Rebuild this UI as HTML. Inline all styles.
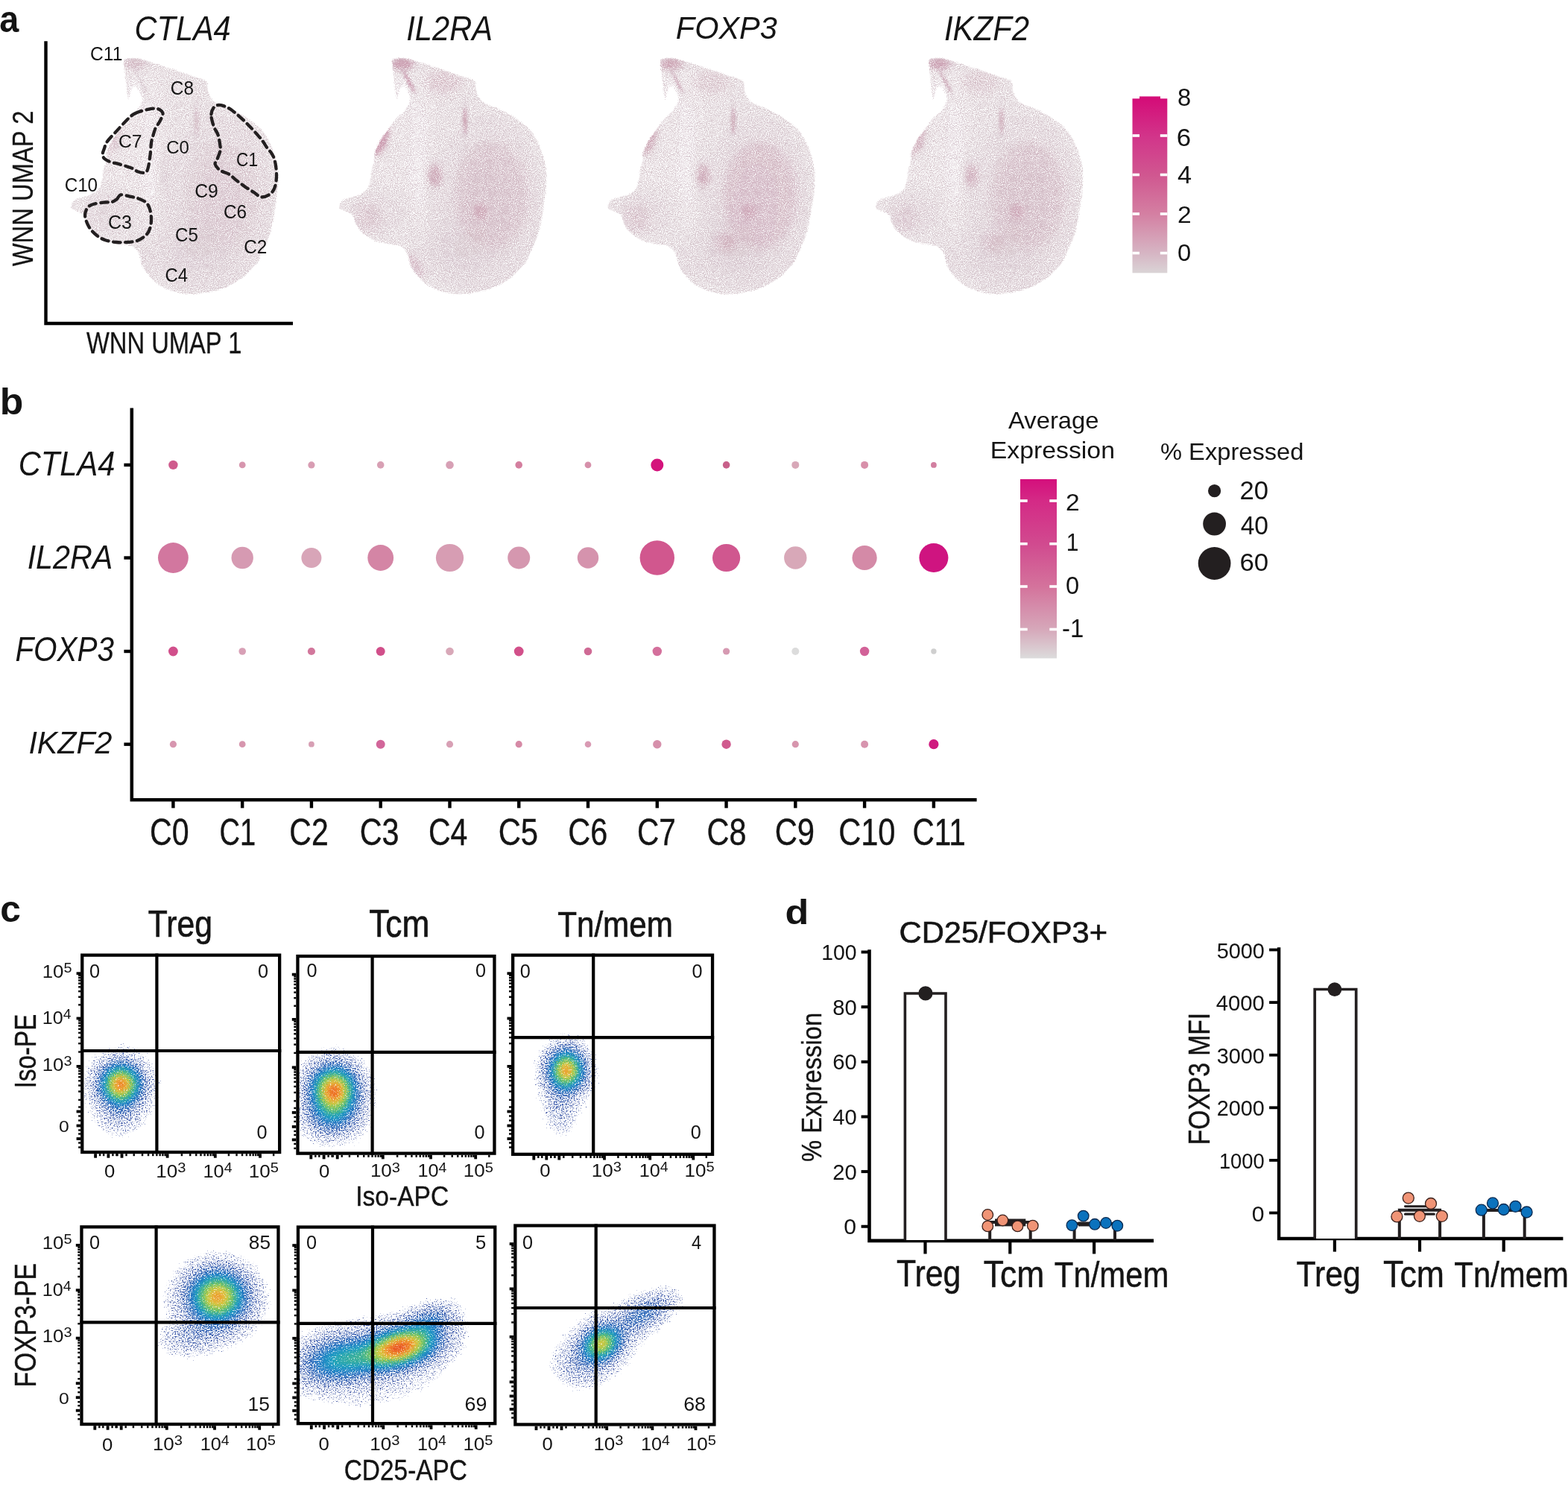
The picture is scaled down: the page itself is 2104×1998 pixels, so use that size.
<!DOCTYPE html><html><head><meta charset="utf-8"><title>Figure</title><style>html,body{margin:0;padding:0;background:#fff}svg{display:block}</style></head><body>
<svg xmlns="http://www.w3.org/2000/svg" width="2104" height="1998" viewBox="0 0 2104 1998">
<rect width="100%" height="100%" fill="#fff"/>
<defs>
<path id="blob" d="M166.0,79.0 C167.9,77.2 173.3,77.2 177.0,77.0 C180.7,76.8 182.5,76.8 188.0,78.0 C193.5,79.2 202.5,82.2 210.0,84.5 C217.5,86.8 225.3,89.4 233.0,92.0 C240.7,94.6 249.5,97.8 256.0,100.0 C262.5,102.2 268.2,103.3 272.0,105.0 C275.8,106.7 277.7,107.8 279.0,110.0 C280.3,112.2 279.5,115.2 280.0,118.0 C280.5,120.8 280.3,123.8 282.0,127.0 C283.7,130.2 286.2,134.3 290.0,137.0 C293.8,139.7 299.7,140.6 305.0,143.0 C310.3,145.4 316.2,148.2 322.0,151.5 C327.8,154.8 334.7,158.9 340.0,163.0 C345.3,167.1 350.0,171.0 354.0,176.0 C358.0,181.0 361.3,187.3 364.0,193.0 C366.7,198.7 368.3,204.2 370.0,210.0 C371.7,215.8 373.3,222.2 374.0,228.0 C374.7,233.8 374.2,239.7 374.0,245.0 C373.8,250.3 373.7,254.2 373.0,260.0 C372.3,265.8 371.0,273.7 370.0,280.0 C369.0,286.3 368.3,291.7 367.0,298.0 C365.7,304.3 364.2,311.7 362.0,318.0 C359.8,324.3 356.5,330.3 354.0,336.0 C351.5,341.7 350.0,347.3 347.0,352.0 C344.0,356.7 339.8,360.2 336.0,364.0 C332.2,367.8 329.8,371.1 324.0,375.0 C318.2,378.9 308.8,384.4 301.0,387.5 C293.2,390.6 284.8,392.1 277.0,393.5 C269.2,394.9 261.5,396.2 254.0,396.0 C246.5,395.8 239.0,394.2 232.0,392.0 C225.0,389.8 217.7,386.8 212.0,383.0 C206.3,379.2 201.7,373.3 198.0,369.0 C194.3,364.7 192.0,361.5 190.0,357.0 C188.0,352.5 187.8,346.0 186.0,342.0 C184.2,338.0 181.5,335.0 179.0,333.0 C176.5,331.0 174.8,330.9 171.0,330.0 C167.2,329.1 161.1,328.5 156.0,327.4 C150.9,326.3 145.8,326.0 140.7,323.6 C135.6,321.2 129.4,316.6 125.5,313.0 C121.5,309.4 119.2,306.0 117.0,302.0 C114.8,298.0 114.3,291.9 112.0,289.0 C109.7,286.1 105.8,285.8 103.0,284.5 C100.2,283.2 96.9,282.3 95.5,281.0 C94.1,279.7 93.8,278.8 94.5,276.5 C95.2,274.2 95.8,269.9 99.7,267.4 C103.6,264.9 112.7,263.7 118.0,261.4 C123.3,259.1 128.6,257.4 131.6,253.8 C134.6,250.2 134.9,244.6 136.0,240.0 C137.1,235.4 137.2,230.0 138.0,226.0 C138.8,222.0 140.4,219.5 141.0,216.0 C141.6,212.5 140.7,208.5 141.5,205.0 C142.3,201.5 144.2,198.5 146.0,195.0 C147.8,191.5 149.9,187.2 152.0,184.0 C154.1,180.8 156.3,178.5 158.5,175.5 C160.7,172.5 162.8,169.1 165.0,166.0 C167.2,162.9 169.4,159.7 172.0,157.0 C174.6,154.3 178.3,152.4 180.8,149.6 C183.3,146.8 185.6,142.9 187.0,140.0 C188.4,137.1 189.7,134.7 189.5,132.0 C189.3,129.3 187.4,126.5 186.0,124.0 C184.6,121.5 182.5,117.2 181.0,117.0 C179.5,116.8 178.2,120.5 177.0,123.0 C175.8,125.5 174.9,129.9 174.0,132.0 C173.1,134.1 172.2,136.8 171.5,135.5 C170.8,134.2 170.2,128.9 169.5,124.0 C168.8,119.1 168.2,112.0 167.5,106.0 C166.8,100.0 165.8,92.5 165.5,88.0 C165.2,83.5 164.1,80.8 166.0,79.0Z"/>
<clipPath id="blobclip"><use href="#blob"/></clipPath>
<filter id="blur3" x="-50%" y="-50%" width="200%" height="200%"><feGaussianBlur stdDeviation="6"/></filter>
<filter id="blurS" x="-200%" y="-50%" width="500%" height="200%"><feGaussianBlur stdDeviation="1.5"/></filter>
<filter id="blurM" x="-50%" y="-50%" width="200%" height="200%"><feGaussianBlur stdDeviation="3.5"/></filter>
<filter id="soft" x="-5%" y="-5%" width="110%" height="110%"><feGaussianBlur stdDeviation="0.8"/></filter>
<linearGradient id="cbA" x1="0" y1="0" x2="0" y2="1"><stop offset="0" stop-color="#d40d78"/><stop offset="0.22" stop-color="#d2358a"/><stop offset="0.44" stop-color="#d05790"/><stop offset="0.66" stop-color="#d47fa2"/><stop offset="0.89" stop-color="#d6b6c4"/><stop offset="1" stop-color="#dad4d6"/></linearGradient>
<linearGradient id="cbB" x1="0" y1="0" x2="0" y2="1"><stop offset="0" stop-color="#d40f7c"/><stop offset="0.12" stop-color="#d42a86"/><stop offset="0.36" stop-color="#d14a8f"/><stop offset="0.60" stop-color="#d4739c"/><stop offset="0.84" stop-color="#d6a8ba"/><stop offset="1" stop-color="#dcdcdc"/></linearGradient>
<filter id="speck" filterUnits="userSpaceOnUse" x="0" y="1150" width="1000" height="848" color-interpolation-filters="sRGB"><feTurbulence type="fractalNoise" baseFrequency="0.6" numOctaves="2" seed="11" result="n"/><feColorMatrix in="n" type="matrix" values="0 0 0 0 0  0 0 0 0 0  0 0 0 0 0  1 0 0 0 0" result="na"/><feGaussianBlur in="SourceGraphic" stdDeviation="1.4" result="b0"/><feTurbulence type="fractalNoise" baseFrequency="0.9" numOctaves="1" seed="23" result="n2"/><feDisplacementMap in="b0" in2="n2" scale="18" xChannelSelector="R" yChannelSelector="G" result="b"/><feComposite in="b" in2="na" operator="arithmetic" k1="0" k2="4" k3="4" k4="-4" result="m"/><feColorMatrix in="b" type="matrix" values="1 0 0 0 0  0 1 0 0 0  0 0 1 0 0  0 0 0 0 1" result="op"/><feComposite in="op" in2="m" operator="in"/></filter>
<filter id="speckU" filterUnits="userSpaceOnUse" x="0" y="50" width="1500" height="370" color-interpolation-filters="sRGB"><feGaussianBlur in="SourceGraphic" stdDeviation="1.2" result="b"/><feTurbulence type="fractalNoise" baseFrequency="0.95" numOctaves="2" seed="5" result="n"/><feColorMatrix in="n" type="matrix" values="0 0 0 0 0  0 0 0 0 0  0 0 0 0 0  1 0 0 0 0" result="na"/><feComposite in="b" in2="na" operator="arithmetic" k1="0" k2="3" k3="3" k4="-3" result="m"/><feColorMatrix in="b" type="matrix" values="1 0 0 0 0  0 1 0 0 0  0 0 1 0 0  0 0 0 0 1" result="op"/><feComposite in="op" in2="m" operator="in" result="s"/><feGaussianBlur in="s" stdDeviation="0.45"/></filter>
<clipPath id="blobclipk0"><use href="#blob" transform="translate(0,0)"/></clipPath><clipPath id="blobclipk1"><use href="#blob" transform="translate(360,0)"/></clipPath><clipPath id="blobclipk2"><use href="#blob" transform="translate(720,0)"/></clipPath><clipPath id="blobclipk3"><use href="#blob" transform="translate(1080,0)"/></clipPath><g id="ucov" clip-path="url(#blobclip)"><path d="M180 116h4v4h-4zM180 120h4v4h-4zM180 124h4v4h-4z" fill-opacity="0.550"/><path d="M180 112h4v4h-4zM176 116h4v4h-4zM184 116h4v4h-4zM176 120h4v4h-4zM184 120h4v4h-4zM176 124h4v4h-4zM184 124h4v4h-4zM180 128h4v4h-4z" fill-opacity="0.575"/><path d="M176 108h8v4h-8zM176 112h4v4h-4zM184 112h4v4h-4zM176 128h4v4h-4zM184 128h4v4h-4zM176 132h12v4h-12zM180 136h4v4h-4zM200 216h4v4h-4zM200 220h4v4h-4zM200 224h4v4h-4zM200 228h4v4h-4zM200 232h4v4h-4zM200 236h4v4h-4z" fill-opacity="0.600"/><path d="M176 104h8v4h-8zM172 108h4v4h-4zM172 112h4v4h-4zM172 116h4v4h-4zM172 120h4v4h-4zM188 120h4v4h-4zM172 124h4v4h-4zM188 124h4v4h-4zM172 128h4v4h-4zM188 128h4v4h-4zM172 132h4v4h-4zM188 132h4v4h-4zM176 136h4v4h-4zM184 136h8v4h-8zM196 136h4v4h-4zM176 140h28v4h-28zM180 144h8v4h-8zM192 144h16v4h-16zM192 148h16v4h-16zM192 152h20v4h-20zM192 156h20v4h-20zM192 160h20v4h-20zM192 164h20v4h-20zM192 168h20v4h-20zM192 172h20v4h-20zM192 176h20v4h-20zM192 180h20v4h-20zM192 184h20v4h-20zM192 188h20v4h-20zM192 192h20v4h-20zM192 196h20v4h-20zM192 200h20v4h-20zM192 204h20v4h-20zM192 208h20v4h-20zM192 212h20v4h-20zM188 216h12v4h-12zM204 216h8v4h-8zM188 220h12v4h-12zM204 220h4v4h-4zM188 224h12v4h-12zM204 224h4v4h-4zM188 228h12v4h-12zM204 228h4v4h-4zM188 232h12v4h-12zM204 232h4v4h-4zM188 236h12v4h-12zM204 236h4v4h-4zM188 240h20v4h-20zM192 244h16v4h-16zM192 248h16v4h-16zM192 252h16v4h-16zM196 256h12v4h-12zM196 260h12v4h-12zM196 264h12v4h-12zM200 268h4v4h-4zM200 272h4v4h-4z" fill-opacity="0.625"/><path d="M88 72h76v4h-76zM200 72h180v4h-180zM88 76h68v4h-68zM208 76h172v4h-172zM88 80h68v4h-68zM216 80h164v4h-164zM88 84h64v4h-64zM220 84h160v4h-160zM88 88h68v4h-68zM220 88h8v4h-8zM260 88h120v4h-120zM88 92h72v4h-72zM212 92h4v4h-4zM276 92h104v4h-104zM88 96h88v4h-88zM196 96h20v4h-20zM284 96h96v4h-96zM88 100h92v4h-92zM188 100h28v4h-28zM296 100h84v4h-84zM88 104h88v4h-88zM192 104h24v4h-24zM304 104h76v4h-76zM88 108h84v4h-84zM184 108h4v4h-4zM192 108h24v4h-24zM312 108h68v4h-68zM88 112h84v4h-84zM196 112h20v4h-20zM324 112h56v4h-56zM88 116h84v4h-84zM196 116h20v4h-20zM328 116h52v4h-52zM88 120h84v4h-84zM200 120h16v4h-16zM336 120h44v4h-44zM88 124h84v4h-84zM192 124h4v4h-4zM200 124h20v4h-20zM340 124h40v4h-40zM88 128h84v4h-84zM192 128h4v4h-4zM200 128h20v4h-20zM344 128h36v4h-36zM88 132h84v4h-84zM192 132h28v4h-28zM352 132h28v4h-28zM88 136h88v4h-88zM192 136h4v4h-4zM200 136h24v4h-24zM352 136h28v4h-28zM88 140h88v4h-88zM204 140h20v4h-20zM356 140h24v4h-24zM88 144h92v4h-92zM188 144h4v4h-4zM208 144h16v4h-16zM360 144h20v4h-20zM88 148h104v4h-104zM208 148h16v4h-16zM364 148h16v4h-16zM88 152h104v4h-104zM212 152h12v4h-12zM368 152h12v4h-12zM88 156h104v4h-104zM212 156h12v4h-12zM368 156h12v4h-12zM88 160h104v4h-104zM212 160h12v4h-12zM372 160h8v4h-8zM88 164h64v4h-64zM160 164h32v4h-32zM212 164h12v4h-12zM372 164h8v4h-8zM88 168h60v4h-60zM164 168h28v4h-28zM212 168h8v4h-8zM376 168h4v4h-4zM88 172h56v4h-56zM164 172h28v4h-28zM212 172h8v4h-8zM376 172h4v4h-4zM88 176h56v4h-56zM168 176h24v4h-24zM212 176h8v4h-8zM88 180h56v4h-56zM168 180h24v4h-24zM212 180h8v4h-8zM88 184h56v4h-56zM168 184h24v4h-24zM212 184h8v4h-8zM88 188h56v4h-56zM168 188h24v4h-24zM212 188h8v4h-8zM88 192h56v4h-56zM168 192h24v4h-24zM212 192h8v4h-8zM88 196h56v4h-56zM168 196h24v4h-24zM212 196h4v4h-4zM88 200h56v4h-56zM168 200h24v4h-24zM212 200h4v4h-4zM88 204h56v4h-56zM164 204h28v4h-28zM212 204h4v4h-4zM88 208h60v4h-60zM164 208h28v4h-28zM212 208h4v4h-4zM88 212h60v4h-60zM160 212h32v4h-32zM212 212h4v4h-4zM88 216h100v4h-100zM88 220h100v4h-100zM208 220h4v4h-4zM88 224h100v4h-100zM208 224h4v4h-4zM88 228h100v4h-100zM208 228h4v4h-4zM88 232h100v4h-100zM208 232h4v4h-4zM88 236h100v4h-100zM208 236h4v4h-4zM88 240h100v4h-100zM208 240h4v4h-4zM88 244h28v4h-28zM148 244h44v4h-44zM208 244h4v4h-4zM88 248h20v4h-20zM164 248h28v4h-28zM208 248h4v4h-4zM88 252h16v4h-16zM180 252h12v4h-12zM208 252h4v4h-4zM88 256h12v4h-12zM184 256h12v4h-12zM208 256h4v4h-4zM88 260h8v4h-8zM188 260h8v4h-8zM208 260h4v4h-4zM88 264h4v4h-4zM188 264h8v4h-8zM208 264h4v4h-4zM88 268h4v4h-4zM188 268h12v4h-12zM204 268h8v4h-8zM88 272h4v4h-4zM192 272h8v4h-8zM204 272h8v4h-8zM192 276h20v4h-20zM192 280h20v4h-20zM192 284h20v4h-20zM192 288h20v4h-20zM196 292h12v4h-12zM88 296h4v4h-4zM196 296h12v4h-12zM88 300h4v4h-4zM196 300h12v4h-12zM88 304h4v4h-4zM200 304h4v4h-4zM88 308h8v4h-8zM88 312h12v4h-12zM88 316h16v4h-16zM88 320h20v4h-20zM88 324h28v4h-28zM88 328h36v4h-36zM88 332h52v4h-52zM88 336h72v4h-72zM88 340h80v4h-80zM88 344h84v4h-84zM88 348h84v4h-84zM88 352h84v4h-84zM88 356h88v4h-88zM376 356h4v4h-4zM88 360h88v4h-88zM376 360h4v4h-4zM88 364h88v4h-88zM372 364h8v4h-8zM88 368h92v4h-92zM372 368h8v4h-8zM88 372h92v4h-92zM368 372h12v4h-12zM88 376h96v4h-96zM364 376h16v4h-16zM88 380h100v4h-100zM364 380h16v4h-16zM88 384h104v4h-104zM360 384h20v4h-20zM88 388h120v4h-120zM356 388h24v4h-24zM88 392h128v4h-128zM352 392h28v4h-28zM88 396h132v4h-132zM348 396h32v4h-32z" fill-opacity="0.650"/><path d="M164 72h36v4h-36zM156 76h12v4h-12zM200 76h8v4h-8zM156 80h8v4h-8zM204 80h12v4h-12zM152 84h8v4h-8zM204 84h16v4h-16zM156 88h8v4h-8zM204 88h16v4h-16zM228 88h32v4h-32zM160 92h12v4h-12zM192 92h20v4h-20zM216 92h60v4h-60zM176 96h4v4h-4zM188 96h8v4h-8zM216 96h68v4h-68zM180 100h4v4h-4zM216 100h80v4h-80zM188 104h4v4h-4zM216 104h88v4h-88zM216 108h96v4h-96zM216 112h108v4h-108zM188 116h4v4h-4zM216 116h112v4h-112zM196 120h4v4h-4zM216 120h120v4h-120zM220 124h120v4h-120zM196 128h4v4h-4zM220 128h40v4h-40zM268 128h76v4h-76zM220 132h40v4h-40zM268 132h84v4h-84zM224 136h36v4h-36zM268 136h84v4h-84zM224 140h36v4h-36zM268 140h88v4h-88zM224 144h36v4h-36zM268 144h92v4h-92zM224 148h36v4h-36zM268 148h96v4h-96zM224 152h36v4h-36zM272 152h96v4h-96zM224 156h36v4h-36zM272 156h4v4h-4zM312 156h56v4h-56zM224 160h32v4h-32zM320 160h52v4h-52zM152 164h8v4h-8zM224 164h32v4h-32zM324 164h48v4h-48zM148 168h16v4h-16zM220 168h36v4h-36zM332 168h44v4h-44zM144 172h20v4h-20zM220 172h36v4h-36zM336 172h40v4h-40zM144 176h24v4h-24zM220 176h32v4h-32zM340 176h40v4h-40zM144 180h8v4h-8zM156 180h12v4h-12zM220 180h28v4h-28zM340 180h40v4h-40zM144 184h8v4h-8zM160 184h8v4h-8zM220 184h24v4h-24zM344 184h36v4h-36zM144 188h8v4h-8zM160 188h8v4h-8zM220 188h24v4h-24zM348 188h32v4h-32zM144 192h8v4h-8zM160 192h8v4h-8zM220 192h20v4h-20zM348 192h32v4h-32zM144 196h8v4h-8zM160 196h8v4h-8zM216 196h24v4h-24zM352 196h28v4h-28zM144 200h24v4h-24zM216 200h20v4h-20zM352 200h28v4h-28zM144 204h20v4h-20zM216 204h20v4h-20zM356 204h24v4h-24zM148 208h16v4h-16zM216 208h4v4h-4zM356 208h24v4h-24zM148 212h12v4h-12zM216 212h4v4h-4zM356 212h24v4h-24zM212 216h4v4h-4zM360 216h20v4h-20zM212 220h4v4h-4zM360 220h20v4h-20zM212 224h4v4h-4zM360 224h20v4h-20zM212 228h4v4h-4zM364 228h16v4h-16zM212 232h4v4h-4zM364 232h16v4h-16zM212 236h4v4h-4zM364 236h16v4h-16zM212 240h4v4h-4zM364 240h16v4h-16zM116 244h32v4h-32zM212 244h4v4h-4zM364 244h16v4h-16zM108 248h56v4h-56zM212 248h4v4h-4zM364 248h16v4h-16zM104 252h76v4h-76zM212 252h4v4h-4zM364 252h16v4h-16zM100 256h84v4h-84zM212 256h4v4h-4zM364 256h16v4h-16zM96 260h32v4h-32zM156 260h32v4h-32zM212 260h8v4h-8zM364 260h16v4h-16zM92 264h28v4h-28zM164 264h24v4h-24zM212 264h8v4h-8zM368 264h12v4h-12zM92 268h24v4h-24zM172 268h16v4h-16zM212 268h8v4h-8zM364 268h16v4h-16zM92 272h20v4h-20zM176 272h16v4h-16zM212 272h8v4h-8zM364 272h16v4h-16zM88 276h24v4h-24zM176 276h16v4h-16zM212 276h8v4h-8zM364 276h16v4h-16zM88 280h20v4h-20zM180 280h12v4h-12zM212 280h8v4h-8zM364 280h16v4h-16zM88 284h20v4h-20zM180 284h12v4h-12zM212 284h8v4h-8zM364 284h16v4h-16zM88 288h20v4h-20zM180 288h12v4h-12zM212 288h8v4h-8zM364 288h16v4h-16zM88 292h24v4h-24zM180 292h16v4h-16zM208 292h8v4h-8zM364 292h16v4h-16zM92 296h20v4h-20zM180 296h16v4h-16zM208 296h8v4h-8zM364 296h16v4h-16zM92 300h24v4h-24zM176 300h20v4h-20zM208 300h8v4h-8zM364 300h16v4h-16zM92 304h28v4h-28zM172 304h28v4h-28zM204 304h12v4h-12zM360 304h20v4h-20zM96 308h28v4h-28zM164 308h48v4h-48zM360 308h20v4h-20zM100 312h40v4h-40zM152 312h60v4h-60zM360 312h20v4h-20zM104 316h108v4h-108zM360 316h20v4h-20zM108 320h100v4h-100zM356 320h24v4h-24zM116 324h92v4h-92zM356 324h24v4h-24zM124 328h80v4h-80zM356 328h24v4h-24zM140 332h48v4h-48zM352 332h28v4h-28zM160 336h28v4h-28zM352 336h28v4h-28zM168 340h16v4h-16zM348 340h32v4h-32zM172 344h12v4h-12zM348 344h32v4h-32zM172 348h12v4h-12zM344 348h36v4h-36zM172 352h12v4h-12zM344 352h36v4h-36zM176 356h12v4h-12zM340 356h36v4h-36zM176 360h12v4h-12zM336 360h40v4h-40zM176 364h12v4h-12zM332 364h40v4h-40zM180 368h12v4h-12zM208 368h8v4h-8zM328 368h44v4h-44zM180 372h44v4h-44zM324 372h44v4h-44zM184 376h44v4h-44zM320 376h44v4h-44zM188 380h48v4h-48zM312 380h52v4h-52zM192 384h56v4h-56zM304 384h56v4h-56zM208 388h60v4h-60zM284 388h72v4h-72zM216 392h136v4h-136zM220 396h128v4h-128z" fill-opacity="0.675"/><path d="M168 76h4v4h-4zM192 76h8v4h-8zM164 80h4v4h-4zM200 80h4v4h-4zM160 84h8v4h-8zM200 84h4v4h-4zM164 88h8v4h-8zM196 88h8v4h-8zM172 92h4v4h-4zM184 92h8v4h-8zM184 96h4v4h-4zM192 112h4v4h-4zM192 120h4v4h-4zM196 124h4v4h-4zM260 128h8v4h-8zM260 132h8v4h-8zM260 136h8v4h-8zM268 152h4v4h-4zM268 156h4v4h-4zM276 156h36v4h-36zM256 160h4v4h-4zM268 160h52v4h-52zM256 164h4v4h-4zM268 164h56v4h-56zM256 168h4v4h-4zM268 168h64v4h-64zM256 172h4v4h-4zM268 172h68v4h-68zM252 176h8v4h-8zM268 176h72v4h-72zM152 180h4v4h-4zM248 180h12v4h-12zM268 180h72v4h-72zM152 184h8v4h-8zM244 184h16v4h-16zM268 184h76v4h-76zM152 188h8v4h-8zM244 188h16v4h-16zM268 188h16v4h-16zM304 188h44v4h-44zM152 192h8v4h-8zM240 192h20v4h-20zM268 192h8v4h-8zM312 192h36v4h-36zM152 196h8v4h-8zM240 196h20v4h-20zM320 196h32v4h-32zM236 200h24v4h-24zM324 200h28v4h-28zM236 204h24v4h-24zM328 204h28v4h-28zM220 208h40v4h-40zM328 208h28v4h-28zM220 212h36v4h-36zM332 212h24v4h-24zM216 216h40v4h-40zM336 216h24v4h-24zM216 220h4v4h-4zM228 220h24v4h-24zM336 220h24v4h-24zM216 224h4v4h-4zM228 224h24v4h-24zM336 224h24v4h-24zM228 228h24v4h-24zM340 228h24v4h-24zM228 232h20v4h-20zM340 232h24v4h-24zM228 236h20v4h-20zM340 236h24v4h-24zM228 240h20v4h-20zM344 240h20v4h-20zM228 244h20v4h-20zM344 244h20v4h-20zM216 248h4v4h-4zM228 248h16v4h-16zM344 248h20v4h-20zM216 252h4v4h-4zM228 252h16v4h-16zM344 252h20v4h-20zM216 256h28v4h-28zM344 256h20v4h-20zM128 260h28v4h-28zM220 260h24v4h-24zM344 260h20v4h-20zM120 264h44v4h-44zM220 264h24v4h-24zM344 264h24v4h-24zM116 268h56v4h-56zM220 268h20v4h-20zM344 268h20v4h-20zM112 272h64v4h-64zM220 272h20v4h-20zM344 272h20v4h-20zM112 276h24v4h-24zM148 276h28v4h-28zM220 276h20v4h-20zM344 276h20v4h-20zM108 280h24v4h-24zM152 280h28v4h-28zM220 280h16v4h-16zM344 280h20v4h-20zM108 284h24v4h-24zM152 284h28v4h-28zM220 284h16v4h-16zM344 284h20v4h-20zM108 288h24v4h-24zM152 288h28v4h-28zM220 288h16v4h-16zM344 288h20v4h-20zM112 292h24v4h-24zM148 292h32v4h-32zM216 292h16v4h-16zM344 292h20v4h-20zM112 296h68v4h-68zM216 296h12v4h-12zM340 296h24v4h-24zM116 300h60v4h-60zM216 300h12v4h-12zM340 300h24v4h-24zM120 304h52v4h-52zM216 304h8v4h-8zM340 304h20v4h-20zM124 308h40v4h-40zM212 308h12v4h-12zM340 308h20v4h-20zM140 312h12v4h-12zM212 312h12v4h-12zM336 312h24v4h-24zM212 316h8v4h-8zM336 316h24v4h-24zM208 320h12v4h-12zM336 320h20v4h-20zM208 324h12v4h-12zM332 324h24v4h-24zM204 328h12v4h-12zM332 328h24v4h-24zM188 332h28v4h-28zM332 332h20v4h-20zM188 336h28v4h-28zM328 336h24v4h-24zM184 340h32v4h-32zM324 340h24v4h-24zM184 344h32v4h-32zM324 344h24v4h-24zM184 348h36v4h-36zM320 348h24v4h-24zM184 352h36v4h-36zM316 352h28v4h-28zM188 356h36v4h-36zM312 356h28v4h-28zM188 360h44v4h-44zM308 360h28v4h-28zM188 364h48v4h-48zM304 364h28v4h-28zM192 368h16v4h-16zM216 368h28v4h-28zM292 368h36v4h-36zM224 372h36v4h-36zM280 372h44v4h-44zM228 376h92v4h-92zM236 380h76v4h-76zM248 384h56v4h-56zM268 388h16v4h-16z" fill-opacity="0.700"/><path d="M172 76h20v4h-20zM168 80h4v4h-4zM192 80h8v4h-8zM168 84h4v4h-4zM196 84h4v4h-4zM172 88h4v4h-4zM188 88h8v4h-8zM176 92h4v4h-4zM184 100h4v4h-4zM184 104h4v4h-4zM260 140h8v4h-8zM260 144h8v4h-8zM260 184h8v4h-8zM260 188h8v4h-8zM284 188h20v4h-20zM260 192h8v4h-8zM276 192h36v4h-36zM260 196h60v4h-60zM260 200h64v4h-64zM260 204h68v4h-68zM260 208h68v4h-68zM256 212h76v4h-76zM256 216h80v4h-80zM220 220h8v4h-8zM252 220h36v4h-36zM300 220h36v4h-36zM220 224h8v4h-8zM252 224h28v4h-28zM308 224h28v4h-28zM216 228h12v4h-12zM252 228h24v4h-24zM312 228h28v4h-28zM216 232h4v4h-4zM224 232h4v4h-4zM248 232h28v4h-28zM316 232h24v4h-24zM216 236h4v4h-4zM224 236h4v4h-4zM248 236h24v4h-24zM316 236h24v4h-24zM216 240h4v4h-4zM224 240h4v4h-4zM248 240h24v4h-24zM320 240h24v4h-24zM216 244h12v4h-12zM248 244h20v4h-20zM320 244h24v4h-24zM220 248h8v4h-8zM244 248h24v4h-24zM320 248h24v4h-24zM220 252h8v4h-8zM244 252h24v4h-24zM324 252h20v4h-20zM244 256h20v4h-20zM324 256h20v4h-20zM244 260h20v4h-20zM324 260h20v4h-20zM244 264h20v4h-20zM324 264h20v4h-20zM240 268h24v4h-24zM324 268h20v4h-20zM240 272h20v4h-20zM324 272h20v4h-20zM136 276h12v4h-12zM240 276h20v4h-20zM324 276h20v4h-20zM132 280h20v4h-20zM236 280h24v4h-24zM324 280h20v4h-20zM132 284h20v4h-20zM236 284h20v4h-20zM324 284h20v4h-20zM132 288h20v4h-20zM236 288h16v4h-16zM324 288h20v4h-20zM136 292h12v4h-12zM232 292h20v4h-20zM320 292h24v4h-24zM228 296h20v4h-20zM320 296h20v4h-20zM228 300h16v4h-16zM320 300h20v4h-20zM224 304h20v4h-20zM320 304h20v4h-20zM224 308h16v4h-16zM320 308h20v4h-20zM224 312h12v4h-12zM316 312h20v4h-20zM220 316h16v4h-16zM316 316h20v4h-20zM220 320h12v4h-12zM316 320h20v4h-20zM220 324h12v4h-12zM316 324h16v4h-16zM216 328h16v4h-16zM312 328h20v4h-20zM216 332h12v4h-12zM312 332h20v4h-20zM216 336h16v4h-16zM308 336h20v4h-20zM216 340h16v4h-16zM304 340h20v4h-20zM216 344h16v4h-16zM304 344h20v4h-20zM220 348h16v4h-16zM300 348h20v4h-20zM220 352h20v4h-20zM292 352h24v4h-24zM224 356h24v4h-24zM288 356h24v4h-24zM232 360h32v4h-32zM268 360h40v4h-40zM236 364h68v4h-68zM244 368h48v4h-48zM260 372h20v4h-20z" fill-opacity="0.725"/><path d="M172 80h4v4h-4zM188 80h4v4h-4zM192 84h4v4h-4zM180 88h8v4h-8zM180 92h4v4h-4zM180 96h4v4h-4zM188 108h4v4h-4zM188 112h4v4h-4zM192 116h4v4h-4zM260 148h8v4h-8zM260 152h8v4h-8zM260 172h8v4h-8zM260 176h8v4h-8zM260 180h8v4h-8zM288 220h12v4h-12zM280 224h28v4h-28zM276 228h36v4h-36zM220 232h4v4h-4zM276 232h40v4h-40zM220 236h4v4h-4zM272 236h44v4h-44zM220 240h4v4h-4zM272 240h48v4h-48zM268 244h52v4h-52zM268 248h52v4h-52zM268 252h56v4h-56zM264 256h60v4h-60zM264 260h60v4h-60zM264 264h60v4h-60zM264 268h60v4h-60zM260 272h64v4h-64zM260 276h64v4h-64zM260 280h64v4h-64zM256 284h68v4h-68zM252 288h72v4h-72zM252 292h68v4h-68zM248 296h72v4h-72zM244 300h76v4h-76zM244 304h28v4h-28zM288 304h32v4h-32zM240 308h24v4h-24zM292 308h28v4h-28zM236 312h24v4h-24zM292 312h24v4h-24zM236 316h20v4h-20zM292 316h24v4h-24zM232 320h20v4h-20zM292 320h24v4h-24zM232 324h16v4h-16zM292 324h24v4h-24zM232 328h16v4h-16zM292 328h20v4h-20zM228 332h20v4h-20zM288 332h24v4h-24zM232 336h16v4h-16zM284 336h24v4h-24zM232 340h20v4h-20zM280 340h24v4h-24zM232 344h28v4h-28zM272 344h32v4h-32zM236 348h64v4h-64zM240 352h52v4h-52zM248 356h40v4h-40zM264 360h4v4h-4z" fill-opacity="0.750"/><path d="M176 80h12v4h-12zM172 84h4v4h-4zM180 84h12v4h-12zM176 88h4v4h-4zM260 156h8v4h-8zM260 160h8v4h-8zM260 164h8v4h-8zM260 168h8v4h-8zM272 304h16v4h-16zM264 308h28v4h-28zM260 312h32v4h-32zM256 316h36v4h-36zM252 320h40v4h-40zM248 324h44v4h-44zM248 328h44v4h-44zM248 332h40v4h-40zM248 336h36v4h-36zM252 340h28v4h-28zM260 344h12v4h-12z" fill-opacity="0.775"/><path d="M176 84h4v4h-4z" fill-opacity="0.800"/></g></defs>
<g filter="url(#speckU)">
<use href="#ucov" transform="translate(0,0)" fill="#d6c6cd"/>
<g clip-path="url(#blobclipk0)">
<g filter="url(#blurM)"><ellipse transform="translate(152,189) rotate(22)" rx="7" ry="21" fill="#c4809c" fill-opacity="0.15"/></g>
<g filter="url(#blur3)"><ellipse transform="translate(300,262) rotate(0)" rx="50" ry="72" fill="#c4809c" fill-opacity="0.05"/></g>
<g filter="url(#blurS)"><ellipse transform="translate(264,162) rotate(0)" rx="2.5" ry="18" fill="#c4809c" fill-opacity="0.15"/></g>
<g filter="url(#blurM)"><ellipse transform="translate(180,86) rotate(0)" rx="15" ry="7" fill="#c4809c" fill-opacity="0.15"/></g>
</g>
<use href="#ucov" transform="translate(360,0)" fill="#d6c6cd"/>
<g clip-path="url(#blobclipk1)">
<g filter="url(#blurM)"><ellipse transform="translate(540,86) rotate(0)" rx="15" ry="7" fill="#c4809c" fill-opacity="0.5"/></g>
<g filter="url(#blurS)"><ellipse transform="translate(549,110) rotate(62)" rx="16" ry="2.2" fill="#c4809c" fill-opacity="0.55"/></g>
<g filter="url(#blurM)"><ellipse transform="translate(512,189) rotate(22)" rx="7" ry="21" fill="#c4809c" fill-opacity="0.55"/></g>
<g filter="url(#blurM)"><ellipse transform="translate(584,236) rotate(0)" rx="9" ry="15" fill="#c4809c" fill-opacity="0.35"/></g>
<g filter="url(#blurM)"><ellipse transform="translate(645,284) rotate(0)" rx="9" ry="10" fill="#c4809c" fill-opacity="0.3"/></g>
<g filter="url(#blurM)"><ellipse transform="translate(558,357) rotate(-30)" rx="6" ry="18" fill="#c4809c" fill-opacity="0.2"/></g>
<g filter="url(#blur3)"><ellipse transform="translate(660,262) rotate(0)" rx="50" ry="72" fill="#c4809c" fill-opacity="0.12"/></g>
<g filter="url(#blurS)"><ellipse transform="translate(624,162) rotate(0)" rx="2.5" ry="18" fill="#c4809c" fill-opacity="0.4"/></g>
<g filter="url(#blur3)"><ellipse transform="translate(495,292) rotate(0)" rx="18" ry="18" fill="#c4809c" fill-opacity="0.12"/></g>
<g filter="url(#blur3)"><ellipse transform="translate(595,110) rotate(0)" rx="25" ry="15" fill="#c4809c" fill-opacity="0.15"/></g>
</g>
<use href="#ucov" transform="translate(720,0)" fill="#d6c6cd"/>
<g clip-path="url(#blobclipk2)">
<g filter="url(#blurM)"><ellipse transform="translate(900,86) rotate(0)" rx="15" ry="7" fill="#c4809c" fill-opacity="0.4"/></g>
<g filter="url(#blurS)"><ellipse transform="translate(909,110) rotate(62)" rx="16" ry="2.2" fill="#c4809c" fill-opacity="0.3"/></g>
<g filter="url(#blurM)"><ellipse transform="translate(872,189) rotate(22)" rx="7" ry="21" fill="#c4809c" fill-opacity="0.35"/></g>
<g filter="url(#blurM)"><ellipse transform="translate(944,236) rotate(0)" rx="9" ry="15" fill="#c4809c" fill-opacity="0.3"/></g>
<g filter="url(#blurM)"><ellipse transform="translate(1005,284) rotate(0)" rx="9" ry="10" fill="#c4809c" fill-opacity="0.25"/></g>
<g filter="url(#blur3)"><ellipse transform="translate(975,325) rotate(0)" rx="14" ry="12" fill="#c4809c" fill-opacity="0.25"/></g>
<g filter="url(#blur3)"><ellipse transform="translate(1020,262) rotate(0)" rx="50" ry="72" fill="#c4809c" fill-opacity="0.16"/></g>
<g filter="url(#blurS)"><ellipse transform="translate(984,162) rotate(0)" rx="2.5" ry="18" fill="#c4809c" fill-opacity="0.35"/></g>
<g filter="url(#blur3)"><ellipse transform="translate(855,292) rotate(0)" rx="18" ry="18" fill="#c4809c" fill-opacity="0.12"/></g>
<g filter="url(#blur3)"><ellipse transform="translate(955,110) rotate(0)" rx="25" ry="15" fill="#c4809c" fill-opacity="0.12"/></g>
</g>
<use href="#ucov" transform="translate(1080,0)" fill="#d6c6cd"/>
<g clip-path="url(#blobclipk3)">
<g filter="url(#blurM)"><ellipse transform="translate(1260,86) rotate(0)" rx="15" ry="7" fill="#c4809c" fill-opacity="0.45"/></g>
<g filter="url(#blurS)"><ellipse transform="translate(1269,110) rotate(62)" rx="16" ry="2.2" fill="#c4809c" fill-opacity="0.35"/></g>
<g filter="url(#blurM)"><ellipse transform="translate(1232,189) rotate(22)" rx="7" ry="21" fill="#c4809c" fill-opacity="0.3"/></g>
<g filter="url(#blurM)"><ellipse transform="translate(1304,236) rotate(0)" rx="9" ry="15" fill="#c4809c" fill-opacity="0.25"/></g>
<g filter="url(#blurM)"><ellipse transform="translate(1365,284) rotate(0)" rx="9" ry="10" fill="#c4809c" fill-opacity="0.25"/></g>
<g filter="url(#blur3)"><ellipse transform="translate(1335,325) rotate(0)" rx="14" ry="12" fill="#c4809c" fill-opacity="0.15"/></g>
<g filter="url(#blur3)"><ellipse transform="translate(1380,262) rotate(0)" rx="50" ry="72" fill="#c4809c" fill-opacity="0.12"/></g>
<g filter="url(#blurS)"><ellipse transform="translate(1344,162) rotate(0)" rx="2.5" ry="18" fill="#c4809c" fill-opacity="0.3"/></g>
<g filter="url(#blur3)"><ellipse transform="translate(1215,292) rotate(0)" rx="18" ry="18" fill="#c4809c" fill-opacity="0.1"/></g>
<g filter="url(#blur3)"><ellipse transform="translate(1315,110) rotate(0)" rx="25" ry="15" fill="#c4809c" fill-opacity="0.12"/></g>
</g>
</g>
<path d="M61.5,55.3 V434 H393" fill="none" stroke="#000" stroke-width="4.4"/>
<path d="M181.2,152.2 C185.9,149.9 194.3,147.6 199.4,146.6 C204.5,145.6 208.5,145.3 211.6,146.1 C214.7,146.9 217.3,149.3 218.2,151.2 C219.1,153.1 217.8,155.3 217.0,157.5 C216.2,159.7 215.0,161.8 213.6,164.3 C212.2,166.8 209.9,169.2 208.5,172.4 C207.1,175.6 205.9,180.3 205.0,183.5 C204.1,186.7 203.6,187.5 203.0,191.6 C202.4,195.7 202.3,202.4 201.5,208.2 C200.7,214.0 199.7,222.5 198.4,226.4 C197.1,230.3 196.2,231.1 193.9,231.7 C191.6,232.3 187.5,231.2 184.7,230.2 C181.9,229.2 181.2,227.3 177.2,225.7 C173.2,224.1 165.3,221.8 160.5,220.4 C155.7,219.0 151.7,218.6 148.3,217.3 C144.9,216.0 141.8,214.6 140.0,212.8 C138.2,211.0 137.7,209.0 137.7,206.7 C137.7,204.4 139.0,201.9 140.0,199.1 C141.0,196.3 141.0,193.9 143.8,190.0 C146.6,186.1 152.4,180.3 156.9,175.4 C161.4,170.5 166.9,164.2 171.0,160.3 C175.1,156.4 176.5,154.5 181.2,152.2Z" fill="none" stroke="#231f20" stroke-width="4.3" stroke-dasharray="9.5 6.5" stroke-linecap="round"/>
<path d="M156.7,267.4 C158.7,265.8 159.1,262.0 162.0,261.4 C164.9,260.8 170.2,262.8 174.0,263.6 C177.8,264.4 181.1,264.7 184.7,266.0 C188.3,267.3 192.7,268.9 195.4,271.2 C198.1,273.5 199.4,275.9 200.7,279.6 C202.0,283.3 202.9,288.9 203.0,293.2 C203.1,297.5 202.5,301.8 201.5,305.4 C200.5,308.9 199.7,311.6 196.9,314.5 C194.1,317.4 189.0,321.1 184.7,322.8 C180.4,324.6 175.8,324.6 171.0,325.0 C166.2,325.4 161.0,325.5 155.9,325.0 C150.8,324.5 145.0,323.5 140.7,322.0 C136.4,320.5 133.3,318.5 130.0,316.0 C126.7,313.5 123.4,310.2 121.0,306.9 C118.6,303.6 116.8,299.6 115.7,296.3 C114.6,293.0 113.8,290.2 114.2,287.2 C114.6,284.1 115.9,280.3 118.0,278.0 C120.1,275.7 123.2,274.6 127.0,273.5 C130.8,272.4 136.9,271.9 140.7,271.5 C144.5,271.1 147.1,271.9 149.8,271.2 C152.5,270.5 154.7,269.0 156.7,267.4Z" fill="none" stroke="#231f20" stroke-width="4.3" stroke-dasharray="9.5 6.5" stroke-linecap="round"/>
<path d="M283.4,153.3 C283.7,148.7 286.2,144.0 289.0,142.1 C291.8,140.2 296.1,140.8 300.2,142.1 C304.2,143.3 308.0,145.5 313.3,149.6 C318.6,153.7 325.8,160.2 332.0,166.4 C338.2,172.6 346.3,181.7 350.6,186.9 C354.9,192.1 355.6,194.6 357.8,197.6 C360.0,200.6 362.2,202.4 364.0,205.2 C365.8,208.0 367.3,210.5 368.4,214.3 C369.5,218.1 370.3,223.4 370.7,228.0 C371.1,232.6 371.2,237.3 370.7,241.6 C370.2,245.9 369.3,250.5 367.7,253.8 C366.1,257.1 363.8,259.6 360.9,261.4 C358.0,263.2 353.5,264.9 350.2,264.4 C346.9,263.9 344.5,260.6 341.0,258.3 C337.5,256.0 333.0,253.5 329.0,250.7 C325.0,247.9 320.4,244.4 316.8,241.6 C313.2,238.8 311.2,236.2 307.7,234.0 C304.2,231.8 298.8,231.0 295.6,228.7 C292.4,226.4 289.3,223.1 288.7,220.4 C288.1,217.8 290.6,215.9 291.8,212.8 C293.0,209.7 295.0,204.8 295.6,202.0 C296.2,199.2 296.0,199.6 295.5,196.2 C295.0,192.8 294.1,185.7 292.7,181.3 C291.3,176.9 288.6,174.7 287.0,170.0 C285.4,165.3 283.1,158.0 283.4,153.3Z" fill="none" stroke="#231f20" stroke-width="4.3" stroke-dasharray="9.5 6.5" stroke-linecap="round"/>
<rect x="1519.5" y="132.3" width="46.8" height="234" fill="url(#cbA)"/>
<rect x="1529" y="129.4" width="28" height="4" fill="#d40d78"/>
<rect x="1519.5" y="180.2" width="9.5" height="3.6" fill="#fff"/><rect x="1556.8" y="180.2" width="9.5" height="3.6" fill="#fff"/>
<rect x="1519.5" y="232.7" width="9.5" height="3.6" fill="#fff"/><rect x="1556.8" y="232.7" width="9.5" height="3.6" fill="#fff"/>
<rect x="1519.5" y="285.2" width="9.5" height="3.6" fill="#fff"/><rect x="1556.8" y="285.2" width="9.5" height="3.6" fill="#fff"/>
<rect x="1519.5" y="337.8" width="9.5" height="3.6" fill="#fff"/><rect x="1556.8" y="337.8" width="9.5" height="3.6" fill="#fff"/>
<path d="M176.8,547.5 V1073.3 H1310.6" fill="none" stroke="#000" stroke-width="4.5"/>
<rect x="166.4" y="621.6999999999999" width="9" height="4.4" fill="#000"/>
<rect x="166.4" y="746.3" width="9" height="4.4" fill="#000"/>
<rect x="166.4" y="871.8" width="9" height="4.4" fill="#000"/>
<rect x="166.4" y="996.5" width="9" height="4.4" fill="#000"/>
<rect x="230.20000000000002" y="1075" width="4.4" height="9.3" fill="#000"/>
<rect x="322.97" y="1075" width="4.4" height="9.3" fill="#000"/>
<rect x="415.74" y="1075" width="4.4" height="9.3" fill="#000"/>
<rect x="508.51000000000005" y="1075" width="4.4" height="9.3" fill="#000"/>
<rect x="601.28" y="1075" width="4.4" height="9.3" fill="#000"/>
<rect x="694.05" y="1075" width="4.4" height="9.3" fill="#000"/>
<rect x="786.8199999999999" y="1075" width="4.4" height="9.3" fill="#000"/>
<rect x="879.5899999999999" y="1075" width="4.4" height="9.3" fill="#000"/>
<rect x="972.3599999999999" y="1075" width="4.4" height="9.3" fill="#000"/>
<rect x="1065.1299999999999" y="1075" width="4.4" height="9.3" fill="#000"/>
<rect x="1157.8999999999999" y="1075" width="4.4" height="9.3" fill="#000"/>
<rect x="1250.6699999999998" y="1075" width="4.4" height="9.3" fill="#000"/>
<circle cx="232.4" cy="623.9" r="6.2" fill="#cf5b8d"/>
<circle cx="325.2" cy="623.9" r="4.4" fill="#d796ae"/>
<circle cx="417.9" cy="623.9" r="4.6" fill="#d89db3"/>
<circle cx="510.7" cy="623.9" r="4.8" fill="#d8a0b4"/>
<circle cx="603.5" cy="623.9" r="5.3" fill="#d7a0b5"/>
<circle cx="696.2" cy="623.9" r="4.8" fill="#d47f9f"/>
<circle cx="789.0" cy="623.9" r="4.4" fill="#d690aa"/>
<circle cx="881.8" cy="623.9" r="8.5" fill="#d4137c"/>
<circle cx="974.6" cy="623.9" r="4.8" fill="#c8608a"/>
<circle cx="1067.3" cy="623.9" r="5.0" fill="#d8a8b8"/>
<circle cx="1160.1" cy="623.9" r="5.0" fill="#d890aa"/>
<circle cx="1252.9" cy="623.9" r="3.9" fill="#d27fa0"/>
<circle cx="232.4" cy="748.5" r="20.4" fill="#d2779f"/>
<circle cx="325.2" cy="748.5" r="14.7" fill="#d69ab2"/>
<circle cx="417.9" cy="748.5" r="13.5" fill="#d8a5b8"/>
<circle cx="510.7" cy="748.5" r="17.4" fill="#d485a5"/>
<circle cx="603.5" cy="748.5" r="18.6" fill="#d79db3"/>
<circle cx="696.2" cy="748.5" r="15.0" fill="#d597af"/>
<circle cx="789.0" cy="748.5" r="14.2" fill="#d593ad"/>
<circle cx="881.8" cy="748.5" r="23.2" fill="#d1578e"/>
<circle cx="974.6" cy="748.5" r="18.6" fill="#d0578f"/>
<circle cx="1067.3" cy="748.5" r="15.2" fill="#d8a8b8"/>
<circle cx="1160.1" cy="748.5" r="16.6" fill="#d48aa7"/>
<circle cx="1252.9" cy="748.5" r="19.5" fill="#cf1480"/>
<circle cx="232.4" cy="874" r="6.4" fill="#d14f8b"/>
<circle cx="325.2" cy="874" r="4.8" fill="#d8a0b6"/>
<circle cx="417.9" cy="874" r="5.1" fill="#d2779c"/>
<circle cx="510.7" cy="874" r="6.0" fill="#d14f8a"/>
<circle cx="603.5" cy="874" r="5.3" fill="#d8a8b8"/>
<circle cx="696.2" cy="874" r="6.4" fill="#d2508a"/>
<circle cx="789.0" cy="874" r="5.3" fill="#cf6a95"/>
<circle cx="881.8" cy="874" r="6.2" fill="#d4709c"/>
<circle cx="974.6" cy="874" r="4.6" fill="#d69ab2"/>
<circle cx="1067.3" cy="874" r="5.0" fill="#dcdcdc"/>
<circle cx="1160.1" cy="874" r="6.2" fill="#d26298"/>
<circle cx="1252.9" cy="874" r="3.7" fill="#cfcfcf"/>
<circle cx="232.4" cy="998.7" r="4.6" fill="#d796af"/>
<circle cx="325.2" cy="998.7" r="4.4" fill="#d796ae"/>
<circle cx="417.9" cy="998.7" r="3.9" fill="#d79fb4"/>
<circle cx="510.7" cy="998.7" r="6.0" fill="#d2669a"/>
<circle cx="603.5" cy="998.7" r="4.6" fill="#d8a0b5"/>
<circle cx="696.2" cy="998.7" r="4.6" fill="#d68aa6"/>
<circle cx="789.0" cy="998.7" r="4.3" fill="#d99ab3"/>
<circle cx="881.8" cy="998.7" r="5.7" fill="#d690ab"/>
<circle cx="974.6" cy="998.7" r="6.2" fill="#d05a8e"/>
<circle cx="1067.3" cy="998.7" r="4.6" fill="#d795ad"/>
<circle cx="1160.1" cy="998.7" r="5.0" fill="#d794ae"/>
<circle cx="1252.9" cy="998.7" r="6.6" fill="#cf1a7f"/>
<rect x="1369" y="643" width="49" height="240.4" fill="url(#cbB)"/>
<rect x="1369" y="670.2" width="9.7" height="3.6" fill="#fff"/><rect x="1408.3" y="670.2" width="9.7" height="3.6" fill="#fff"/>
<rect x="1369" y="727.9000000000001" width="9.7" height="3.6" fill="#fff"/><rect x="1408.3" y="727.9000000000001" width="9.7" height="3.6" fill="#fff"/>
<rect x="1369" y="785.2" width="9.7" height="3.6" fill="#fff"/><rect x="1408.3" y="785.2" width="9.7" height="3.6" fill="#fff"/>
<rect x="1369" y="842.7" width="9.7" height="3.6" fill="#fff"/><rect x="1408.3" y="842.7" width="9.7" height="3.6" fill="#fff"/>
<circle cx="1629.6" cy="658.7" r="8.6" fill="#231f20"/>
<circle cx="1629.6" cy="703" r="15.4" fill="#231f20"/>
<circle cx="1629.6" cy="756" r="21.9" fill="#231f20"/>
<g filter="url(#speck)">
<path d="M159 1402h8v4h-8zM143 1406h40v4h-40zM135 1410h12v4h-12zM175 1410h16v4h-16zM127 1414h12v4h-12zM183 1414h12v4h-12zM123 1418h12v4h-12zM191 1418h8v4h-8zM123 1422h8v4h-8zM195 1422h8v4h-8zM119 1426h8v4h-8zM199 1426h8v4h-8zM115 1430h8v4h-8zM199 1430h8v4h-8zM115 1434h4v4h-4zM203 1434h8v4h-8zM111 1438h8v4h-8zM203 1438h8v4h-8zM111 1442h8v4h-8zM207 1442h4v4h-4zM111 1446h8v4h-8zM207 1446h4v4h-4zM111 1450h4v4h-4zM207 1450h8v4h-8zM111 1454h4v4h-4zM207 1454h8v4h-8zM111 1458h4v4h-4zM207 1458h8v4h-8zM111 1462h8v4h-8zM207 1462h8v4h-8zM111 1466h8v4h-8zM207 1466h4v4h-4zM111 1470h8v4h-8zM203 1470h8v4h-8zM115 1474h4v4h-4zM203 1474h8v4h-8zM115 1478h8v4h-8zM203 1478h4v4h-4zM115 1482h8v4h-8zM199 1482h8v4h-8zM119 1486h8v4h-8zM199 1486h8v4h-8zM119 1490h8v4h-8zM195 1490h8v4h-8zM119 1494h12v4h-12zM191 1494h12v4h-12zM123 1498h8v4h-8zM191 1498h8v4h-8zM127 1502h8v4h-8zM187 1502h8v4h-8zM127 1506h12v4h-12zM183 1506h12v4h-12zM131 1510h12v4h-12zM179 1510h12v4h-12zM135 1514h16v4h-16zM171 1514h16v4h-16zM139 1518h40v4h-40zM147 1522h24v4h-24z" fill="#4354a1" fill-opacity="0.437"/><path d="M147 1410h28v4h-28zM139 1414h16v4h-16zM171 1414h12v4h-12zM135 1418h8v4h-8zM179 1418h12v4h-12zM131 1422h8v4h-8zM187 1422h8v4h-8zM127 1426h4v4h-4zM191 1426h8v4h-8zM123 1430h8v4h-8zM195 1430h4v4h-4zM119 1434h8v4h-8zM195 1434h8v4h-8zM119 1438h8v4h-8zM199 1438h4v4h-4zM119 1442h4v4h-4zM199 1442h8v4h-8zM119 1446h4v4h-4zM203 1446h4v4h-4zM115 1450h8v4h-8zM203 1450h4v4h-4zM115 1454h8v4h-8zM203 1454h4v4h-4zM115 1458h8v4h-8zM203 1458h4v4h-4zM119 1462h4v4h-4zM203 1462h4v4h-4zM119 1466h4v4h-4zM199 1466h8v4h-8zM119 1470h4v4h-4zM199 1470h4v4h-4zM119 1474h8v4h-8zM199 1474h4v4h-4zM123 1478h4v4h-4zM195 1478h8v4h-8zM123 1482h8v4h-8zM191 1482h8v4h-8zM127 1486h8v4h-8zM191 1486h8v4h-8zM127 1490h8v4h-8zM187 1490h8v4h-8zM131 1494h8v4h-8zM183 1494h8v4h-8zM131 1498h12v4h-12zM179 1498h12v4h-12zM135 1502h12v4h-12zM175 1502h12v4h-12zM139 1506h16v4h-16zM163 1506h20v4h-20zM143 1510h36v4h-36zM151 1514h20v4h-20z" fill="#3d54a4" fill-opacity="0.498"/><path d="M155 1414h16v4h-16zM143 1418h8v4h-8zM171 1418h8v4h-8zM139 1422h4v4h-4zM183 1422h4v4h-4zM131 1426h8v4h-8zM187 1426h4v4h-4zM131 1430h4v4h-4zM191 1430h4v4h-4zM127 1434h4v4h-4zM195 1438h4v4h-4zM123 1442h4v4h-4zM195 1442h4v4h-4zM123 1446h4v4h-4zM199 1446h4v4h-4zM123 1450h4v4h-4zM199 1450h4v4h-4zM123 1454h4v4h-4zM199 1454h4v4h-4zM123 1458h4v4h-4zM199 1458h4v4h-4zM123 1462h4v4h-4zM199 1462h4v4h-4zM123 1466h4v4h-4zM195 1466h4v4h-4zM123 1470h4v4h-4zM195 1470h4v4h-4zM127 1474h4v4h-4zM195 1474h4v4h-4zM127 1478h4v4h-4zM191 1478h4v4h-4zM131 1482h4v4h-4zM187 1482h4v4h-4zM135 1486h4v4h-4zM183 1486h8v4h-8zM135 1490h8v4h-8zM179 1490h8v4h-8zM139 1494h8v4h-8zM175 1494h8v4h-8zM143 1498h8v4h-8zM167 1498h12v4h-12zM147 1502h28v4h-28zM155 1506h8v4h-8z" fill="#3654a6" fill-opacity="0.542"/><path d="M151 1418h20v4h-20zM143 1422h4v4h-4zM175 1422h8v4h-8zM139 1426h4v4h-4zM183 1426h4v4h-4zM187 1430h4v4h-4zM131 1434h4v4h-4zM191 1434h4v4h-4zM127 1438h4v4h-4zM191 1438h4v4h-4zM127 1442h4v4h-4zM195 1446h4v4h-4zM195 1450h4v4h-4zM195 1454h4v4h-4zM195 1458h4v4h-4zM195 1462h4v4h-4zM127 1466h4v4h-4zM127 1470h4v4h-4zM191 1470h4v4h-4zM131 1474h4v4h-4zM191 1474h4v4h-4zM131 1478h4v4h-4zM187 1478h4v4h-4zM135 1482h4v4h-4zM183 1482h4v4h-4zM139 1486h4v4h-4zM179 1486h4v4h-4zM143 1490h4v4h-4zM175 1490h4v4h-4zM147 1494h8v4h-8zM167 1494h8v4h-8zM151 1498h16v4h-16z" fill="#3054a9" fill-opacity="0.574"/><path d="M147 1422h8v4h-8zM171 1422h4v4h-4zM179 1426h4v4h-4zM135 1430h4v4h-4zM183 1430h4v4h-4zM187 1434h4v4h-4zM131 1438h4v4h-4zM191 1442h4v4h-4zM127 1446h4v4h-4zM127 1450h4v4h-4zM127 1454h4v4h-4zM127 1458h4v4h-4zM127 1462h4v4h-4zM191 1466h4v4h-4zM131 1470h4v4h-4zM187 1474h4v4h-4zM135 1478h4v4h-4zM183 1478h4v4h-4zM139 1482h4v4h-4zM179 1482h4v4h-4zM143 1486h4v4h-4zM175 1486h4v4h-4zM147 1490h8v4h-8zM167 1490h8v4h-8zM155 1494h12v4h-12z" fill="#2a54ab" fill-opacity="0.601"/><path d="M155 1422h16v4h-16zM143 1426h4v4h-4zM175 1426h4v4h-4zM139 1430h4v4h-4zM135 1434h4v4h-4zM187 1438h4v4h-4zM131 1442h4v4h-4zM191 1446h4v4h-4zM191 1450h4v4h-4zM191 1454h4v4h-4zM191 1458h4v4h-4zM191 1462h4v4h-4zM131 1466h4v4h-4zM187 1470h4v4h-4zM135 1474h4v4h-4zM139 1478h4v4h-4zM143 1482h4v4h-4zM147 1486h4v4h-4zM171 1486h4v4h-4zM155 1490h12v4h-12z" fill="#2759b0" fill-opacity="0.626"/><path d="M147 1426h4v4h-4zM179 1430h4v4h-4zM183 1434h4v4h-4zM131 1446h4v4h-4zM131 1462h4v4h-4zM187 1466h4v4h-4zM135 1470h4v4h-4zM183 1474h4v4h-4zM179 1478h4v4h-4zM175 1482h4v4h-4zM151 1486h8v4h-8zM163 1486h8v4h-8z" fill="#2761b4" fill-opacity="0.653"/><path d="M151 1426h4v4h-4zM167 1426h8v4h-8zM143 1430h4v4h-4zM139 1434h4v4h-4zM135 1438h4v4h-4zM187 1442h4v4h-4zM131 1450h4v4h-4zM131 1454h4v4h-4zM131 1458h4v4h-4zM187 1462h4v4h-4zM183 1470h4v4h-4zM139 1474h4v4h-4zM143 1478h4v4h-4zM147 1482h4v4h-4zM171 1482h4v4h-4zM159 1486h4v4h-4z" fill="#2668ba" fill-opacity="0.681"/><path d="M155 1426h12v4h-12zM175 1430h4v4h-4zM179 1434h4v4h-4zM183 1438h4v4h-4zM135 1442h4v4h-4zM187 1446h4v4h-4zM187 1450h4v4h-4zM187 1454h4v4h-4zM187 1458h4v4h-4zM135 1466h4v4h-4zM179 1474h4v4h-4zM175 1478h4v4h-4zM151 1482h4v4h-4zM167 1482h4v4h-4z" fill="#2570be" fill-opacity="0.708"/><path d="M147 1430h4v4h-4zM139 1438h4v4h-4zM135 1446h4v4h-4zM135 1462h4v4h-4zM183 1466h4v4h-4zM139 1470h4v4h-4zM143 1474h4v4h-4zM147 1478h4v4h-4zM155 1482h12v4h-12z" fill="#2477c4" fill-opacity="0.735"/><path d="M151 1430h4v4h-4zM171 1430h4v4h-4zM143 1434h4v4h-4zM183 1442h4v4h-4zM135 1450h4v4h-4zM135 1454h4v4h-4zM135 1458h4v4h-4zM179 1470h4v4h-4zM175 1474h4v4h-4zM151 1478h4v4h-4zM171 1478h4v4h-4z" fill="#2380c4" fill-opacity="0.767"/><path d="M167 1430h4v4h-4zM175 1434h4v4h-4zM179 1438h4v4h-4zM139 1442h4v4h-4zM183 1446h4v4h-4zM183 1462h4v4h-4zM139 1466h4v4h-4zM167 1478h4v4h-4z" fill="#2288c4" fill-opacity="0.815"/><path d="M155 1430h12v4h-12zM147 1434h4v4h-4zM183 1450h4v4h-4zM183 1454h4v4h-4zM183 1458h4v4h-4zM143 1470h4v4h-4zM147 1474h4v4h-4zM155 1478h12v4h-12z" fill="#2090c4" fill-opacity="0.831"/><path d="M171 1434h4v4h-4zM143 1438h4v4h-4zM179 1442h4v4h-4zM139 1446h4v4h-4zM139 1462h4v4h-4zM179 1466h4v4h-4zM175 1470h4v4h-4zM171 1474h4v4h-4z" fill="#1f98c4" fill-opacity="0.831"/><path d="M151 1434h4v4h-4zM175 1438h4v4h-4zM139 1450h4v4h-4zM139 1458h4v4h-4zM151 1474h4v4h-4z" fill="#1fa0c3" fill-opacity="0.831"/><path d="M167 1434h4v4h-4zM143 1442h4v4h-4zM179 1446h4v4h-4zM139 1454h4v4h-4zM179 1462h4v4h-4zM143 1466h4v4h-4zM147 1470h4v4h-4zM155 1474h4v4h-4zM167 1474h4v4h-4z" fill="#28a5b5" fill-opacity="0.831"/><path d="M155 1434h4v4h-4zM147 1438h4v4h-4zM179 1458h4v4h-4zM175 1466h4v4h-4zM171 1470h4v4h-4zM159 1474h8v4h-8z" fill="#30aaa8" fill-opacity="0.831"/><path d="M159 1434h8v4h-8zM171 1438h4v4h-4zM175 1442h4v4h-4zM179 1450h4v4h-4zM179 1454h4v4h-4zM143 1462h4v4h-4z" fill="#39ae9b" fill-opacity="0.831"/><path d="M143 1446h4v4h-4zM147 1466h4v4h-4zM151 1470h4v4h-4z" fill="#42b38d" fill-opacity="0.831"/><path d="M151 1438h4v4h-4zM147 1442h4v4h-4zM143 1450h4v4h-4zM143 1454h4v4h-4zM143 1458h4v4h-4zM175 1462h4v4h-4zM167 1470h4v4h-4z" fill="#4db781" fill-opacity="0.831"/><path d="M167 1438h4v4h-4zM175 1446h4v4h-4zM171 1466h4v4h-4zM155 1470h4v4h-4zM163 1470h4v4h-4z" fill="#5dbc77" fill-opacity="0.831"/><path d="M155 1438h4v4h-4zM163 1438h4v4h-4zM171 1442h4v4h-4zM175 1458h4v4h-4zM147 1462h4v4h-4zM159 1470h4v4h-4z" fill="#6dc16d" fill-opacity="0.831"/><path d="M159 1438h4v4h-4zM147 1446h4v4h-4zM175 1450h4v4h-4zM175 1454h4v4h-4zM151 1466h4v4h-4z" fill="#7ec563" fill-opacity="0.831"/><path d="M151 1442h4v4h-4zM171 1462h4v4h-4zM167 1466h4v4h-4z" fill="#8eca59" fill-opacity="0.831"/><path d="M167 1442h4v4h-4zM171 1446h4v4h-4zM147 1450h4v4h-4zM147 1458h4v4h-4zM155 1466h4v4h-4z" fill="#9ecb51" fill-opacity="0.831"/><path d="M155 1442h4v4h-4zM147 1454h4v4h-4zM151 1462h4v4h-4zM159 1466h8v4h-8z" fill="#aeca4c" fill-opacity="0.831"/><path d="M163 1442h4v4h-4zM151 1446h4v4h-4zM171 1450h4v4h-4zM171 1458h4v4h-4z" fill="#bec848" fill-opacity="0.831"/><path d="M159 1442h4v4h-4zM171 1454h4v4h-4zM167 1462h4v4h-4z" fill="#cdc642" fill-opacity="0.831"/><path d="M167 1446h4v4h-4zM151 1458h4v4h-4zM155 1462h4v4h-4z" fill="#ddc43d" fill-opacity="0.831"/><path d="M155 1446h4v4h-4zM151 1450h4v4h-4zM151 1454h4v4h-4zM159 1462h8v4h-8z" fill="#e4bc3a" fill-opacity="0.831"/><path d="M163 1446h4v4h-4zM167 1450h4v4h-4zM167 1458h4v4h-4z" fill="#e6b037" fill-opacity="0.831"/><path d="M159 1446h4v4h-4zM167 1454h4v4h-4zM155 1458h4v4h-4z" fill="#e9a433" fill-opacity="0.831"/><path d="M155 1450h4v4h-4zM155 1454h4v4h-4zM163 1458h4v4h-4z" fill="#eb9830" fill-opacity="0.831"/><path d="M159 1450h8v4h-8zM163 1454h4v4h-4zM159 1458h4v4h-4z" fill="#ee8d2d" fill-opacity="0.831"/><path d="M159 1454h4v4h-4z" fill="#f0812a" fill-opacity="0.831"/>
</g>
<rect x="110.25" y="1281.65" width="264.90000000000003" height="264.40000000000003" fill="none" stroke="#000" stroke-width="4.3"/>
<line x1="210.4" y1="1279.5" x2="210.4" y2="1548.2" stroke="#000" stroke-width="4.2"/>
<line x1="108.1" y1="1410.0" x2="377.3" y2="1410.0" stroke="#000" stroke-width="4.2"/>
<rect x="102.6" y="1304.3" width="5.5" height="3.8" fill="#000"/><rect x="102.6" y="1364.6" width="5.5" height="3.8" fill="#000"/><rect x="102.6" y="1429.0" width="5.5" height="3.8" fill="#000"/><rect x="105.1" y="1347.1478912614618" width="3" height="2.4" fill="#000"/><rect x="105.1" y="1336.5295883404044" width="3" height="2.4" fill="#000"/><rect x="105.1" y="1328.995782522924" width="3" height="2.4" fill="#000"/><rect x="105.1" y="1323.1521087385381" width="3" height="2.4" fill="#000"/><rect x="105.1" y="1318.3774796018663" width="3" height="2.4" fill="#000"/><rect x="105.1" y="1314.3405881871404" width="3" height="2.4" fill="#000"/><rect x="105.1" y="1310.8436737843858" width="3" height="2.4" fill="#000"/><rect x="105.1" y="1307.7591766808087" width="3" height="2.4" fill="#000"/><rect x="105.1" y="1410.3136682792397" width="3" height="2.4" fill="#000"/><rect x="105.1" y="1398.9733911960536" width="3" height="2.4" fill="#000"/><rect x="105.1" y="1390.9273365584793" width="3" height="2.4" fill="#000"/><rect x="105.1" y="1384.6863317207603" width="3" height="2.4" fill="#000"/><rect x="105.1" y="1379.5870594752932" width="3" height="2.4" fill="#000"/><rect x="105.1" y="1375.2756862230817" width="3" height="2.4" fill="#000"/><rect x="105.1" y="1371.541004837719" width="3" height="2.4" fill="#000"/><rect x="105.1" y="1368.2467823921074" width="3" height="2.4" fill="#000"/><rect x="105.1" y="1474.7136682792398" width="3" height="2.4" fill="#000"/><rect x="105.1" y="1463.3733911960537" width="3" height="2.4" fill="#000"/><rect x="105.1" y="1455.3273365584794" width="3" height="2.4" fill="#000"/><rect x="105.1" y="1449.0863317207604" width="3" height="2.4" fill="#000"/><rect x="105.1" y="1443.9870594752933" width="3" height="2.4" fill="#000"/><rect x="105.1" y="1439.6756862230818" width="3" height="2.4" fill="#000"/><rect x="105.1" y="1435.941004837719" width="3" height="2.4" fill="#000"/><rect x="105.1" y="1432.6467823921075" width="3" height="2.4" fill="#000"/><rect x="102.6" y="1489.6" width="5.5" height="3.8" fill="#000"/><rect x="102.6" y="1508.6" width="5.5" height="3.8" fill="#000"/><rect x="102.6" y="1526.1" width="5.5" height="3.8" fill="#000"/><rect x="105.1" y="1484.3" width="3" height="2.4" fill="#000"/><rect x="105.1" y="1496.3" width="3" height="2.4" fill="#000"/><rect x="105.1" y="1502.3" width="3" height="2.4" fill="#000"/><rect x="105.1" y="1515.3" width="3" height="2.4" fill="#000"/><rect x="105.1" y="1520.3" width="3" height="2.4" fill="#000"/><rect x="105.1" y="1532.3" width="3" height="2.4" fill="#000"/><rect x="105.1" y="1538.3" width="3" height="2.4" fill="#000"/><rect x="222.7" y="1548.2" width="3.8" height="5.5" fill="#000"/><rect x="286.9" y="1548.2" width="3.8" height="5.5" fill="#000"/><rect x="347.1" y="1548.2" width="3.8" height="5.5" fill="#000"/><rect x="178.52612572162764" y="1548.2" width="2.4" height="3" fill="#000"/><rect x="189.83118455300234" y="1548.2" width="2.4" height="3" fill="#000"/><rect x="197.8522514432552" y="1548.2" width="2.4" height="3" fill="#000"/><rect x="204.07387427837244" y="1548.2" width="2.4" height="3" fill="#000"/><rect x="209.15731027462994" y="1548.2" width="2.4" height="3" fill="#000"/><rect x="213.45529416891532" y="1548.2" width="2.4" height="3" fill="#000"/><rect x="217.1783771648828" y="1548.2" width="2.4" height="3" fill="#000"/><rect x="220.46236910600467" y="1548.2" width="2.4" height="3" fill="#000"/><rect x="242.7261257216276" y="1548.2" width="2.4" height="3" fill="#000"/><rect x="254.0311845530023" y="1548.2" width="2.4" height="3" fill="#000"/><rect x="262.05225144325516" y="1548.2" width="2.4" height="3" fill="#000"/><rect x="268.2738742783724" y="1548.2" width="2.4" height="3" fill="#000"/><rect x="273.3573102746299" y="1548.2" width="2.4" height="3" fill="#000"/><rect x="277.65529416891525" y="1548.2" width="2.4" height="3" fill="#000"/><rect x="281.37837716488275" y="1548.2" width="2.4" height="3" fill="#000"/><rect x="284.66236910600463" y="1548.2" width="2.4" height="3" fill="#000"/><rect x="305.72200573897163" y="1548.2" width="2.4" height="3" fill="#000"/><rect x="316.3226995341237" y="1548.2" width="2.4" height="3" fill="#000"/><rect x="323.84401147794335" y="1548.2" width="2.4" height="3" fill="#000"/><rect x="329.67799426102835" y="1548.2" width="2.4" height="3" fill="#000"/><rect x="334.44470527309534" y="1548.2" width="2.4" height="3" fill="#000"/><rect x="338.47490200885824" y="1548.2" width="2.4" height="3" fill="#000"/><rect x="341.966017216915" y="1548.2" width="2.4" height="3" fill="#000"/><rect x="345.0453990682474" y="1548.2" width="2.4" height="3" fill="#000"/><rect x="365.9220057389717" y="1548.2" width="2.4" height="3" fill="#000"/><rect x="126.19999999999999" y="1548.2" width="3.8" height="5.5" fill="#000"/><rect x="143.49999999999997" y="1548.2" width="3.8" height="5.5" fill="#000"/><rect x="161.6" y="1548.2" width="3.8" height="5.5" fill="#000"/><rect x="132.9" y="1548.2" width="2.4" height="3" fill="#000"/><rect x="137.9" y="1548.2" width="2.4" height="3" fill="#000"/><rect x="150.2" y="1548.2" width="2.4" height="3" fill="#000"/><rect x="155.2" y="1548.2" width="2.4" height="3" fill="#000"/><rect x="156.3" y="1548.2" width="2.4" height="3" fill="#000"/><rect x="168.3" y="1548.2" width="2.4" height="3" fill="#000"/>
<g filter="url(#speck)">
<path d="M444 1403h8v4h-8zM428 1407h40v4h-40zM420 1411h12v4h-12zM464 1411h12v4h-12zM412 1415h12v4h-12zM472 1415h8v4h-8zM408 1419h8v4h-8zM476 1419h12v4h-12zM404 1423h8v4h-8zM484 1423h8v4h-8zM404 1427h4v4h-4zM488 1427h4v4h-4zM400 1431h8v4h-8zM488 1431h8v4h-8zM400 1435h4v4h-4zM492 1435h4v4h-4zM400 1439h4v4h-4zM492 1439h8v4h-8zM496 1443h4v4h-4zM496 1447h8v4h-8zM496 1451h8v4h-8zM500 1455h4v4h-4zM500 1459h4v4h-4zM500 1463h4v4h-4zM500 1467h4v4h-4zM500 1471h4v4h-4zM500 1475h4v4h-4zM496 1479h8v4h-8zM496 1483h8v4h-8zM496 1487h8v4h-8zM496 1491h8v4h-8zM496 1495h8v4h-8zM492 1499h8v4h-8zM492 1503h8v4h-8zM400 1507h4v4h-4zM492 1507h8v4h-8zM400 1511h4v4h-4zM488 1511h8v4h-8zM400 1515h8v4h-8zM484 1515h8v4h-8zM404 1519h8v4h-8zM480 1519h12v4h-12zM408 1523h8v4h-8zM476 1523h12v4h-12zM412 1527h12v4h-12zM468 1527h12v4h-12zM416 1531h60v4h-60zM428 1535h36v4h-36z" fill="#4354a1" fill-opacity="0.437"/><path d="M432 1411h32v4h-32zM424 1415h16v4h-16zM456 1415h16v4h-16zM416 1419h12v4h-12zM468 1419h8v4h-8zM412 1423h12v4h-12zM472 1423h12v4h-12zM408 1427h8v4h-8zM480 1427h8v4h-8zM408 1431h4v4h-4zM484 1431h4v4h-4zM404 1435h8v4h-8zM484 1435h8v4h-8zM404 1439h4v4h-4zM488 1439h4v4h-4zM400 1443h8v4h-8zM488 1443h8v4h-8zM400 1447h4v4h-4zM492 1447h4v4h-4zM400 1451h4v4h-4zM492 1451h4v4h-4zM400 1455h4v4h-4zM492 1455h8v4h-8zM400 1459h4v4h-4zM492 1459h8v4h-8zM400 1463h4v4h-4zM492 1463h8v4h-8zM400 1467h4v4h-4zM492 1467h8v4h-8zM400 1471h4v4h-4zM492 1471h8v4h-8zM400 1475h4v4h-4zM492 1475h8v4h-8zM400 1479h4v4h-4zM492 1479h4v4h-4zM400 1483h4v4h-4zM492 1483h4v4h-4zM400 1487h4v4h-4zM492 1487h4v4h-4zM400 1491h4v4h-4zM488 1491h8v4h-8zM400 1495h4v4h-4zM488 1495h8v4h-8zM400 1499h8v4h-8zM488 1499h4v4h-4zM400 1503h8v4h-8zM484 1503h8v4h-8zM404 1507h8v4h-8zM484 1507h8v4h-8zM404 1511h12v4h-12zM480 1511h8v4h-8zM408 1515h12v4h-12zM476 1515h8v4h-8zM412 1519h12v4h-12zM468 1519h12v4h-12zM416 1523h20v4h-20zM456 1523h20v4h-20zM424 1527h44v4h-44z" fill="#3d54a4" fill-opacity="0.498"/><path d="M440 1415h16v4h-16zM428 1419h12v4h-12zM456 1419h12v4h-12zM424 1423h4v4h-4zM468 1423h4v4h-4zM416 1427h8v4h-8zM472 1427h8v4h-8zM412 1431h8v4h-8zM476 1431h8v4h-8zM412 1435h4v4h-4zM480 1435h4v4h-4zM408 1439h4v4h-4zM484 1439h4v4h-4zM408 1443h4v4h-4zM484 1443h4v4h-4zM404 1447h4v4h-4zM488 1447h4v4h-4zM404 1451h4v4h-4zM488 1451h4v4h-4zM404 1455h4v4h-4zM488 1455h4v4h-4zM404 1459h4v4h-4zM488 1459h4v4h-4zM404 1463h4v4h-4zM488 1463h4v4h-4zM404 1467h4v4h-4zM488 1467h4v4h-4zM404 1471h4v4h-4zM488 1471h4v4h-4zM404 1475h4v4h-4zM488 1475h4v4h-4zM404 1479h4v4h-4zM488 1479h4v4h-4zM404 1483h4v4h-4zM488 1483h4v4h-4zM404 1487h4v4h-4zM484 1487h8v4h-8zM404 1491h4v4h-4zM484 1491h4v4h-4zM404 1495h8v4h-8zM484 1495h4v4h-4zM408 1499h4v4h-4zM480 1499h8v4h-8zM408 1503h4v4h-4zM480 1503h4v4h-4zM412 1507h4v4h-4zM476 1507h8v4h-8zM416 1511h4v4h-4zM472 1511h8v4h-8zM420 1515h4v4h-4zM468 1515h8v4h-8zM424 1519h12v4h-12zM456 1519h12v4h-12zM436 1523h20v4h-20z" fill="#3654a6" fill-opacity="0.542"/><path d="M440 1419h16v4h-16zM428 1423h8v4h-8zM460 1423h8v4h-8zM424 1427h4v4h-4zM468 1427h4v4h-4zM420 1431h4v4h-4zM472 1431h4v4h-4zM416 1435h4v4h-4zM476 1435h4v4h-4zM412 1439h4v4h-4zM480 1439h4v4h-4zM408 1447h4v4h-4zM484 1447h4v4h-4zM408 1451h4v4h-4zM484 1451h4v4h-4zM484 1475h4v4h-4zM408 1479h4v4h-4zM484 1479h4v4h-4zM408 1483h4v4h-4zM484 1483h4v4h-4zM408 1487h4v4h-4zM408 1491h4v4h-4zM480 1491h4v4h-4zM480 1495h4v4h-4zM412 1499h4v4h-4zM476 1499h4v4h-4zM412 1503h4v4h-4zM476 1503h4v4h-4zM416 1507h4v4h-4zM472 1507h4v4h-4zM420 1511h4v4h-4zM468 1511h4v4h-4zM424 1515h8v4h-8zM460 1515h8v4h-8zM436 1519h20v4h-20z" fill="#3054a9" fill-opacity="0.574"/><path d="M436 1423h8v4h-8zM452 1423h8v4h-8zM428 1427h4v4h-4zM464 1427h4v4h-4zM416 1439h4v4h-4zM476 1439h4v4h-4zM412 1443h4v4h-4zM480 1443h4v4h-4zM480 1447h4v4h-4zM408 1455h4v4h-4zM484 1455h4v4h-4zM408 1459h4v4h-4zM484 1459h4v4h-4zM408 1463h4v4h-4zM484 1463h4v4h-4zM408 1467h4v4h-4zM484 1467h4v4h-4zM408 1471h4v4h-4zM484 1471h4v4h-4zM408 1475h4v4h-4zM480 1483h4v4h-4zM412 1487h4v4h-4zM480 1487h4v4h-4zM412 1491h4v4h-4zM412 1495h4v4h-4zM476 1495h4v4h-4zM416 1499h4v4h-4zM416 1503h4v4h-4zM472 1503h4v4h-4zM420 1507h4v4h-4zM468 1507h4v4h-4zM424 1511h8v4h-8zM460 1511h8v4h-8zM432 1515h28v4h-28z" fill="#2a54ab" fill-opacity="0.601"/><path d="M444 1423h8v4h-8zM432 1427h4v4h-4zM460 1427h4v4h-4zM424 1431h4v4h-4zM468 1431h4v4h-4zM420 1435h4v4h-4zM472 1435h4v4h-4zM412 1447h4v4h-4zM412 1451h4v4h-4zM480 1451h4v4h-4zM480 1475h4v4h-4zM412 1479h4v4h-4zM480 1479h4v4h-4zM412 1483h4v4h-4zM476 1491h4v4h-4zM416 1495h4v4h-4zM472 1499h4v4h-4zM420 1503h4v4h-4zM468 1503h4v4h-4zM424 1507h4v4h-4zM464 1507h4v4h-4zM432 1511h4v4h-4zM456 1511h4v4h-4z" fill="#2759b0" fill-opacity="0.626"/><path d="M436 1427h4v4h-4zM456 1427h4v4h-4zM428 1431h4v4h-4zM464 1431h4v4h-4zM424 1435h4v4h-4zM468 1435h4v4h-4zM420 1439h4v4h-4zM472 1439h4v4h-4zM416 1443h4v4h-4zM476 1443h4v4h-4zM412 1455h4v4h-4zM480 1455h4v4h-4zM412 1459h4v4h-4zM480 1459h4v4h-4zM412 1463h4v4h-4zM480 1463h4v4h-4zM412 1467h4v4h-4zM480 1467h4v4h-4zM412 1471h4v4h-4zM480 1471h4v4h-4zM412 1475h4v4h-4zM476 1483h4v4h-4zM416 1487h4v4h-4zM476 1487h4v4h-4zM416 1491h4v4h-4zM472 1495h4v4h-4zM420 1499h4v4h-4zM468 1499h4v4h-4zM424 1503h4v4h-4zM464 1503h4v4h-4zM428 1507h4v4h-4zM460 1507h4v4h-4zM436 1511h20v4h-20z" fill="#2761b4" fill-opacity="0.653"/><path d="M440 1427h16v4h-16zM432 1431h4v4h-4zM460 1431h4v4h-4zM416 1447h4v4h-4zM476 1447h4v4h-4zM416 1479h4v4h-4zM476 1479h4v4h-4zM416 1483h4v4h-4zM472 1491h4v4h-4zM420 1495h4v4h-4zM468 1495h4v4h-4zM424 1499h4v4h-4zM428 1503h4v4h-4zM432 1507h8v4h-8zM456 1507h4v4h-4z" fill="#2668ba" fill-opacity="0.681"/><path d="M428 1435h4v4h-4zM464 1435h4v4h-4zM468 1439h4v4h-4zM420 1443h4v4h-4zM472 1443h4v4h-4zM416 1451h4v4h-4zM476 1451h4v4h-4zM476 1455h4v4h-4zM476 1471h4v4h-4zM416 1475h4v4h-4zM476 1475h4v4h-4zM420 1487h4v4h-4zM472 1487h4v4h-4zM420 1491h4v4h-4zM424 1495h4v4h-4zM464 1499h4v4h-4zM432 1503h4v4h-4zM460 1503h4v4h-4zM440 1507h16v4h-16z" fill="#2570be" fill-opacity="0.708"/><path d="M436 1431h8v4h-8zM452 1431h8v4h-8zM424 1439h4v4h-4zM472 1447h4v4h-4zM416 1455h4v4h-4zM416 1459h4v4h-4zM476 1459h4v4h-4zM416 1463h4v4h-4zM476 1463h4v4h-4zM416 1467h4v4h-4zM476 1467h4v4h-4zM416 1471h4v4h-4zM420 1483h4v4h-4zM472 1483h4v4h-4zM468 1491h4v4h-4zM464 1495h4v4h-4zM428 1499h4v4h-4zM460 1499h4v4h-4zM436 1503h4v4h-4zM456 1503h4v4h-4z" fill="#2477c4" fill-opacity="0.735"/><path d="M444 1431h8v4h-8zM432 1435h4v4h-4zM460 1435h4v4h-4zM420 1447h4v4h-4zM420 1479h4v4h-4zM472 1479h4v4h-4zM468 1487h4v4h-4zM424 1491h4v4h-4zM428 1495h4v4h-4zM432 1499h4v4h-4zM440 1503h16v4h-16z" fill="#2380c4" fill-opacity="0.767"/><path d="M428 1439h4v4h-4zM464 1439h4v4h-4zM424 1443h4v4h-4zM468 1443h4v4h-4zM420 1451h4v4h-4zM472 1451h4v4h-4zM420 1475h4v4h-4zM472 1475h4v4h-4zM424 1487h4v4h-4zM464 1491h4v4h-4zM460 1495h4v4h-4zM456 1499h4v4h-4z" fill="#2288c4" fill-opacity="0.815"/><path d="M436 1435h4v4h-4zM456 1435h4v4h-4zM420 1455h4v4h-4zM472 1455h4v4h-4zM472 1467h4v4h-4zM420 1471h4v4h-4zM472 1471h4v4h-4zM424 1483h4v4h-4zM468 1483h4v4h-4zM428 1491h4v4h-4zM432 1495h4v4h-4zM436 1499h8v4h-8zM452 1499h4v4h-4z" fill="#2090c4" fill-opacity="0.831"/><path d="M440 1435h4v4h-4zM452 1435h4v4h-4zM432 1439h4v4h-4zM460 1439h4v4h-4zM424 1447h4v4h-4zM468 1447h4v4h-4zM420 1459h4v4h-4zM472 1459h4v4h-4zM420 1463h4v4h-4zM472 1463h4v4h-4zM420 1467h4v4h-4zM468 1479h4v4h-4zM464 1487h4v4h-4zM460 1491h4v4h-4zM456 1495h4v4h-4zM444 1499h8v4h-8z" fill="#1f98c4" fill-opacity="0.831"/><path d="M444 1435h8v4h-8zM428 1443h4v4h-4zM464 1443h4v4h-4zM468 1475h4v4h-4zM424 1479h4v4h-4zM428 1487h4v4h-4zM432 1491h4v4h-4zM436 1495h4v4h-4zM452 1495h4v4h-4z" fill="#1fa0c3" fill-opacity="0.831"/><path d="M436 1439h4v4h-4zM456 1439h4v4h-4zM424 1451h4v4h-4zM468 1451h4v4h-4zM424 1475h4v4h-4zM428 1483h4v4h-4zM464 1483h4v4h-4zM460 1487h4v4h-4zM456 1491h4v4h-4zM440 1495h12v4h-12z" fill="#28a5b5" fill-opacity="0.831"/><path d="M428 1447h4v4h-4zM464 1447h4v4h-4zM424 1455h4v4h-4zM468 1455h4v4h-4zM424 1471h4v4h-4zM468 1471h4v4h-4zM432 1487h4v4h-4zM436 1491h4v4h-4z" fill="#30aaa8" fill-opacity="0.831"/><path d="M440 1439h4v4h-4zM452 1439h4v4h-4zM432 1443h4v4h-4zM460 1443h4v4h-4zM424 1459h4v4h-4zM468 1459h4v4h-4zM424 1463h4v4h-4zM468 1463h4v4h-4zM424 1467h4v4h-4zM468 1467h4v4h-4zM428 1479h4v4h-4zM464 1479h4v4h-4zM440 1491h4v4h-4zM452 1491h4v4h-4z" fill="#39ae9b" fill-opacity="0.831"/><path d="M444 1439h8v4h-8zM464 1475h4v4h-4zM432 1483h4v4h-4zM460 1483h4v4h-4zM436 1487h4v4h-4zM456 1487h4v4h-4zM444 1491h8v4h-8z" fill="#42b38d" fill-opacity="0.831"/><path d="M436 1443h4v4h-4zM456 1443h4v4h-4zM428 1451h4v4h-4zM464 1451h4v4h-4zM428 1475h4v4h-4z" fill="#4db781" fill-opacity="0.831"/><path d="M432 1447h4v4h-4zM460 1447h4v4h-4zM464 1455h4v4h-4zM428 1471h4v4h-4zM464 1471h4v4h-4zM432 1479h4v4h-4zM460 1479h4v4h-4zM456 1483h4v4h-4zM440 1487h4v4h-4zM452 1487h4v4h-4z" fill="#5dbc77" fill-opacity="0.831"/><path d="M440 1443h4v4h-4zM452 1443h4v4h-4zM428 1455h4v4h-4zM428 1467h4v4h-4zM464 1467h4v4h-4zM436 1483h4v4h-4zM444 1487h8v4h-8z" fill="#6dc16d" fill-opacity="0.831"/><path d="M444 1443h8v4h-8zM428 1459h4v4h-4zM464 1459h4v4h-4zM428 1463h4v4h-4zM464 1463h4v4h-4zM460 1475h4v4h-4zM452 1483h4v4h-4z" fill="#7ec563" fill-opacity="0.831"/><path d="M436 1447h4v4h-4zM456 1447h4v4h-4zM432 1451h4v4h-4zM460 1451h4v4h-4zM432 1475h4v4h-4zM436 1479h4v4h-4zM456 1479h4v4h-4zM440 1483h4v4h-4z" fill="#8eca59" fill-opacity="0.831"/><path d="M460 1471h4v4h-4zM444 1483h8v4h-8z" fill="#9ecb51" fill-opacity="0.831"/><path d="M440 1447h4v4h-4zM452 1447h4v4h-4zM432 1455h4v4h-4zM460 1455h4v4h-4zM432 1471h4v4h-4zM452 1479h4v4h-4z" fill="#aeca4c" fill-opacity="0.831"/><path d="M436 1451h4v4h-4zM456 1451h4v4h-4zM432 1459h4v4h-4zM460 1459h4v4h-4zM460 1463h4v4h-4zM432 1467h4v4h-4zM460 1467h4v4h-4zM436 1475h4v4h-4zM456 1475h4v4h-4zM440 1479h4v4h-4z" fill="#bec848" fill-opacity="0.831"/><path d="M444 1447h8v4h-8zM432 1463h4v4h-4zM444 1479h8v4h-8z" fill="#cdc642" fill-opacity="0.831"/><path d="M436 1471h4v4h-4zM456 1471h4v4h-4zM452 1475h4v4h-4z" fill="#ddc43d" fill-opacity="0.831"/><path d="M440 1451h4v4h-4zM452 1451h4v4h-4zM436 1455h4v4h-4zM456 1455h4v4h-4zM440 1475h4v4h-4z" fill="#e4bc3a" fill-opacity="0.831"/><path d="M444 1451h8v4h-8zM436 1459h4v4h-4zM456 1459h4v4h-4zM436 1467h4v4h-4zM456 1467h4v4h-4zM444 1475h8v4h-8z" fill="#e6b037" fill-opacity="0.831"/><path d="M436 1463h4v4h-4zM456 1463h4v4h-4zM440 1471h4v4h-4zM452 1471h4v4h-4z" fill="#e9a433" fill-opacity="0.831"/><path d="M440 1455h4v4h-4zM452 1455h4v4h-4z" fill="#eb9830" fill-opacity="0.831"/><path d="M444 1455h8v4h-8zM440 1459h4v4h-4zM452 1459h4v4h-4zM440 1467h4v4h-4zM452 1467h4v4h-4zM444 1471h8v4h-8z" fill="#ee8d2d" fill-opacity="0.831"/><path d="M440 1463h4v4h-4zM452 1463h4v4h-4z" fill="#f0812a" fill-opacity="0.831"/><path d="M444 1459h8v4h-8zM448 1463h4v4h-4zM444 1467h8v4h-8z" fill="#ed7328" fill-opacity="0.831"/><path d="M444 1463h4v4h-4z" fill="#eb6526" fill-opacity="0.831"/>
</g>
<rect x="399.45" y="1283.0500000000002" width="264.0" height="264.59999999999985" fill="none" stroke="#000" stroke-width="4.3"/>
<line x1="499.6" y1="1280.9" x2="499.6" y2="1549.8" stroke="#000" stroke-width="4.2"/>
<line x1="397.3" y1="1411.8" x2="665.6" y2="1411.8" stroke="#000" stroke-width="4.2"/>
<rect x="391.8" y="1305.7" width="5.5" height="3.8" fill="#000"/><rect x="391.8" y="1366.0" width="5.5" height="3.8" fill="#000"/><rect x="391.8" y="1430.4" width="5.5" height="3.8" fill="#000"/><rect x="394.3" y="1348.547891261462" width="3" height="2.4" fill="#000"/><rect x="394.3" y="1337.9295883404045" width="3" height="2.4" fill="#000"/><rect x="394.3" y="1330.395782522924" width="3" height="2.4" fill="#000"/><rect x="394.3" y="1324.5521087385382" width="3" height="2.4" fill="#000"/><rect x="394.3" y="1319.7774796018664" width="3" height="2.4" fill="#000"/><rect x="394.3" y="1315.7405881871405" width="3" height="2.4" fill="#000"/><rect x="394.3" y="1312.243673784386" width="3" height="2.4" fill="#000"/><rect x="394.3" y="1309.1591766808087" width="3" height="2.4" fill="#000"/><rect x="394.3" y="1411.7136682792398" width="3" height="2.4" fill="#000"/><rect x="394.3" y="1400.3733911960537" width="3" height="2.4" fill="#000"/><rect x="394.3" y="1392.3273365584794" width="3" height="2.4" fill="#000"/><rect x="394.3" y="1386.0863317207604" width="3" height="2.4" fill="#000"/><rect x="394.3" y="1380.9870594752933" width="3" height="2.4" fill="#000"/><rect x="394.3" y="1376.6756862230818" width="3" height="2.4" fill="#000"/><rect x="394.3" y="1372.941004837719" width="3" height="2.4" fill="#000"/><rect x="394.3" y="1369.6467823921075" width="3" height="2.4" fill="#000"/><rect x="394.3" y="1476.1136682792398" width="3" height="2.4" fill="#000"/><rect x="394.3" y="1464.7733911960538" width="3" height="2.4" fill="#000"/><rect x="394.3" y="1456.7273365584795" width="3" height="2.4" fill="#000"/><rect x="394.3" y="1450.4863317207605" width="3" height="2.4" fill="#000"/><rect x="394.3" y="1445.3870594752934" width="3" height="2.4" fill="#000"/><rect x="394.3" y="1441.075686223082" width="3" height="2.4" fill="#000"/><rect x="394.3" y="1437.341004837719" width="3" height="2.4" fill="#000"/><rect x="394.3" y="1434.0467823921076" width="3" height="2.4" fill="#000"/><rect x="391.8" y="1491.0" width="5.5" height="3.8" fill="#000"/><rect x="391.8" y="1510.0" width="5.5" height="3.8" fill="#000"/><rect x="391.8" y="1527.5" width="5.5" height="3.8" fill="#000"/><rect x="394.3" y="1485.7" width="3" height="2.4" fill="#000"/><rect x="394.3" y="1497.7" width="3" height="2.4" fill="#000"/><rect x="394.3" y="1503.7" width="3" height="2.4" fill="#000"/><rect x="394.3" y="1516.7" width="3" height="2.4" fill="#000"/><rect x="394.3" y="1521.7" width="3" height="2.4" fill="#000"/><rect x="394.3" y="1533.7" width="3" height="2.4" fill="#000"/><rect x="394.3" y="1539.7" width="3" height="2.4" fill="#000"/><rect x="511.9" y="1549.8" width="3.8" height="5.5" fill="#000"/><rect x="576.1" y="1549.8" width="3.8" height="5.5" fill="#000"/><rect x="636.3000000000001" y="1549.8" width="3.8" height="5.5" fill="#000"/><rect x="467.7261257216275" y="1549.8" width="2.4" height="3" fill="#000"/><rect x="479.0311845530023" y="1549.8" width="2.4" height="3" fill="#000"/><rect x="487.0522514432551" y="1549.8" width="2.4" height="3" fill="#000"/><rect x="493.2738742783724" y="1549.8" width="2.4" height="3" fill="#000"/><rect x="498.35731027462987" y="1549.8" width="2.4" height="3" fill="#000"/><rect x="502.65529416891525" y="1549.8" width="2.4" height="3" fill="#000"/><rect x="506.37837716488275" y="1549.8" width="2.4" height="3" fill="#000"/><rect x="509.66236910600463" y="1549.8" width="2.4" height="3" fill="#000"/><rect x="531.9261257216275" y="1549.8" width="2.4" height="3" fill="#000"/><rect x="543.2311845530022" y="1549.8" width="2.4" height="3" fill="#000"/><rect x="551.2522514432551" y="1549.8" width="2.4" height="3" fill="#000"/><rect x="557.4738742783724" y="1549.8" width="2.4" height="3" fill="#000"/><rect x="562.5573102746299" y="1549.8" width="2.4" height="3" fill="#000"/><rect x="566.8552941689152" y="1549.8" width="2.4" height="3" fill="#000"/><rect x="570.5783771648827" y="1549.8" width="2.4" height="3" fill="#000"/><rect x="573.8623691060046" y="1549.8" width="2.4" height="3" fill="#000"/><rect x="594.9220057389716" y="1549.8" width="2.4" height="3" fill="#000"/><rect x="605.5226995341236" y="1549.8" width="2.4" height="3" fill="#000"/><rect x="613.0440114779433" y="1549.8" width="2.4" height="3" fill="#000"/><rect x="618.8779942610283" y="1549.8" width="2.4" height="3" fill="#000"/><rect x="623.6447052730954" y="1549.8" width="2.4" height="3" fill="#000"/><rect x="627.6749020088582" y="1549.8" width="2.4" height="3" fill="#000"/><rect x="631.166017216915" y="1549.8" width="2.4" height="3" fill="#000"/><rect x="634.2453990682474" y="1549.8" width="2.4" height="3" fill="#000"/><rect x="655.1220057389717" y="1549.8" width="2.4" height="3" fill="#000"/><rect x="415.40000000000003" y="1549.8" width="3.8" height="5.5" fill="#000"/><rect x="432.70000000000005" y="1549.8" width="3.8" height="5.5" fill="#000"/><rect x="450.8" y="1549.8" width="3.8" height="5.5" fill="#000"/><rect x="422.1" y="1549.8" width="2.4" height="3" fill="#000"/><rect x="427.1" y="1549.8" width="2.4" height="3" fill="#000"/><rect x="439.40000000000003" y="1549.8" width="2.4" height="3" fill="#000"/><rect x="444.40000000000003" y="1549.8" width="2.4" height="3" fill="#000"/><rect x="445.5" y="1549.8" width="2.4" height="3" fill="#000"/><rect x="457.5" y="1549.8" width="2.4" height="3" fill="#000"/>
<g filter="url(#speck)">
<path d="M753 1386h12v4h-12zM741 1390h36v4h-36zM737 1394h8v4h-8zM773 1394h12v4h-12zM729 1398h8v4h-8zM781 1398h8v4h-8zM729 1402h4v4h-4zM785 1402h8v4h-8zM725 1406h4v4h-4zM789 1406h4v4h-4zM721 1410h8v4h-8zM793 1410h4v4h-4zM721 1414h4v4h-4zM793 1414h4v4h-4zM721 1418h4v4h-4zM797 1418h4v4h-4zM717 1422h4v4h-4zM797 1422h4v4h-4zM717 1426h4v4h-4zM797 1426h4v4h-4zM717 1430h4v4h-4zM797 1430h4v4h-4zM717 1434h4v4h-4zM797 1434h4v4h-4zM717 1438h4v4h-4zM797 1438h4v4h-4zM717 1442h4v4h-4zM797 1442h4v4h-4zM717 1446h4v4h-4zM797 1446h4v4h-4zM717 1450h4v4h-4zM797 1450h4v4h-4zM717 1454h8v4h-8zM793 1454h8v4h-8zM721 1458h4v4h-4zM793 1458h4v4h-4zM721 1462h4v4h-4zM793 1462h4v4h-4zM721 1466h8v4h-8zM789 1466h8v4h-8zM721 1470h8v4h-8zM785 1470h8v4h-8zM725 1474h4v4h-4zM781 1474h8v4h-8zM725 1478h8v4h-8zM777 1478h12v4h-12zM725 1482h8v4h-8zM777 1482h8v4h-8zM725 1486h8v4h-8zM773 1486h8v4h-8zM729 1490h4v4h-4zM773 1490h8v4h-8zM729 1494h8v4h-8zM769 1494h8v4h-8zM729 1498h8v4h-8zM769 1498h8v4h-8zM733 1502h4v4h-4zM765 1502h8v4h-8zM733 1506h8v4h-8zM765 1506h8v4h-8zM733 1510h12v4h-12zM761 1510h8v4h-8zM737 1514h32v4h-32zM741 1518h24v4h-24zM745 1522h12v4h-12z" fill="#4354a1" fill-opacity="0.437"/><path d="M745 1394h28v4h-28zM737 1398h12v4h-12zM773 1398h8v4h-8zM733 1402h8v4h-8zM777 1402h8v4h-8zM729 1406h8v4h-8zM785 1406h4v4h-4zM729 1410h4v4h-4zM785 1410h8v4h-8zM725 1414h4v4h-4zM789 1414h4v4h-4zM725 1418h4v4h-4zM789 1418h8v4h-8zM721 1422h8v4h-8zM793 1422h4v4h-4zM721 1426h4v4h-4zM793 1426h4v4h-4zM721 1430h4v4h-4zM793 1430h4v4h-4zM721 1434h4v4h-4zM793 1434h4v4h-4zM721 1438h4v4h-4zM793 1438h4v4h-4zM721 1442h4v4h-4zM793 1442h4v4h-4zM721 1446h4v4h-4zM793 1446h4v4h-4zM721 1450h8v4h-8zM793 1450h4v4h-4zM725 1454h4v4h-4zM789 1454h4v4h-4zM725 1458h4v4h-4zM789 1458h4v4h-4zM725 1462h8v4h-8zM785 1462h8v4h-8zM729 1466h4v4h-4zM781 1466h8v4h-8zM729 1470h8v4h-8zM777 1470h8v4h-8zM729 1474h8v4h-8zM773 1474h8v4h-8zM733 1478h8v4h-8zM769 1478h8v4h-8zM733 1482h8v4h-8zM765 1482h12v4h-12zM733 1486h8v4h-8zM765 1486h8v4h-8zM733 1490h8v4h-8zM761 1490h12v4h-12zM737 1494h8v4h-8zM761 1494h8v4h-8zM737 1498h12v4h-12zM757 1498h12v4h-12zM737 1502h28v4h-28zM741 1506h24v4h-24zM745 1510h16v4h-16z" fill="#3d54a4" fill-opacity="0.498"/><path d="M749 1398h24v4h-24zM741 1402h4v4h-4zM773 1402h4v4h-4zM737 1406h4v4h-4zM781 1406h4v4h-4zM733 1410h4v4h-4zM781 1410h4v4h-4zM729 1414h4v4h-4zM785 1414h4v4h-4zM729 1418h4v4h-4zM789 1422h4v4h-4zM725 1426h4v4h-4zM789 1426h4v4h-4zM725 1430h4v4h-4zM789 1430h4v4h-4zM725 1434h4v4h-4zM725 1438h4v4h-4zM725 1442h4v4h-4zM789 1442h4v4h-4zM725 1446h4v4h-4zM789 1446h4v4h-4zM729 1450h4v4h-4zM789 1450h4v4h-4zM729 1454h4v4h-4zM785 1454h4v4h-4zM729 1458h4v4h-4zM785 1458h4v4h-4zM733 1462h4v4h-4zM781 1462h4v4h-4zM733 1466h4v4h-4zM777 1466h4v4h-4zM737 1470h4v4h-4zM773 1470h4v4h-4zM737 1474h8v4h-8zM765 1474h8v4h-8zM741 1478h4v4h-4zM761 1478h8v4h-8zM741 1482h8v4h-8zM757 1482h8v4h-8zM741 1486h24v4h-24zM741 1490h20v4h-20zM745 1494h16v4h-16zM749 1498h8v4h-8z" fill="#3654a6" fill-opacity="0.542"/><path d="M745 1402h8v4h-8zM769 1402h4v4h-4zM741 1406h4v4h-4zM777 1406h4v4h-4zM737 1410h4v4h-4zM733 1414h4v4h-4zM785 1418h4v4h-4zM729 1422h4v4h-4zM729 1426h4v4h-4zM789 1434h4v4h-4zM789 1438h4v4h-4zM729 1442h4v4h-4zM729 1446h4v4h-4zM785 1450h4v4h-4zM733 1454h4v4h-4zM733 1458h4v4h-4zM781 1458h4v4h-4zM737 1462h4v4h-4zM777 1462h4v4h-4zM737 1466h4v4h-4zM773 1466h4v4h-4zM741 1470h4v4h-4zM765 1470h8v4h-8zM745 1474h8v4h-8zM757 1474h8v4h-8zM745 1478h16v4h-16zM749 1482h8v4h-8z" fill="#3054a9" fill-opacity="0.574"/><path d="M753 1402h16v4h-16zM745 1406h4v4h-4zM773 1406h4v4h-4zM777 1410h4v4h-4zM781 1414h4v4h-4zM733 1418h4v4h-4zM785 1422h4v4h-4zM785 1426h4v4h-4zM729 1430h4v4h-4zM729 1434h4v4h-4zM729 1438h4v4h-4zM785 1442h4v4h-4zM785 1446h4v4h-4zM733 1450h4v4h-4zM781 1454h4v4h-4zM737 1458h4v4h-4zM777 1458h4v4h-4zM773 1462h4v4h-4zM741 1466h4v4h-4zM769 1466h4v4h-4zM745 1470h8v4h-8zM757 1470h8v4h-8zM753 1474h4v4h-4z" fill="#2a54ab" fill-opacity="0.601"/><path d="M749 1406h4v4h-4zM769 1406h4v4h-4zM741 1410h4v4h-4zM737 1414h4v4h-4zM781 1418h4v4h-4zM733 1422h4v4h-4zM785 1430h4v4h-4zM785 1434h4v4h-4zM785 1438h4v4h-4zM733 1446h4v4h-4zM781 1450h4v4h-4zM737 1454h4v4h-4zM741 1462h4v4h-4zM745 1466h8v4h-8zM765 1466h4v4h-4zM753 1470h4v4h-4z" fill="#2759b0" fill-opacity="0.626"/><path d="M753 1406h4v4h-4zM765 1406h4v4h-4zM773 1410h4v4h-4zM777 1414h4v4h-4zM737 1418h4v4h-4zM781 1422h4v4h-4zM733 1426h4v4h-4zM733 1430h4v4h-4zM733 1438h4v4h-4zM733 1442h4v4h-4zM781 1446h4v4h-4zM777 1454h4v4h-4zM741 1458h4v4h-4zM773 1458h4v4h-4zM745 1462h4v4h-4zM769 1462h4v4h-4zM753 1466h12v4h-12z" fill="#2761b4" fill-opacity="0.653"/><path d="M757 1406h8v4h-8zM745 1410h4v4h-4zM769 1410h4v4h-4zM741 1414h4v4h-4zM777 1418h4v4h-4zM781 1426h4v4h-4zM733 1434h4v4h-4zM781 1442h4v4h-4zM737 1450h4v4h-4zM749 1462h4v4h-4zM765 1462h4v4h-4z" fill="#2668ba" fill-opacity="0.681"/><path d="M749 1410h4v4h-4zM773 1414h4v4h-4zM737 1422h4v4h-4zM781 1430h4v4h-4zM781 1434h4v4h-4zM781 1438h4v4h-4zM737 1446h4v4h-4zM777 1450h4v4h-4zM741 1454h4v4h-4zM745 1458h4v4h-4zM769 1458h4v4h-4zM753 1462h12v4h-12z" fill="#2570be" fill-opacity="0.708"/><path d="M753 1410h4v4h-4zM765 1410h4v4h-4zM745 1414h4v4h-4zM741 1418h4v4h-4zM777 1422h4v4h-4zM737 1426h4v4h-4zM737 1442h4v4h-4zM773 1454h4v4h-4z" fill="#2477c4" fill-opacity="0.735"/><path d="M757 1410h8v4h-8zM769 1414h4v4h-4zM737 1430h4v4h-4zM737 1434h4v4h-4zM737 1438h4v4h-4zM777 1446h4v4h-4zM741 1450h4v4h-4zM749 1458h4v4h-4zM765 1458h4v4h-4z" fill="#2380c4" fill-opacity="0.767"/><path d="M773 1418h4v4h-4zM741 1422h4v4h-4zM777 1426h4v4h-4zM777 1442h4v4h-4zM773 1450h4v4h-4zM745 1454h4v4h-4zM769 1454h4v4h-4zM753 1458h4v4h-4zM761 1458h4v4h-4z" fill="#2288c4" fill-opacity="0.815"/><path d="M749 1414h4v4h-4zM745 1418h4v4h-4zM777 1430h4v4h-4zM777 1438h4v4h-4zM741 1446h4v4h-4zM757 1458h4v4h-4z" fill="#2090c4" fill-opacity="0.831"/><path d="M753 1414h4v4h-4zM765 1414h4v4h-4zM773 1422h4v4h-4zM741 1426h4v4h-4zM777 1434h4v4h-4zM745 1450h4v4h-4zM749 1454h4v4h-4zM765 1454h4v4h-4z" fill="#1f98c4" fill-opacity="0.831"/><path d="M757 1414h8v4h-8zM769 1418h4v4h-4zM741 1442h4v4h-4zM773 1446h4v4h-4zM769 1450h4v4h-4z" fill="#1fa0c3" fill-opacity="0.831"/><path d="M749 1418h4v4h-4zM745 1422h4v4h-4zM741 1430h4v4h-4zM741 1434h4v4h-4zM741 1438h4v4h-4zM753 1454h4v4h-4zM761 1454h4v4h-4z" fill="#28a5b5" fill-opacity="0.831"/><path d="M773 1426h4v4h-4zM773 1442h4v4h-4zM745 1446h4v4h-4zM757 1454h4v4h-4z" fill="#30aaa8" fill-opacity="0.831"/><path d="M765 1418h4v4h-4zM769 1422h4v4h-4zM773 1430h4v4h-4zM773 1438h4v4h-4zM749 1450h4v4h-4zM765 1450h4v4h-4z" fill="#39ae9b" fill-opacity="0.831"/><path d="M753 1418h4v4h-4zM745 1426h4v4h-4zM773 1434h4v4h-4zM769 1446h4v4h-4z" fill="#42b38d" fill-opacity="0.831"/><path d="M757 1418h8v4h-8zM749 1422h4v4h-4zM745 1442h4v4h-4zM753 1450h4v4h-4zM761 1450h4v4h-4z" fill="#4db781" fill-opacity="0.831"/><path d="M769 1426h4v4h-4zM745 1430h4v4h-4zM745 1438h4v4h-4zM749 1446h4v4h-4zM757 1450h4v4h-4z" fill="#5dbc77" fill-opacity="0.831"/><path d="M765 1422h4v4h-4zM745 1434h4v4h-4zM769 1442h4v4h-4zM765 1446h4v4h-4z" fill="#6dc16d" fill-opacity="0.831"/><path d="M753 1422h4v4h-4zM769 1430h4v4h-4z" fill="#7ec563" fill-opacity="0.831"/><path d="M761 1422h4v4h-4zM749 1426h4v4h-4zM769 1434h4v4h-4zM769 1438h4v4h-4zM749 1442h4v4h-4zM753 1446h4v4h-4z" fill="#8eca59" fill-opacity="0.831"/><path d="M757 1422h4v4h-4zM765 1426h4v4h-4zM757 1446h8v4h-8z" fill="#9ecb51" fill-opacity="0.831"/><path d="M749 1430h4v4h-4zM749 1438h4v4h-4zM765 1442h4v4h-4z" fill="#aeca4c" fill-opacity="0.831"/><path d="M753 1426h4v4h-4zM749 1434h4v4h-4z" fill="#bec848" fill-opacity="0.831"/><path d="M761 1426h4v4h-4zM765 1430h4v4h-4zM765 1438h4v4h-4zM753 1442h4v4h-4z" fill="#cdc642" fill-opacity="0.831"/><path d="M757 1426h4v4h-4zM765 1434h4v4h-4zM757 1442h8v4h-8z" fill="#ddc43d" fill-opacity="0.831"/><path d="M753 1430h4v4h-4zM753 1438h4v4h-4z" fill="#e4bc3a" fill-opacity="0.831"/><path d="M757 1430h8v4h-8zM753 1434h4v4h-4zM761 1438h4v4h-4z" fill="#e6b037" fill-opacity="0.831"/><path d="M761 1434h4v4h-4zM757 1438h4v4h-4z" fill="#e9a433" fill-opacity="0.831"/><path d="M757 1434h4v4h-4z" fill="#eb9830" fill-opacity="0.831"/>
</g>
<rect x="688.15" y="1281.65" width="267.90000000000003" height="267.2" fill="none" stroke="#000" stroke-width="4.3"/>
<line x1="796.2" y1="1279.5" x2="796.2" y2="1551.0" stroke="#000" stroke-width="4.2"/>
<line x1="686.0" y1="1392.2" x2="958.2" y2="1392.2" stroke="#000" stroke-width="4.2"/>
<rect x="680.5" y="1304.3" width="5.5" height="3.8" fill="#000"/><rect x="680.5" y="1364.6" width="5.5" height="3.8" fill="#000"/><rect x="680.5" y="1429.0" width="5.5" height="3.8" fill="#000"/><rect x="683.0" y="1347.1478912614618" width="3" height="2.4" fill="#000"/><rect x="683.0" y="1336.5295883404044" width="3" height="2.4" fill="#000"/><rect x="683.0" y="1328.995782522924" width="3" height="2.4" fill="#000"/><rect x="683.0" y="1323.1521087385381" width="3" height="2.4" fill="#000"/><rect x="683.0" y="1318.3774796018663" width="3" height="2.4" fill="#000"/><rect x="683.0" y="1314.3405881871404" width="3" height="2.4" fill="#000"/><rect x="683.0" y="1310.8436737843858" width="3" height="2.4" fill="#000"/><rect x="683.0" y="1307.7591766808087" width="3" height="2.4" fill="#000"/><rect x="683.0" y="1410.3136682792397" width="3" height="2.4" fill="#000"/><rect x="683.0" y="1398.9733911960536" width="3" height="2.4" fill="#000"/><rect x="683.0" y="1390.9273365584793" width="3" height="2.4" fill="#000"/><rect x="683.0" y="1384.6863317207603" width="3" height="2.4" fill="#000"/><rect x="683.0" y="1379.5870594752932" width="3" height="2.4" fill="#000"/><rect x="683.0" y="1375.2756862230817" width="3" height="2.4" fill="#000"/><rect x="683.0" y="1371.541004837719" width="3" height="2.4" fill="#000"/><rect x="683.0" y="1368.2467823921074" width="3" height="2.4" fill="#000"/><rect x="683.0" y="1474.7136682792398" width="3" height="2.4" fill="#000"/><rect x="683.0" y="1463.3733911960537" width="3" height="2.4" fill="#000"/><rect x="683.0" y="1455.3273365584794" width="3" height="2.4" fill="#000"/><rect x="683.0" y="1449.0863317207604" width="3" height="2.4" fill="#000"/><rect x="683.0" y="1443.9870594752933" width="3" height="2.4" fill="#000"/><rect x="683.0" y="1439.6756862230818" width="3" height="2.4" fill="#000"/><rect x="683.0" y="1435.941004837719" width="3" height="2.4" fill="#000"/><rect x="683.0" y="1432.6467823921075" width="3" height="2.4" fill="#000"/><rect x="680.5" y="1489.6" width="5.5" height="3.8" fill="#000"/><rect x="680.5" y="1508.6" width="5.5" height="3.8" fill="#000"/><rect x="680.5" y="1526.1" width="5.5" height="3.8" fill="#000"/><rect x="683.0" y="1484.3" width="3" height="2.4" fill="#000"/><rect x="683.0" y="1496.3" width="3" height="2.4" fill="#000"/><rect x="683.0" y="1502.3" width="3" height="2.4" fill="#000"/><rect x="683.0" y="1515.3" width="3" height="2.4" fill="#000"/><rect x="683.0" y="1520.3" width="3" height="2.4" fill="#000"/><rect x="683.0" y="1532.3" width="3" height="2.4" fill="#000"/><rect x="683.0" y="1538.3" width="3" height="2.4" fill="#000"/><rect x="809.1" y="1551.0" width="3.8" height="5.5" fill="#000"/><rect x="870.3000000000001" y="1551.0" width="3.8" height="5.5" fill="#000"/><rect x="928.4" y="1551.0" width="3.8" height="5.5" fill="#000"/><rect x="767.0230357346355" y="1551.0" width="2.4" height="3" fill="#000"/><rect x="777.7998207888432" y="1551.0" width="2.4" height="3" fill="#000"/><rect x="785.4460714692713" y="1551.0" width="2.4" height="3" fill="#000"/><rect x="791.3769642653643" y="1551.0" width="2.4" height="3" fill="#000"/><rect x="796.222856523479" y="1551.0" width="2.4" height="3" fill="#000"/><rect x="800.3200000488724" y="1551.0" width="2.4" height="3" fill="#000"/><rect x="803.8691072039069" y="1551.0" width="2.4" height="3" fill="#000"/><rect x="806.9996415776866" y="1551.0" width="2.4" height="3" fill="#000"/><rect x="828.2230357346356" y="1551.0" width="2.4" height="3" fill="#000"/><rect x="838.9998207888433" y="1551.0" width="2.4" height="3" fill="#000"/><rect x="846.6460714692713" y="1551.0" width="2.4" height="3" fill="#000"/><rect x="852.5769642653644" y="1551.0" width="2.4" height="3" fill="#000"/><rect x="857.422856523479" y="1551.0" width="2.4" height="3" fill="#000"/><rect x="861.5200000488725" y="1551.0" width="2.4" height="3" fill="#000"/><rect x="865.0691072039069" y="1551.0" width="2.4" height="3" fill="#000"/><rect x="868.1996415776866" y="1551.0" width="2.4" height="3" fill="#000"/><rect x="888.4898427480773" y="1551.0" width="2.4" height="3" fill="#000"/><rect x="898.7207448992124" y="1551.0" width="2.4" height="3" fill="#000"/><rect x="905.9796854961546" y="1551.0" width="2.4" height="3" fill="#000"/><rect x="911.6101572519226" y="1551.0" width="2.4" height="3" fill="#000"/><rect x="916.2105876472896" y="1551.0" width="2.4" height="3" fill="#000"/><rect x="920.1001961248282" y="1551.0" width="2.4" height="3" fill="#000"/><rect x="923.4695282442318" y="1551.0" width="2.4" height="3" fill="#000"/><rect x="926.4414897984246" y="1551.0" width="2.4" height="3" fill="#000"/><rect x="946.5898427480772" y="1551.0" width="2.4" height="3" fill="#000"/><rect x="714.4" y="1551.0" width="3.8" height="5.5" fill="#000"/><rect x="731.4" y="1551.0" width="3.8" height="5.5" fill="#000"/><rect x="748.4" y="1551.0" width="3.8" height="5.5" fill="#000"/><rect x="721.0999999999999" y="1551.0" width="2.4" height="3" fill="#000"/><rect x="726.0999999999999" y="1551.0" width="2.4" height="3" fill="#000"/><rect x="738.0999999999999" y="1551.0" width="2.4" height="3" fill="#000"/><rect x="743.0999999999999" y="1551.0" width="2.4" height="3" fill="#000"/><rect x="743.0999999999999" y="1551.0" width="2.4" height="3" fill="#000"/><rect x="755.0999999999999" y="1551.0" width="2.4" height="3" fill="#000"/>
<g filter="url(#speck)">
<path d="M270 1679h40v4h-40zM262 1683h60v4h-60zM254 1687h16v4h-16zM314 1687h16v4h-16zM246 1691h12v4h-12zM322 1691h12v4h-12zM242 1695h12v4h-12zM330 1695h12v4h-12zM238 1699h12v4h-12zM334 1699h12v4h-12zM234 1703h12v4h-12zM338 1703h12v4h-12zM230 1707h12v4h-12zM342 1707h8v4h-8zM230 1711h8v4h-8zM346 1711h8v4h-8zM226 1715h8v4h-8zM346 1715h8v4h-8zM226 1719h8v4h-8zM350 1719h8v4h-8zM222 1723h8v4h-8zM350 1723h8v4h-8zM222 1727h8v4h-8zM350 1727h8v4h-8zM222 1731h8v4h-8zM354 1731h8v4h-8zM218 1735h12v4h-12zM354 1735h8v4h-8zM218 1739h12v4h-12zM354 1739h8v4h-8zM218 1743h12v4h-12zM354 1743h8v4h-8zM218 1747h12v4h-12zM354 1747h8v4h-8zM218 1751h12v4h-12zM354 1751h8v4h-8zM222 1755h8v4h-8zM350 1755h8v4h-8zM222 1759h8v4h-8zM350 1759h8v4h-8zM222 1763h8v4h-8zM350 1763h8v4h-8zM222 1767h8v4h-8zM346 1767h8v4h-8zM218 1771h12v4h-12zM342 1771h12v4h-12zM218 1775h12v4h-12zM342 1775h8v4h-8zM218 1779h8v4h-8zM338 1779h12v4h-12zM214 1783h12v4h-12zM334 1783h12v4h-12zM214 1787h8v4h-8zM326 1787h16v4h-16zM214 1791h8v4h-8zM322 1791h16v4h-16zM214 1795h8v4h-8zM314 1795h16v4h-16zM214 1799h8v4h-8zM306 1799h20v4h-20zM214 1803h12v4h-12zM298 1803h20v4h-20zM218 1807h12v4h-12zM286 1807h24v4h-24zM222 1811h16v4h-16zM270 1811h28v4h-28zM226 1815h60v4h-60zM246 1819h16v4h-16z" fill="#4354a1" fill-opacity="0.437"/><path d="M270 1687h44v4h-44zM258 1691h20v4h-20zM306 1691h16v4h-16zM254 1695h12v4h-12zM318 1695h12v4h-12zM250 1699h8v4h-8zM322 1699h12v4h-12zM246 1703h8v4h-8zM330 1703h8v4h-8zM242 1707h8v4h-8zM334 1707h8v4h-8zM238 1711h8v4h-8zM338 1711h8v4h-8zM234 1715h8v4h-8zM338 1715h8v4h-8zM234 1719h8v4h-8zM342 1719h8v4h-8zM230 1723h12v4h-12zM342 1723h8v4h-8zM230 1727h8v4h-8zM346 1727h4v4h-4zM230 1731h8v4h-8zM346 1731h8v4h-8zM230 1735h8v4h-8zM346 1735h8v4h-8zM230 1739h8v4h-8zM346 1739h8v4h-8zM230 1743h8v4h-8zM346 1743h8v4h-8zM230 1747h8v4h-8zM346 1747h8v4h-8zM230 1751h8v4h-8zM346 1751h8v4h-8zM230 1755h8v4h-8zM342 1755h8v4h-8zM230 1759h12v4h-12zM342 1759h8v4h-8zM230 1763h12v4h-12zM338 1763h12v4h-12zM230 1767h12v4h-12zM338 1767h8v4h-8zM230 1771h12v4h-12zM334 1771h8v4h-8zM230 1775h12v4h-12zM330 1775h12v4h-12zM226 1779h12v4h-12zM326 1779h12v4h-12zM226 1783h12v4h-12zM318 1783h16v4h-16zM222 1787h12v4h-12zM314 1787h12v4h-12zM222 1791h12v4h-12zM306 1791h16v4h-16zM222 1795h12v4h-12zM294 1795h20v4h-20zM222 1799h16v4h-16zM286 1799h20v4h-20zM226 1803h20v4h-20zM270 1803h28v4h-28zM230 1807h56v4h-56zM238 1811h32v4h-32z" fill="#3d54a4" fill-opacity="0.498"/><path d="M278 1691h28v4h-28zM266 1695h12v4h-12zM306 1695h12v4h-12zM258 1699h8v4h-8zM314 1699h8v4h-8zM254 1703h8v4h-8zM322 1703h8v4h-8zM250 1707h8v4h-8zM326 1707h8v4h-8zM246 1711h8v4h-8zM330 1711h8v4h-8zM242 1715h8v4h-8zM334 1715h4v4h-4zM242 1719h4v4h-4zM338 1719h4v4h-4zM242 1723h4v4h-4zM338 1723h4v4h-4zM238 1727h4v4h-4zM338 1727h8v4h-8zM238 1731h4v4h-4zM342 1731h4v4h-4zM238 1735h4v4h-4zM342 1735h4v4h-4zM238 1739h4v4h-4zM342 1739h4v4h-4zM238 1743h4v4h-4zM342 1743h4v4h-4zM238 1747h4v4h-4zM342 1747h4v4h-4zM238 1751h4v4h-4zM338 1751h8v4h-8zM238 1755h8v4h-8zM338 1755h4v4h-4zM242 1759h4v4h-4zM338 1759h4v4h-4zM242 1763h4v4h-4zM334 1763h4v4h-4zM242 1767h8v4h-8zM330 1767h8v4h-8zM242 1771h8v4h-8zM326 1771h8v4h-8zM242 1775h8v4h-8zM322 1775h8v4h-8zM238 1779h8v4h-8zM318 1779h8v4h-8zM238 1783h8v4h-8zM310 1783h8v4h-8zM234 1787h12v4h-12zM302 1787h12v4h-12zM234 1791h12v4h-12zM290 1791h16v4h-16zM234 1795h16v4h-16zM278 1795h16v4h-16zM238 1799h48v4h-48zM246 1803h24v4h-24z" fill="#3654a6" fill-opacity="0.542"/><path d="M278 1695h28v4h-28zM266 1699h8v4h-8zM310 1699h4v4h-4zM262 1703h4v4h-4zM318 1703h4v4h-4zM258 1707h4v4h-4zM322 1707h4v4h-4zM254 1711h4v4h-4zM326 1711h4v4h-4zM250 1715h4v4h-4zM330 1715h4v4h-4zM246 1719h4v4h-4zM334 1719h4v4h-4zM246 1723h4v4h-4zM334 1723h4v4h-4zM242 1727h4v4h-4zM242 1731h4v4h-4zM338 1731h4v4h-4zM242 1735h4v4h-4zM338 1735h4v4h-4zM242 1739h4v4h-4zM338 1739h4v4h-4zM242 1743h4v4h-4zM338 1743h4v4h-4zM242 1747h4v4h-4zM338 1747h4v4h-4zM242 1751h4v4h-4zM246 1755h4v4h-4zM334 1755h4v4h-4zM246 1759h4v4h-4zM334 1759h4v4h-4zM246 1763h4v4h-4zM330 1763h4v4h-4zM250 1767h4v4h-4zM326 1767h4v4h-4zM250 1771h4v4h-4zM322 1771h4v4h-4zM250 1775h4v4h-4zM318 1775h4v4h-4zM246 1779h8v4h-8zM310 1779h8v4h-8zM246 1783h8v4h-8zM302 1783h8v4h-8zM246 1787h12v4h-12zM290 1787h12v4h-12zM246 1791h20v4h-20zM270 1791h20v4h-20zM250 1795h28v4h-28z" fill="#3054a9" fill-opacity="0.574"/><path d="M274 1699h12v4h-12zM298 1699h12v4h-12zM266 1703h4v4h-4zM310 1703h8v4h-8zM262 1707h4v4h-4zM318 1707h4v4h-4zM258 1711h4v4h-4zM322 1711h4v4h-4zM254 1715h4v4h-4zM326 1715h4v4h-4zM250 1719h4v4h-4zM330 1719h4v4h-4zM246 1727h4v4h-4zM334 1727h4v4h-4zM246 1731h4v4h-4zM334 1731h4v4h-4zM246 1735h4v4h-4zM334 1735h4v4h-4zM334 1739h4v4h-4zM246 1743h4v4h-4zM334 1743h4v4h-4zM246 1747h4v4h-4zM334 1747h4v4h-4zM246 1751h4v4h-4zM334 1751h4v4h-4zM330 1755h4v4h-4zM250 1759h4v4h-4zM330 1759h4v4h-4zM250 1763h4v4h-4zM326 1763h4v4h-4zM254 1767h4v4h-4zM322 1767h4v4h-4zM254 1771h4v4h-4zM318 1771h4v4h-4zM254 1775h8v4h-8zM310 1775h8v4h-8zM254 1779h8v4h-8zM302 1779h8v4h-8zM254 1783h12v4h-12zM290 1783h12v4h-12zM258 1787h32v4h-32zM266 1791h4v4h-4z" fill="#2a54ab" fill-opacity="0.601"/><path d="M286 1699h12v4h-12zM270 1703h8v4h-8zM306 1703h4v4h-4zM266 1707h4v4h-4zM314 1707h4v4h-4zM254 1719h4v4h-4zM326 1719h4v4h-4zM250 1723h4v4h-4zM330 1723h4v4h-4zM250 1727h4v4h-4zM330 1727h4v4h-4zM246 1739h4v4h-4zM250 1751h4v4h-4zM330 1751h4v4h-4zM250 1755h4v4h-4zM326 1759h4v4h-4zM254 1763h4v4h-4zM322 1763h4v4h-4zM258 1767h4v4h-4zM318 1767h4v4h-4zM258 1771h4v4h-4zM314 1771h4v4h-4zM262 1775h4v4h-4zM306 1775h4v4h-4zM262 1779h12v4h-12zM294 1779h8v4h-8zM266 1783h24v4h-24z" fill="#2759b0" fill-opacity="0.626"/><path d="M278 1703h8v4h-8zM298 1703h8v4h-8zM270 1707h4v4h-4zM310 1707h4v4h-4zM262 1711h4v4h-4zM318 1711h4v4h-4zM258 1715h4v4h-4zM322 1715h4v4h-4zM254 1723h4v4h-4zM326 1723h4v4h-4zM250 1731h4v4h-4zM330 1731h4v4h-4zM250 1735h4v4h-4zM330 1735h4v4h-4zM250 1739h4v4h-4zM330 1739h4v4h-4zM250 1743h4v4h-4zM330 1743h4v4h-4zM250 1747h4v4h-4zM330 1747h4v4h-4zM254 1755h4v4h-4zM326 1755h4v4h-4zM254 1759h4v4h-4zM258 1763h4v4h-4zM262 1767h4v4h-4zM262 1771h4v4h-4zM310 1771h4v4h-4zM266 1775h8v4h-8zM302 1775h4v4h-4zM274 1779h20v4h-20z" fill="#2761b4" fill-opacity="0.653"/><path d="M286 1703h12v4h-12zM274 1707h4v4h-4zM306 1707h4v4h-4zM266 1711h4v4h-4zM314 1711h4v4h-4zM262 1715h4v4h-4zM318 1715h4v4h-4zM258 1719h4v4h-4zM322 1719h4v4h-4zM254 1727h4v4h-4zM326 1727h4v4h-4zM254 1751h4v4h-4zM326 1751h4v4h-4zM258 1759h4v4h-4zM322 1759h4v4h-4zM318 1763h4v4h-4zM314 1767h4v4h-4zM266 1771h8v4h-8zM306 1771h4v4h-4zM274 1775h12v4h-12zM290 1775h12v4h-12z" fill="#2668ba" fill-opacity="0.681"/><path d="M278 1707h4v4h-4zM302 1707h4v4h-4zM270 1711h4v4h-4zM310 1711h4v4h-4zM258 1723h4v4h-4zM322 1723h4v4h-4zM254 1731h4v4h-4zM326 1731h4v4h-4zM254 1735h4v4h-4zM326 1735h4v4h-4zM326 1739h4v4h-4zM254 1743h4v4h-4zM326 1743h4v4h-4zM254 1747h4v4h-4zM326 1747h4v4h-4zM258 1755h4v4h-4zM322 1755h4v4h-4zM318 1759h4v4h-4zM262 1763h4v4h-4zM314 1763h4v4h-4zM266 1767h4v4h-4zM310 1767h4v4h-4zM274 1771h4v4h-4zM302 1771h4v4h-4zM286 1775h4v4h-4z" fill="#2570be" fill-opacity="0.708"/><path d="M282 1707h20v4h-20zM266 1715h4v4h-4zM314 1715h4v4h-4zM262 1719h4v4h-4zM318 1719h4v4h-4zM322 1727h4v4h-4zM254 1739h4v4h-4zM258 1751h4v4h-4zM322 1751h4v4h-4zM262 1759h4v4h-4zM266 1763h4v4h-4zM270 1767h4v4h-4zM306 1767h4v4h-4zM278 1771h8v4h-8zM294 1771h8v4h-8z" fill="#2477c4" fill-opacity="0.735"/><path d="M274 1711h4v4h-4zM306 1711h4v4h-4zM258 1727h4v4h-4zM322 1731h4v4h-4zM258 1747h4v4h-4zM322 1747h4v4h-4zM262 1755h4v4h-4zM318 1755h4v4h-4zM314 1759h4v4h-4zM310 1763h4v4h-4zM274 1767h4v4h-4zM302 1767h4v4h-4zM286 1771h8v4h-8z" fill="#2380c4" fill-opacity="0.767"/><path d="M278 1711h4v4h-4zM302 1711h4v4h-4zM270 1715h4v4h-4zM310 1715h4v4h-4zM266 1719h4v4h-4zM314 1719h4v4h-4zM262 1723h4v4h-4zM318 1723h4v4h-4zM258 1731h4v4h-4zM258 1735h4v4h-4zM322 1735h4v4h-4zM258 1739h4v4h-4zM322 1739h4v4h-4zM258 1743h4v4h-4zM322 1743h4v4h-4zM266 1759h4v4h-4zM270 1763h4v4h-4zM278 1767h4v4h-4zM298 1767h4v4h-4z" fill="#2288c4" fill-opacity="0.815"/><path d="M282 1711h8v4h-8zM294 1711h8v4h-8zM306 1715h4v4h-4zM262 1727h4v4h-4zM318 1727h4v4h-4zM262 1751h4v4h-4zM318 1751h4v4h-4zM314 1755h4v4h-4zM274 1763h4v4h-4zM306 1763h4v4h-4zM282 1767h16v4h-16z" fill="#2090c4" fill-opacity="0.831"/><path d="M290 1711h4v4h-4zM274 1715h4v4h-4zM270 1719h4v4h-4zM310 1719h4v4h-4zM266 1723h4v4h-4zM314 1723h4v4h-4zM262 1731h4v4h-4zM318 1731h4v4h-4zM262 1747h4v4h-4zM318 1747h4v4h-4zM266 1755h4v4h-4zM270 1759h4v4h-4zM310 1759h4v4h-4zM302 1763h4v4h-4z" fill="#1f98c4" fill-opacity="0.831"/><path d="M278 1715h4v4h-4zM302 1715h4v4h-4zM262 1735h4v4h-4zM318 1735h4v4h-4zM262 1739h4v4h-4zM318 1739h4v4h-4zM262 1743h4v4h-4zM318 1743h4v4h-4zM314 1751h4v4h-4zM306 1759h4v4h-4zM278 1763h4v4h-4zM298 1763h4v4h-4z" fill="#1fa0c3" fill-opacity="0.831"/><path d="M282 1715h4v4h-4zM298 1715h4v4h-4zM274 1719h4v4h-4zM306 1719h4v4h-4zM266 1727h4v4h-4zM314 1727h4v4h-4zM266 1751h4v4h-4zM270 1755h4v4h-4zM310 1755h4v4h-4zM274 1759h4v4h-4zM282 1763h16v4h-16z" fill="#28a5b5" fill-opacity="0.831"/><path d="M286 1715h12v4h-12zM270 1723h4v4h-4zM310 1723h4v4h-4zM314 1731h4v4h-4zM266 1747h4v4h-4zM314 1747h4v4h-4zM302 1759h4v4h-4z" fill="#30aaa8" fill-opacity="0.831"/><path d="M278 1719h4v4h-4zM302 1719h4v4h-4zM266 1731h4v4h-4zM266 1735h4v4h-4zM314 1735h4v4h-4zM314 1739h4v4h-4zM266 1743h4v4h-4zM314 1743h4v4h-4zM270 1751h4v4h-4zM310 1751h4v4h-4zM306 1755h4v4h-4zM278 1759h4v4h-4z" fill="#39ae9b" fill-opacity="0.831"/><path d="M274 1723h4v4h-4zM306 1723h4v4h-4zM270 1727h4v4h-4zM310 1727h4v4h-4zM266 1739h4v4h-4zM274 1755h4v4h-4zM282 1759h4v4h-4zM298 1759h4v4h-4z" fill="#42b38d" fill-opacity="0.831"/><path d="M282 1719h4v4h-4zM298 1719h4v4h-4zM270 1747h4v4h-4zM310 1747h4v4h-4zM302 1755h4v4h-4zM286 1759h12v4h-12z" fill="#4db781" fill-opacity="0.831"/><path d="M286 1719h12v4h-12zM302 1723h4v4h-4zM270 1731h4v4h-4zM310 1731h4v4h-4zM310 1743h4v4h-4zM274 1751h4v4h-4zM306 1751h4v4h-4zM278 1755h4v4h-4z" fill="#5dbc77" fill-opacity="0.831"/><path d="M278 1723h4v4h-4zM274 1727h4v4h-4zM306 1727h4v4h-4zM270 1735h4v4h-4zM310 1735h4v4h-4zM270 1739h4v4h-4zM310 1739h4v4h-4zM270 1743h4v4h-4zM282 1755h4v4h-4zM298 1755h4v4h-4z" fill="#6dc16d" fill-opacity="0.831"/><path d="M282 1723h4v4h-4zM298 1723h4v4h-4zM274 1747h4v4h-4zM306 1747h4v4h-4zM278 1751h4v4h-4zM302 1751h4v4h-4zM286 1755h4v4h-4zM294 1755h4v4h-4z" fill="#7ec563" fill-opacity="0.831"/><path d="M286 1723h4v4h-4zM294 1723h4v4h-4zM278 1727h4v4h-4zM302 1727h4v4h-4zM274 1731h4v4h-4zM306 1731h4v4h-4zM290 1755h4v4h-4z" fill="#8eca59" fill-opacity="0.831"/><path d="M290 1723h4v4h-4zM274 1735h4v4h-4zM306 1735h4v4h-4zM274 1739h4v4h-4zM306 1739h4v4h-4zM274 1743h4v4h-4zM306 1743h4v4h-4zM282 1751h4v4h-4zM298 1751h4v4h-4z" fill="#9ecb51" fill-opacity="0.831"/><path d="M282 1727h4v4h-4zM298 1727h4v4h-4zM278 1747h4v4h-4zM302 1747h4v4h-4zM286 1751h4v4h-4zM294 1751h4v4h-4z" fill="#aeca4c" fill-opacity="0.831"/><path d="M278 1731h4v4h-4zM302 1731h4v4h-4zM302 1743h4v4h-4zM290 1751h4v4h-4z" fill="#bec848" fill-opacity="0.831"/><path d="M286 1727h12v4h-12zM278 1735h4v4h-4zM302 1735h4v4h-4zM278 1739h4v4h-4zM302 1739h4v4h-4zM278 1743h4v4h-4zM282 1747h4v4h-4zM298 1747h4v4h-4z" fill="#cdc642" fill-opacity="0.831"/><path d="M282 1731h4v4h-4zM298 1731h4v4h-4zM286 1747h4v4h-4zM294 1747h4v4h-4z" fill="#ddc43d" fill-opacity="0.831"/><path d="M286 1731h4v4h-4zM294 1731h4v4h-4zM282 1735h4v4h-4zM298 1735h4v4h-4zM298 1739h4v4h-4zM282 1743h4v4h-4zM298 1743h4v4h-4zM290 1747h4v4h-4z" fill="#e4bc3a" fill-opacity="0.831"/><path d="M290 1731h4v4h-4zM282 1739h4v4h-4zM286 1743h4v4h-4zM294 1743h4v4h-4z" fill="#e6b037" fill-opacity="0.831"/><path d="M286 1735h12v4h-12zM286 1739h4v4h-4zM294 1739h4v4h-4zM290 1743h4v4h-4z" fill="#e9a433" fill-opacity="0.831"/><path d="M290 1739h4v4h-4z" fill="#eb9830" fill-opacity="0.831"/>
</g>
<rect x="109.45" y="1646.3500000000001" width="264.0" height="264.7" fill="none" stroke="#000" stroke-width="4.3"/>
<line x1="209.6" y1="1644.2" x2="209.6" y2="1913.2" stroke="#000" stroke-width="4.2"/>
<line x1="107.3" y1="1774.4" x2="375.6" y2="1774.4" stroke="#000" stroke-width="4.2"/>
<rect x="101.8" y="1669.0" width="5.5" height="3.8" fill="#000"/><rect x="101.8" y="1729.3" width="5.5" height="3.8" fill="#000"/><rect x="101.8" y="1793.7" width="5.5" height="3.8" fill="#000"/><rect x="104.3" y="1711.8478912614619" width="3" height="2.4" fill="#000"/><rect x="104.3" y="1701.2295883404045" width="3" height="2.4" fill="#000"/><rect x="104.3" y="1693.695782522924" width="3" height="2.4" fill="#000"/><rect x="104.3" y="1687.8521087385382" width="3" height="2.4" fill="#000"/><rect x="104.3" y="1683.0774796018663" width="3" height="2.4" fill="#000"/><rect x="104.3" y="1679.0405881871404" width="3" height="2.4" fill="#000"/><rect x="104.3" y="1675.5436737843859" width="3" height="2.4" fill="#000"/><rect x="104.3" y="1672.4591766808087" width="3" height="2.4" fill="#000"/><rect x="104.3" y="1775.0136682792397" width="3" height="2.4" fill="#000"/><rect x="104.3" y="1763.673391196054" width="3" height="2.4" fill="#000"/><rect x="104.3" y="1755.6273365584793" width="3" height="2.4" fill="#000"/><rect x="104.3" y="1749.3863317207604" width="3" height="2.4" fill="#000"/><rect x="104.3" y="1744.2870594752933" width="3" height="2.4" fill="#000"/><rect x="104.3" y="1739.9756862230818" width="3" height="2.4" fill="#000"/><rect x="104.3" y="1736.241004837719" width="3" height="2.4" fill="#000"/><rect x="104.3" y="1732.9467823921075" width="3" height="2.4" fill="#000"/><rect x="104.3" y="1839.4136682792398" width="3" height="2.4" fill="#000"/><rect x="104.3" y="1828.073391196054" width="3" height="2.4" fill="#000"/><rect x="104.3" y="1820.0273365584794" width="3" height="2.4" fill="#000"/><rect x="104.3" y="1813.7863317207605" width="3" height="2.4" fill="#000"/><rect x="104.3" y="1808.6870594752934" width="3" height="2.4" fill="#000"/><rect x="104.3" y="1804.3756862230819" width="3" height="2.4" fill="#000"/><rect x="104.3" y="1800.641004837719" width="3" height="2.4" fill="#000"/><rect x="104.3" y="1797.3467823921076" width="3" height="2.4" fill="#000"/><rect x="101.8" y="1854.3" width="5.5" height="3.8" fill="#000"/><rect x="101.8" y="1873.3" width="5.5" height="3.8" fill="#000"/><rect x="101.8" y="1890.8" width="5.5" height="3.8" fill="#000"/><rect x="104.3" y="1849.0" width="3" height="2.4" fill="#000"/><rect x="104.3" y="1861.0" width="3" height="2.4" fill="#000"/><rect x="104.3" y="1867.0" width="3" height="2.4" fill="#000"/><rect x="104.3" y="1880.0" width="3" height="2.4" fill="#000"/><rect x="104.3" y="1885.0" width="3" height="2.4" fill="#000"/><rect x="104.3" y="1897.0" width="3" height="2.4" fill="#000"/><rect x="104.3" y="1903.0" width="3" height="2.4" fill="#000"/><rect x="221.9" y="1913.2" width="3.8" height="5.5" fill="#000"/><rect x="286.1" y="1913.2" width="3.8" height="5.5" fill="#000"/><rect x="346.3" y="1913.2" width="3.8" height="5.5" fill="#000"/><rect x="177.72612572162762" y="1913.2" width="2.4" height="3" fill="#000"/><rect x="189.03118455300236" y="1913.2" width="2.4" height="3" fill="#000"/><rect x="197.05225144325522" y="1913.2" width="2.4" height="3" fill="#000"/><rect x="203.27387427837243" y="1913.2" width="2.4" height="3" fill="#000"/><rect x="208.35731027462995" y="1913.2" width="2.4" height="3" fill="#000"/><rect x="212.6552941689153" y="1913.2" width="2.4" height="3" fill="#000"/><rect x="216.3783771648828" y="1913.2" width="2.4" height="3" fill="#000"/><rect x="219.6623691060047" y="1913.2" width="2.4" height="3" fill="#000"/><rect x="241.9261257216276" y="1913.2" width="2.4" height="3" fill="#000"/><rect x="253.23118455300235" y="1913.2" width="2.4" height="3" fill="#000"/><rect x="261.2522514432552" y="1913.2" width="2.4" height="3" fill="#000"/><rect x="267.4738742783724" y="1913.2" width="2.4" height="3" fill="#000"/><rect x="272.5573102746299" y="1913.2" width="2.4" height="3" fill="#000"/><rect x="276.8552941689153" y="1913.2" width="2.4" height="3" fill="#000"/><rect x="280.5783771648828" y="1913.2" width="2.4" height="3" fill="#000"/><rect x="283.8623691060047" y="1913.2" width="2.4" height="3" fill="#000"/><rect x="304.9220057389717" y="1913.2" width="2.4" height="3" fill="#000"/><rect x="315.52269953412366" y="1913.2" width="2.4" height="3" fill="#000"/><rect x="323.04401147794334" y="1913.2" width="2.4" height="3" fill="#000"/><rect x="328.87799426102833" y="1913.2" width="2.4" height="3" fill="#000"/><rect x="333.6447052730953" y="1913.2" width="2.4" height="3" fill="#000"/><rect x="337.6749020088583" y="1913.2" width="2.4" height="3" fill="#000"/><rect x="341.166017216915" y="1913.2" width="2.4" height="3" fill="#000"/><rect x="344.24539906824737" y="1913.2" width="2.4" height="3" fill="#000"/><rect x="365.12200573897167" y="1913.2" width="2.4" height="3" fill="#000"/><rect x="125.39999999999999" y="1913.2" width="3.8" height="5.5" fill="#000"/><rect x="142.7" y="1913.2" width="3.8" height="5.5" fill="#000"/><rect x="160.79999999999998" y="1913.2" width="3.8" height="5.5" fill="#000"/><rect x="132.10000000000002" y="1913.2" width="2.4" height="3" fill="#000"/><rect x="137.10000000000002" y="1913.2" width="2.4" height="3" fill="#000"/><rect x="149.4" y="1913.2" width="2.4" height="3" fill="#000"/><rect x="154.4" y="1913.2" width="2.4" height="3" fill="#000"/><rect x="155.5" y="1913.2" width="2.4" height="3" fill="#000"/><rect x="167.5" y="1913.2" width="2.4" height="3" fill="#000"/>
<g filter="url(#speck)">
<path d="M568 1743h44v4h-44zM556 1747h12v4h-12zM608 1747h8v4h-8zM548 1751h12v4h-12zM612 1751h8v4h-8zM536 1755h16v4h-16zM616 1755h8v4h-8zM524 1759h16v4h-16zM616 1759h8v4h-8zM504 1763h28v4h-28zM620 1763h4v4h-4zM476 1767h40v4h-40zM620 1767h4v4h-4zM452 1771h48v4h-48zM620 1771h8v4h-8zM436 1775h32v4h-32zM620 1775h8v4h-8zM424 1779h24v4h-24zM620 1779h8v4h-8zM416 1783h16v4h-16zM620 1783h8v4h-8zM408 1787h16v4h-16zM620 1787h8v4h-8zM400 1791h16v4h-16zM620 1791h8v4h-8zM400 1795h8v4h-8zM616 1795h12v4h-12zM616 1799h8v4h-8zM616 1803h8v4h-8zM612 1807h12v4h-12zM612 1811h8v4h-8zM608 1815h12v4h-12zM604 1819h12v4h-12zM600 1823h12v4h-12zM596 1827h12v4h-12zM592 1831h12v4h-12zM584 1835h16v4h-16zM576 1839h20v4h-20zM572 1843h20v4h-20zM564 1847h24v4h-24zM552 1851h32v4h-32zM540 1855h36v4h-36zM528 1859h44v4h-44zM400 1863h8v4h-8zM512 1863h52v4h-52zM400 1867h20v4h-20zM492 1867h64v4h-64zM404 1871h144v4h-144zM416 1875h120v4h-120zM432 1879h92v4h-92zM472 1883h16v4h-16z" fill="#4354a1" fill-opacity="0.437"/><path d="M568 1747h40v4h-40zM560 1751h12v4h-12zM600 1751h12v4h-12zM552 1755h12v4h-12zM604 1755h12v4h-12zM540 1759h12v4h-12zM608 1759h8v4h-8zM532 1763h12v4h-12zM612 1763h8v4h-8zM516 1767h20v4h-20zM612 1767h8v4h-8zM500 1771h20v4h-20zM612 1771h8v4h-8zM468 1775h40v4h-40zM612 1775h8v4h-8zM448 1779h44v4h-44zM612 1779h8v4h-8zM432 1783h28v4h-28zM612 1783h8v4h-8zM424 1787h16v4h-16zM612 1787h8v4h-8zM416 1791h16v4h-16zM612 1791h8v4h-8zM408 1795h12v4h-12zM608 1795h8v4h-8zM400 1799h16v4h-16zM608 1799h8v4h-8zM400 1803h8v4h-8zM608 1803h8v4h-8zM400 1807h4v4h-4zM604 1807h8v4h-8zM600 1811h12v4h-12zM600 1815h8v4h-8zM596 1819h8v4h-8zM588 1823h12v4h-12zM584 1827h12v4h-12zM580 1831h12v4h-12zM572 1835h12v4h-12zM564 1839h12v4h-12zM552 1843h20v4h-20zM540 1847h24v4h-24zM400 1851h4v4h-4zM524 1851h28v4h-28zM400 1855h12v4h-12zM504 1855h36v4h-36zM400 1859h24v4h-24zM484 1859h44v4h-44zM408 1863h104v4h-104zM420 1867h72v4h-72z" fill="#3d54a4" fill-opacity="0.498"/><path d="M572 1751h28v4h-28zM564 1755h8v4h-8zM596 1755h8v4h-8zM552 1759h8v4h-8zM604 1759h4v4h-4zM544 1763h8v4h-8zM604 1763h8v4h-8zM536 1767h8v4h-8zM604 1767h8v4h-8zM520 1771h12v4h-12zM604 1771h8v4h-8zM508 1775h8v4h-8zM604 1775h8v4h-8zM492 1779h12v4h-12zM604 1779h8v4h-8zM460 1783h28v4h-28zM604 1783h8v4h-8zM440 1787h20v4h-20zM604 1787h8v4h-8zM432 1791h12v4h-12zM604 1791h8v4h-8zM420 1795h12v4h-12zM604 1795h4v4h-4zM416 1799h8v4h-8zM604 1799h4v4h-4zM408 1803h8v4h-8zM600 1803h8v4h-8zM404 1807h8v4h-8zM600 1807h4v4h-4zM400 1811h8v4h-8zM596 1811h4v4h-4zM400 1815h4v4h-4zM592 1815h8v4h-8zM400 1819h4v4h-4zM588 1819h8v4h-8zM584 1823h4v4h-4zM576 1827h8v4h-8zM572 1831h8v4h-8zM564 1835h8v4h-8zM400 1839h4v4h-4zM552 1839h12v4h-12zM400 1843h4v4h-4zM540 1843h12v4h-12zM400 1847h8v4h-8zM520 1847h20v4h-20zM404 1851h12v4h-12zM500 1851h24v4h-24zM412 1855h16v4h-16zM476 1855h28v4h-28zM424 1859h60v4h-60z" fill="#3654a6" fill-opacity="0.542"/><path d="M572 1755h24v4h-24zM560 1759h8v4h-8zM596 1759h8v4h-8zM552 1763h8v4h-8zM600 1763h4v4h-4zM544 1767h4v4h-4zM600 1767h4v4h-4zM532 1771h8v4h-8zM600 1771h4v4h-4zM516 1775h8v4h-8zM600 1775h4v4h-4zM504 1779h8v4h-8zM600 1779h4v4h-4zM488 1783h12v4h-12zM600 1783h4v4h-4zM460 1787h24v4h-24zM600 1787h4v4h-4zM444 1791h12v4h-12zM600 1791h4v4h-4zM432 1795h8v4h-8zM600 1795h4v4h-4zM424 1799h8v4h-8zM600 1799h4v4h-4zM416 1803h8v4h-8zM596 1803h4v4h-4zM412 1807h4v4h-4zM596 1807h4v4h-4zM408 1811h4v4h-4zM592 1811h4v4h-4zM404 1815h8v4h-8zM588 1815h4v4h-4zM404 1819h4v4h-4zM584 1819h4v4h-4zM400 1823h8v4h-8zM580 1823h4v4h-4zM400 1827h4v4h-4zM572 1827h4v4h-4zM400 1831h4v4h-4zM564 1831h8v4h-8zM400 1835h8v4h-8zM556 1835h8v4h-8zM404 1839h4v4h-4zM544 1839h8v4h-8zM404 1843h8v4h-8zM528 1843h12v4h-12zM408 1847h8v4h-8zM504 1847h16v4h-16zM416 1851h12v4h-12zM480 1851h20v4h-20zM428 1855h48v4h-48z" fill="#3054a9" fill-opacity="0.574"/><path d="M568 1759h8v4h-8zM588 1759h8v4h-8zM560 1763h4v4h-4zM596 1763h4v4h-4zM548 1767h8v4h-8zM596 1767h4v4h-4zM540 1771h4v4h-4zM524 1775h8v4h-8zM512 1779h8v4h-8zM596 1779h4v4h-4zM500 1783h8v4h-8zM596 1783h4v4h-4zM484 1787h8v4h-8zM596 1787h4v4h-4zM456 1791h20v4h-20zM596 1791h4v4h-4zM440 1795h12v4h-12zM596 1795h4v4h-4zM432 1799h4v4h-4zM596 1799h4v4h-4zM424 1803h4v4h-4zM416 1807h8v4h-8zM592 1807h4v4h-4zM412 1811h8v4h-8zM588 1811h4v4h-4zM412 1815h4v4h-4zM584 1815h4v4h-4zM408 1819h4v4h-4zM580 1819h4v4h-4zM408 1823h4v4h-4zM576 1823h4v4h-4zM404 1827h4v4h-4zM568 1827h4v4h-4zM404 1831h8v4h-8zM560 1831h4v4h-4zM408 1835h4v4h-4zM552 1835h4v4h-4zM408 1839h8v4h-8zM536 1839h8v4h-8zM412 1843h8v4h-8zM516 1843h12v4h-12zM416 1847h8v4h-8zM488 1847h16v4h-16zM428 1851h16v4h-16zM460 1851h20v4h-20z" fill="#2a54ab" fill-opacity="0.601"/><path d="M576 1759h12v4h-12zM564 1763h4v4h-4zM592 1763h4v4h-4zM556 1767h4v4h-4zM592 1767h4v4h-4zM544 1771h4v4h-4zM596 1771h4v4h-4zM532 1775h4v4h-4zM596 1775h4v4h-4zM520 1779h4v4h-4zM508 1783h4v4h-4zM492 1787h8v4h-8zM476 1791h12v4h-12zM452 1795h12v4h-12zM436 1799h8v4h-8zM592 1799h4v4h-4zM428 1803h8v4h-8zM592 1803h4v4h-4zM424 1807h4v4h-4zM588 1807h4v4h-4zM420 1811h4v4h-4zM416 1815h4v4h-4zM412 1819h4v4h-4zM412 1823h4v4h-4zM572 1823h4v4h-4zM408 1827h4v4h-4zM564 1827h4v4h-4zM412 1831h4v4h-4zM556 1831h4v4h-4zM412 1835h4v4h-4zM544 1835h8v4h-8zM416 1839h4v4h-4zM528 1839h8v4h-8zM420 1843h4v4h-4zM500 1843h16v4h-16zM424 1847h12v4h-12zM472 1847h16v4h-16zM444 1851h16v4h-16z" fill="#2759b0" fill-opacity="0.626"/><path d="M568 1763h24v4h-24zM560 1767h4v4h-4zM588 1767h4v4h-4zM548 1771h8v4h-8zM592 1771h4v4h-4zM536 1775h8v4h-8zM592 1775h4v4h-4zM524 1779h4v4h-4zM592 1779h4v4h-4zM512 1783h4v4h-4zM592 1783h4v4h-4zM500 1787h4v4h-4zM592 1787h4v4h-4zM488 1791h4v4h-4zM592 1791h4v4h-4zM464 1795h12v4h-12zM592 1795h4v4h-4zM444 1799h8v4h-8zM436 1803h4v4h-4zM588 1803h4v4h-4zM428 1807h4v4h-4zM424 1811h4v4h-4zM584 1811h4v4h-4zM420 1815h4v4h-4zM580 1815h4v4h-4zM416 1819h4v4h-4zM576 1819h4v4h-4zM416 1823h4v4h-4zM568 1823h4v4h-4zM412 1827h4v4h-4zM560 1827h4v4h-4zM416 1831h4v4h-4zM552 1831h4v4h-4zM416 1835h4v4h-4zM540 1835h4v4h-4zM420 1839h4v4h-4zM520 1839h8v4h-8zM424 1843h8v4h-8zM484 1843h16v4h-16zM436 1847h36v4h-36z" fill="#2761b4" fill-opacity="0.653"/><path d="M564 1767h8v4h-8zM584 1767h4v4h-4zM556 1771h4v4h-4zM588 1771h4v4h-4zM544 1775h4v4h-4zM588 1775h4v4h-4zM528 1779h4v4h-4zM588 1779h4v4h-4zM516 1783h4v4h-4zM588 1783h4v4h-4zM504 1787h4v4h-4zM588 1787h4v4h-4zM492 1791h4v4h-4zM476 1795h8v4h-8zM588 1795h4v4h-4zM452 1799h12v4h-12zM588 1799h4v4h-4zM440 1803h8v4h-8zM432 1807h4v4h-4zM584 1807h4v4h-4zM428 1811h4v4h-4zM424 1815h4v4h-4zM420 1819h4v4h-4zM572 1819h4v4h-4zM416 1827h4v4h-4zM420 1831h4v4h-4zM548 1831h4v4h-4zM420 1835h4v4h-4zM536 1835h4v4h-4zM424 1839h4v4h-4zM504 1839h16v4h-16zM432 1843h8v4h-8zM472 1843h12v4h-12z" fill="#2668ba" fill-opacity="0.681"/><path d="M572 1767h12v4h-12zM560 1771h4v4h-4zM584 1771h4v4h-4zM548 1775h4v4h-4zM584 1775h4v4h-4zM532 1779h4v4h-4zM520 1783h4v4h-4zM508 1787h4v4h-4zM496 1791h4v4h-4zM588 1791h4v4h-4zM484 1795h8v4h-8zM464 1799h12v4h-12zM448 1803h4v4h-4zM584 1803h4v4h-4zM436 1807h4v4h-4zM432 1811h4v4h-4zM580 1811h4v4h-4zM428 1815h4v4h-4zM576 1815h4v4h-4zM424 1819h4v4h-4zM420 1823h4v4h-4zM564 1823h4v4h-4zM420 1827h4v4h-4zM556 1827h4v4h-4zM544 1831h4v4h-4zM424 1835h4v4h-4zM528 1835h8v4h-8zM428 1839h8v4h-8zM488 1839h16v4h-16zM440 1843h32v4h-32z" fill="#2570be" fill-opacity="0.708"/><path d="M564 1771h20v4h-20zM552 1775h4v4h-4zM580 1775h4v4h-4zM536 1779h4v4h-4zM584 1779h4v4h-4zM584 1783h4v4h-4zM512 1787h4v4h-4zM584 1787h4v4h-4zM500 1791h4v4h-4zM584 1791h4v4h-4zM492 1795h4v4h-4zM584 1795h4v4h-4zM476 1799h8v4h-8zM584 1799h4v4h-4zM452 1803h8v4h-8zM440 1807h8v4h-8zM580 1807h4v4h-4zM436 1811h4v4h-4zM428 1819h4v4h-4zM568 1819h4v4h-4zM424 1823h4v4h-4zM424 1827h4v4h-4zM552 1827h4v4h-4zM424 1831h4v4h-4zM540 1831h4v4h-4zM428 1835h4v4h-4zM520 1835h8v4h-8zM436 1839h8v4h-8zM476 1839h12v4h-12z" fill="#2477c4" fill-opacity="0.735"/><path d="M556 1775h4v4h-4zM576 1775h4v4h-4zM540 1779h4v4h-4zM580 1779h4v4h-4zM524 1783h4v4h-4zM504 1791h4v4h-4zM484 1799h4v4h-4zM460 1803h12v4h-12zM448 1807h4v4h-4zM440 1811h4v4h-4zM576 1811h4v4h-4zM432 1815h4v4h-4zM572 1815h4v4h-4zM428 1823h4v4h-4zM560 1823h4v4h-4zM428 1827h4v4h-4zM428 1831h4v4h-4zM536 1831h4v4h-4zM432 1835h8v4h-8zM500 1835h20v4h-20zM444 1839h32v4h-32z" fill="#2380c4" fill-opacity="0.767"/><path d="M560 1775h16v4h-16zM544 1779h4v4h-4zM576 1779h4v4h-4zM528 1783h4v4h-4zM580 1783h4v4h-4zM516 1787h4v4h-4zM580 1787h4v4h-4zM496 1795h4v4h-4zM488 1799h4v4h-4zM580 1799h4v4h-4zM472 1803h8v4h-8zM580 1803h4v4h-4zM452 1807h8v4h-8zM444 1811h4v4h-4zM436 1815h4v4h-4zM432 1819h4v4h-4zM564 1819h4v4h-4zM432 1823h4v4h-4zM556 1823h4v4h-4zM432 1827h4v4h-4zM548 1827h4v4h-4zM432 1831h4v4h-4zM532 1831h4v4h-4zM440 1835h4v4h-4zM480 1835h20v4h-20z" fill="#2288c4" fill-opacity="0.815"/><path d="M548 1779h8v4h-8zM572 1779h4v4h-4zM532 1783h4v4h-4zM576 1783h4v4h-4zM520 1787h4v4h-4zM508 1791h4v4h-4zM580 1791h4v4h-4zM500 1795h4v4h-4zM580 1795h4v4h-4zM492 1799h4v4h-4zM480 1803h4v4h-4zM460 1807h8v4h-8zM576 1807h4v4h-4zM448 1811h4v4h-4zM572 1811h4v4h-4zM440 1815h4v4h-4zM568 1815h4v4h-4zM436 1819h4v4h-4zM436 1823h4v4h-4zM436 1827h4v4h-4zM544 1827h4v4h-4zM436 1831h8v4h-8zM528 1831h4v4h-4zM444 1835h36v4h-36z" fill="#2090c4" fill-opacity="0.831"/><path d="M556 1779h16v4h-16zM536 1783h4v4h-4zM576 1787h4v4h-4zM512 1791h4v4h-4zM484 1803h4v4h-4zM576 1803h4v4h-4zM468 1807h8v4h-8zM452 1811h8v4h-8zM444 1815h8v4h-8zM440 1819h4v4h-4zM560 1819h4v4h-4zM440 1823h4v4h-4zM552 1823h4v4h-4zM440 1827h4v4h-4zM444 1831h4v4h-4zM484 1831h8v4h-8zM520 1831h8v4h-8z" fill="#1f98c4" fill-opacity="0.831"/><path d="M540 1783h4v4h-4zM572 1783h4v4h-4zM524 1787h4v4h-4zM576 1791h4v4h-4zM504 1795h4v4h-4zM576 1795h4v4h-4zM496 1799h4v4h-4zM576 1799h4v4h-4zM488 1803h4v4h-4zM476 1807h8v4h-8zM572 1807h4v4h-4zM460 1811h8v4h-8zM452 1815h4v4h-4zM564 1815h4v4h-4zM444 1819h4v4h-4zM444 1823h4v4h-4zM444 1827h4v4h-4zM540 1827h4v4h-4zM448 1831h36v4h-36zM492 1831h28v4h-28z" fill="#1fa0c3" fill-opacity="0.831"/><path d="M544 1783h4v4h-4zM568 1783h4v4h-4zM572 1787h4v4h-4zM516 1791h4v4h-4zM492 1803h4v4h-4zM484 1807h4v4h-4zM468 1811h12v4h-12zM568 1811h4v4h-4zM456 1815h8v4h-8zM448 1819h8v4h-8zM448 1823h8v4h-8zM548 1823h4v4h-4zM448 1827h12v4h-12zM536 1827h4v4h-4z" fill="#28a5b5" fill-opacity="0.831"/><path d="M548 1783h20v4h-20zM528 1787h4v4h-4zM572 1791h4v4h-4zM508 1795h4v4h-4zM500 1799h4v4h-4zM572 1803h4v4h-4zM488 1807h4v4h-4zM480 1811h4v4h-4zM464 1815h12v4h-12zM456 1819h12v4h-12zM556 1819h4v4h-4zM456 1823h12v4h-12zM460 1827h36v4h-36zM532 1827h4v4h-4z" fill="#30aaa8" fill-opacity="0.831"/><path d="M532 1787h4v4h-4zM568 1787h4v4h-4zM520 1791h4v4h-4zM572 1795h4v4h-4zM572 1799h4v4h-4zM496 1803h4v4h-4zM568 1807h4v4h-4zM484 1811h4v4h-4zM476 1815h8v4h-8zM560 1815h4v4h-4zM468 1819h12v4h-12zM468 1823h20v4h-20zM544 1823h4v4h-4zM496 1827h8v4h-8zM528 1827h4v4h-4z" fill="#39ae9b" fill-opacity="0.831"/><path d="M536 1787h4v4h-4zM564 1787h4v4h-4zM568 1791h4v4h-4zM512 1795h4v4h-4zM504 1799h4v4h-4zM492 1807h4v4h-4zM488 1811h4v4h-4zM564 1811h4v4h-4zM484 1815h4v4h-4zM480 1819h8v4h-8zM552 1819h4v4h-4zM488 1823h4v4h-4zM504 1827h24v4h-24z" fill="#42b38d" fill-opacity="0.831"/><path d="M540 1787h4v4h-4zM560 1787h4v4h-4zM524 1791h4v4h-4zM500 1803h4v4h-4zM568 1803h4v4h-4zM488 1815h4v4h-4zM488 1819h4v4h-4zM492 1823h8v4h-8zM540 1823h4v4h-4z" fill="#4db781" fill-opacity="0.831"/><path d="M544 1787h16v4h-16zM564 1791h4v4h-4zM516 1795h4v4h-4zM568 1795h4v4h-4zM508 1799h4v4h-4zM568 1799h4v4h-4zM496 1807h4v4h-4zM492 1811h4v4h-4zM556 1815h4v4h-4zM492 1819h4v4h-4zM548 1819h4v4h-4zM500 1823h4v4h-4z" fill="#5dbc77" fill-opacity="0.831"/><path d="M528 1791h4v4h-4zM504 1803h4v4h-4zM564 1807h4v4h-4zM560 1811h4v4h-4zM492 1815h4v4h-4zM496 1819h4v4h-4zM504 1823h4v4h-4zM536 1823h4v4h-4z" fill="#6dc16d" fill-opacity="0.831"/><path d="M560 1791h4v4h-4zM564 1795h4v4h-4zM564 1803h4v4h-4zM500 1807h4v4h-4zM496 1811h4v4h-4zM496 1815h4v4h-4zM508 1823h4v4h-4zM532 1823h4v4h-4z" fill="#7ec563" fill-opacity="0.831"/><path d="M532 1791h4v4h-4zM520 1795h4v4h-4zM512 1799h4v4h-4zM564 1799h4v4h-4zM552 1815h4v4h-4zM500 1819h4v4h-4zM544 1819h4v4h-4zM512 1823h20v4h-20z" fill="#8eca59" fill-opacity="0.831"/><path d="M536 1791h4v4h-4zM556 1791h4v4h-4zM508 1803h4v4h-4zM504 1807h4v4h-4zM560 1807h4v4h-4zM500 1811h4v4h-4zM556 1811h4v4h-4zM500 1815h4v4h-4zM504 1819h4v4h-4z" fill="#9ecb51" fill-opacity="0.831"/><path d="M540 1791h16v4h-16zM524 1795h4v4h-4zM560 1795h4v4h-4zM516 1799h4v4h-4zM508 1819h4v4h-4zM540 1819h4v4h-4z" fill="#aeca4c" fill-opacity="0.831"/><path d="M560 1799h4v4h-4zM560 1803h4v4h-4zM504 1811h4v4h-4zM504 1815h4v4h-4zM548 1815h4v4h-4zM536 1819h4v4h-4z" fill="#bec848" fill-opacity="0.831"/><path d="M528 1795h4v4h-4zM556 1795h4v4h-4zM512 1803h4v4h-4zM508 1807h4v4h-4zM556 1807h4v4h-4zM552 1811h4v4h-4zM512 1819h4v4h-4z" fill="#cdc642" fill-opacity="0.831"/><path d="M532 1795h4v4h-4zM552 1795h4v4h-4zM520 1799h4v4h-4zM556 1799h4v4h-4zM508 1811h4v4h-4zM508 1815h4v4h-4zM544 1815h4v4h-4zM516 1819h8v4h-8zM528 1819h8v4h-8z" fill="#ddc43d" fill-opacity="0.831"/><path d="M536 1795h4v4h-4zM548 1795h4v4h-4zM516 1803h4v4h-4zM556 1803h4v4h-4zM512 1807h4v4h-4zM512 1815h4v4h-4zM524 1819h4v4h-4z" fill="#e4bc3a" fill-opacity="0.831"/><path d="M540 1795h8v4h-8zM524 1799h4v4h-4zM552 1807h4v4h-4zM512 1811h4v4h-4zM548 1811h4v4h-4zM540 1815h4v4h-4z" fill="#e6b037" fill-opacity="0.831"/><path d="M552 1799h4v4h-4zM552 1803h4v4h-4zM516 1815h4v4h-4z" fill="#e9a433" fill-opacity="0.831"/><path d="M528 1799h4v4h-4zM520 1803h4v4h-4zM516 1807h4v4h-4zM516 1811h4v4h-4zM544 1811h4v4h-4zM520 1815h4v4h-4zM536 1815h4v4h-4z" fill="#eb9830" fill-opacity="0.831"/><path d="M532 1799h4v4h-4zM548 1799h4v4h-4zM548 1807h4v4h-4zM524 1815h12v4h-12z" fill="#ee8d2d" fill-opacity="0.831"/><path d="M536 1799h12v4h-12zM524 1803h4v4h-4zM548 1803h4v4h-4zM520 1807h4v4h-4zM520 1811h4v4h-4zM540 1811h4v4h-4z" fill="#f0812a" fill-opacity="0.831"/><path d="M528 1803h4v4h-4zM544 1803h4v4h-4zM544 1807h4v4h-4zM524 1811h4v4h-4zM536 1811h4v4h-4z" fill="#ed7328" fill-opacity="0.831"/><path d="M532 1803h4v4h-4zM540 1803h4v4h-4zM524 1807h4v4h-4zM540 1807h4v4h-4zM528 1811h8v4h-8z" fill="#eb6526" fill-opacity="0.831"/><path d="M536 1803h4v4h-4zM528 1807h4v4h-4zM536 1807h4v4h-4z" fill="#e85723" fill-opacity="0.831"/><path d="M532 1807h4v4h-4z" fill="#e64921" fill-opacity="0.831"/>
</g>
<rect x="399.95" y="1646.5500000000002" width="264.29999999999995" height="263.59999999999985" fill="none" stroke="#000" stroke-width="4.3"/>
<line x1="500.0" y1="1644.4" x2="500.0" y2="1912.3" stroke="#000" stroke-width="4.2"/>
<line x1="397.8" y1="1775.8" x2="666.4" y2="1775.8" stroke="#000" stroke-width="4.2"/>
<rect x="392.3" y="1669.2" width="5.5" height="3.8" fill="#000"/><rect x="392.3" y="1729.5" width="5.5" height="3.8" fill="#000"/><rect x="392.3" y="1793.9" width="5.5" height="3.8" fill="#000"/><rect x="394.8" y="1712.047891261462" width="3" height="2.4" fill="#000"/><rect x="394.8" y="1701.4295883404045" width="3" height="2.4" fill="#000"/><rect x="394.8" y="1693.895782522924" width="3" height="2.4" fill="#000"/><rect x="394.8" y="1688.0521087385382" width="3" height="2.4" fill="#000"/><rect x="394.8" y="1683.2774796018664" width="3" height="2.4" fill="#000"/><rect x="394.8" y="1679.2405881871405" width="3" height="2.4" fill="#000"/><rect x="394.8" y="1675.743673784386" width="3" height="2.4" fill="#000"/><rect x="394.8" y="1672.6591766808087" width="3" height="2.4" fill="#000"/><rect x="394.8" y="1775.2136682792398" width="3" height="2.4" fill="#000"/><rect x="394.8" y="1763.8733911960537" width="3" height="2.4" fill="#000"/><rect x="394.8" y="1755.8273365584794" width="3" height="2.4" fill="#000"/><rect x="394.8" y="1749.5863317207604" width="3" height="2.4" fill="#000"/><rect x="394.8" y="1744.4870594752933" width="3" height="2.4" fill="#000"/><rect x="394.8" y="1740.1756862230818" width="3" height="2.4" fill="#000"/><rect x="394.8" y="1736.441004837719" width="3" height="2.4" fill="#000"/><rect x="394.8" y="1733.1467823921075" width="3" height="2.4" fill="#000"/><rect x="394.8" y="1839.6136682792398" width="3" height="2.4" fill="#000"/><rect x="394.8" y="1828.2733911960538" width="3" height="2.4" fill="#000"/><rect x="394.8" y="1820.2273365584795" width="3" height="2.4" fill="#000"/><rect x="394.8" y="1813.9863317207605" width="3" height="2.4" fill="#000"/><rect x="394.8" y="1808.8870594752934" width="3" height="2.4" fill="#000"/><rect x="394.8" y="1804.575686223082" width="3" height="2.4" fill="#000"/><rect x="394.8" y="1800.841004837719" width="3" height="2.4" fill="#000"/><rect x="394.8" y="1797.5467823921076" width="3" height="2.4" fill="#000"/><rect x="392.3" y="1854.5" width="5.5" height="3.8" fill="#000"/><rect x="392.3" y="1873.5" width="5.5" height="3.8" fill="#000"/><rect x="392.3" y="1891.0" width="5.5" height="3.8" fill="#000"/><rect x="394.8" y="1849.2" width="3" height="2.4" fill="#000"/><rect x="394.8" y="1861.2" width="3" height="2.4" fill="#000"/><rect x="394.8" y="1867.2" width="3" height="2.4" fill="#000"/><rect x="394.8" y="1880.2" width="3" height="2.4" fill="#000"/><rect x="394.8" y="1885.2" width="3" height="2.4" fill="#000"/><rect x="394.8" y="1897.2" width="3" height="2.4" fill="#000"/><rect x="394.8" y="1903.2" width="3" height="2.4" fill="#000"/><rect x="512.4" y="1912.3" width="3.8" height="5.5" fill="#000"/><rect x="576.6" y="1912.3" width="3.8" height="5.5" fill="#000"/><rect x="636.8000000000001" y="1912.3" width="3.8" height="5.5" fill="#000"/><rect x="468.2261257216275" y="1912.3" width="2.4" height="3" fill="#000"/><rect x="479.5311845530023" y="1912.3" width="2.4" height="3" fill="#000"/><rect x="487.5522514432551" y="1912.3" width="2.4" height="3" fill="#000"/><rect x="493.7738742783724" y="1912.3" width="2.4" height="3" fill="#000"/><rect x="498.85731027462987" y="1912.3" width="2.4" height="3" fill="#000"/><rect x="503.15529416891525" y="1912.3" width="2.4" height="3" fill="#000"/><rect x="506.87837716488275" y="1912.3" width="2.4" height="3" fill="#000"/><rect x="510.16236910600463" y="1912.3" width="2.4" height="3" fill="#000"/><rect x="532.4261257216275" y="1912.3" width="2.4" height="3" fill="#000"/><rect x="543.7311845530022" y="1912.3" width="2.4" height="3" fill="#000"/><rect x="551.7522514432551" y="1912.3" width="2.4" height="3" fill="#000"/><rect x="557.9738742783724" y="1912.3" width="2.4" height="3" fill="#000"/><rect x="563.0573102746299" y="1912.3" width="2.4" height="3" fill="#000"/><rect x="567.3552941689152" y="1912.3" width="2.4" height="3" fill="#000"/><rect x="571.0783771648827" y="1912.3" width="2.4" height="3" fill="#000"/><rect x="574.3623691060046" y="1912.3" width="2.4" height="3" fill="#000"/><rect x="595.4220057389716" y="1912.3" width="2.4" height="3" fill="#000"/><rect x="606.0226995341236" y="1912.3" width="2.4" height="3" fill="#000"/><rect x="613.5440114779433" y="1912.3" width="2.4" height="3" fill="#000"/><rect x="619.3779942610283" y="1912.3" width="2.4" height="3" fill="#000"/><rect x="624.1447052730954" y="1912.3" width="2.4" height="3" fill="#000"/><rect x="628.1749020088582" y="1912.3" width="2.4" height="3" fill="#000"/><rect x="631.666017216915" y="1912.3" width="2.4" height="3" fill="#000"/><rect x="634.7453990682474" y="1912.3" width="2.4" height="3" fill="#000"/><rect x="655.6220057389717" y="1912.3" width="2.4" height="3" fill="#000"/><rect x="415.90000000000003" y="1912.3" width="3.8" height="5.5" fill="#000"/><rect x="433.20000000000005" y="1912.3" width="3.8" height="5.5" fill="#000"/><rect x="451.3" y="1912.3" width="3.8" height="5.5" fill="#000"/><rect x="422.6" y="1912.3" width="2.4" height="3" fill="#000"/><rect x="427.6" y="1912.3" width="2.4" height="3" fill="#000"/><rect x="439.90000000000003" y="1912.3" width="2.4" height="3" fill="#000"/><rect x="444.90000000000003" y="1912.3" width="2.4" height="3" fill="#000"/><rect x="446.0" y="1912.3" width="2.4" height="3" fill="#000"/><rect x="458.0" y="1912.3" width="2.4" height="3" fill="#000"/>
<g filter="url(#speck)">
<path d="M880 1725h24v4h-24zM864 1729h48v4h-48zM852 1733h16v4h-16zM904 1733h12v4h-12zM844 1737h12v4h-12zM908 1737h8v4h-8zM836 1741h12v4h-12zM908 1741h8v4h-8zM828 1745h12v4h-12zM908 1745h8v4h-8zM820 1749h12v4h-12zM908 1749h8v4h-8zM808 1753h20v4h-20zM908 1753h4v4h-4zM796 1757h24v4h-24zM904 1757h8v4h-8zM788 1761h20v4h-20zM900 1761h8v4h-8zM784 1765h12v4h-12zM900 1765h4v4h-4zM776 1769h12v4h-12zM896 1769h4v4h-4zM772 1773h12v4h-12zM888 1773h8v4h-8zM768 1777h12v4h-12zM884 1777h8v4h-8zM764 1781h12v4h-12zM880 1781h8v4h-8zM760 1785h12v4h-12zM872 1785h12v4h-12zM756 1789h12v4h-12zM868 1789h8v4h-8zM756 1793h8v4h-8zM860 1793h12v4h-12zM752 1797h8v4h-8zM856 1797h12v4h-12zM748 1801h12v4h-12zM852 1801h12v4h-12zM744 1805h12v4h-12zM848 1805h12v4h-12zM744 1809h8v4h-8zM848 1809h8v4h-8zM740 1813h12v4h-12zM844 1813h12v4h-12zM740 1817h8v4h-8zM844 1817h8v4h-8zM740 1821h8v4h-8zM840 1821h8v4h-8zM736 1825h12v4h-12zM836 1825h8v4h-8zM736 1829h12v4h-12zM832 1829h12v4h-12zM740 1833h8v4h-8zM828 1833h12v4h-12zM740 1837h8v4h-8zM824 1837h12v4h-12zM740 1841h12v4h-12zM820 1841h12v4h-12zM744 1845h12v4h-12zM812 1845h12v4h-12zM748 1849h12v4h-12zM808 1849h12v4h-12zM752 1853h16v4h-16zM796 1853h20v4h-20zM760 1857h48v4h-48zM768 1861h28v4h-28z" fill="#4354a1" fill-opacity="0.437"/><path d="M868 1733h36v4h-36zM856 1737h20v4h-20zM892 1737h16v4h-16zM848 1741h12v4h-12zM896 1741h12v4h-12zM840 1745h12v4h-12zM900 1745h8v4h-8zM832 1749h12v4h-12zM900 1749h8v4h-8zM828 1753h12v4h-12zM900 1753h8v4h-8zM820 1757h12v4h-12zM896 1757h8v4h-8zM808 1761h20v4h-20zM892 1761h8v4h-8zM796 1765h20v4h-20zM892 1765h8v4h-8zM788 1769h12v4h-12zM888 1769h8v4h-8zM784 1773h8v4h-8zM880 1773h8v4h-8zM780 1777h8v4h-8zM876 1777h8v4h-8zM776 1781h4v4h-4zM868 1781h12v4h-12zM772 1785h4v4h-4zM860 1785h12v4h-12zM768 1789h8v4h-8zM856 1789h12v4h-12zM764 1793h8v4h-8zM848 1793h12v4h-12zM760 1797h8v4h-8zM848 1797h8v4h-8zM760 1801h8v4h-8zM844 1801h8v4h-8zM756 1805h8v4h-8zM844 1805h4v4h-4zM752 1809h12v4h-12zM840 1809h8v4h-8zM752 1813h8v4h-8zM840 1813h4v4h-4zM748 1817h12v4h-12zM836 1817h8v4h-8zM748 1821h12v4h-12zM832 1821h8v4h-8zM748 1825h8v4h-8zM828 1825h8v4h-8zM748 1829h12v4h-12zM824 1829h8v4h-8zM748 1833h12v4h-12zM820 1833h8v4h-8zM748 1837h12v4h-12zM812 1837h12v4h-12zM752 1841h12v4h-12zM804 1841h16v4h-16zM756 1845h16v4h-16zM796 1845h16v4h-16zM760 1849h48v4h-48zM768 1853h28v4h-28z" fill="#3d54a4" fill-opacity="0.498"/><path d="M876 1737h16v4h-16zM860 1741h16v4h-16zM884 1741h12v4h-12zM852 1745h8v4h-8zM892 1745h8v4h-8zM844 1749h8v4h-8zM892 1749h8v4h-8zM840 1753h4v4h-4zM892 1753h8v4h-8zM832 1757h8v4h-8zM892 1757h4v4h-4zM828 1761h8v4h-8zM888 1761h4v4h-4zM816 1765h12v4h-12zM884 1765h8v4h-8zM800 1769h12v4h-12zM880 1769h8v4h-8zM792 1773h8v4h-8zM876 1773h4v4h-4zM788 1777h4v4h-4zM868 1777h8v4h-8zM780 1781h4v4h-4zM860 1781h8v4h-8zM776 1785h4v4h-4zM852 1785h8v4h-8zM776 1789h4v4h-4zM848 1789h8v4h-8zM772 1793h4v4h-4zM844 1793h4v4h-4zM768 1797h4v4h-4zM844 1797h4v4h-4zM768 1801h4v4h-4zM840 1801h4v4h-4zM764 1805h8v4h-8zM840 1805h4v4h-4zM764 1809h4v4h-4zM836 1809h4v4h-4zM760 1813h8v4h-8zM836 1813h4v4h-4zM760 1817h8v4h-8zM832 1817h4v4h-4zM760 1821h4v4h-4zM828 1821h4v4h-4zM756 1825h8v4h-8zM824 1825h4v4h-4zM760 1829h8v4h-8zM820 1829h4v4h-4zM760 1833h8v4h-8zM812 1833h8v4h-8zM760 1837h12v4h-12zM804 1837h8v4h-8zM764 1841h40v4h-40zM772 1845h24v4h-24z" fill="#3654a6" fill-opacity="0.542"/><path d="M876 1741h8v4h-8zM860 1745h12v4h-12zM880 1745h12v4h-12zM852 1749h8v4h-8zM888 1749h4v4h-4zM844 1753h8v4h-8zM888 1753h4v4h-4zM840 1757h4v4h-4zM888 1757h4v4h-4zM836 1761h4v4h-4zM884 1761h4v4h-4zM828 1765h8v4h-8zM880 1765h4v4h-4zM812 1769h16v4h-16zM876 1769h4v4h-4zM800 1773h4v4h-4zM868 1773h8v4h-8zM792 1777h4v4h-4zM864 1777h4v4h-4zM784 1781h4v4h-4zM852 1781h8v4h-8zM780 1785h4v4h-4zM844 1785h8v4h-8zM844 1789h4v4h-4zM776 1793h4v4h-4zM840 1793h4v4h-4zM772 1797h4v4h-4zM840 1797h4v4h-4zM772 1801h4v4h-4zM836 1805h4v4h-4zM768 1809h4v4h-4zM768 1813h4v4h-4zM832 1813h4v4h-4zM768 1817h4v4h-4zM828 1817h4v4h-4zM764 1821h8v4h-8zM824 1821h4v4h-4zM764 1825h8v4h-8zM820 1825h4v4h-4zM768 1829h4v4h-4zM812 1829h8v4h-8zM768 1833h8v4h-8zM804 1833h8v4h-8zM772 1837h32v4h-32z" fill="#3054a9" fill-opacity="0.574"/><path d="M872 1745h8v4h-8zM860 1749h8v4h-8zM876 1749h12v4h-12zM852 1753h4v4h-4zM880 1753h8v4h-8zM844 1757h4v4h-4zM880 1757h8v4h-8zM840 1761h4v4h-4zM880 1761h4v4h-4zM836 1765h4v4h-4zM876 1765h4v4h-4zM828 1769h8v4h-8zM872 1769h4v4h-4zM804 1773h12v4h-12zM864 1773h4v4h-4zM796 1777h4v4h-4zM852 1777h12v4h-12zM788 1781h4v4h-4zM844 1781h8v4h-8zM784 1785h4v4h-4zM840 1785h4v4h-4zM780 1789h4v4h-4zM840 1789h4v4h-4zM776 1797h4v4h-4zM836 1797h4v4h-4zM836 1801h4v4h-4zM772 1805h4v4h-4zM772 1809h4v4h-4zM832 1809h4v4h-4zM772 1813h4v4h-4zM772 1817h4v4h-4zM772 1821h4v4h-4zM772 1825h4v4h-4zM816 1825h4v4h-4zM772 1829h8v4h-8zM808 1829h4v4h-4zM776 1833h28v4h-28z" fill="#2a54ab" fill-opacity="0.601"/><path d="M868 1749h8v4h-8zM856 1753h8v4h-8zM872 1753h8v4h-8zM848 1757h8v4h-8zM876 1757h4v4h-4zM844 1761h8v4h-8zM876 1761h4v4h-4zM840 1765h8v4h-8zM872 1765h4v4h-4zM836 1769h8v4h-8zM864 1769h8v4h-8zM816 1773h28v4h-28zM856 1773h8v4h-8zM800 1777h4v4h-4zM832 1777h20v4h-20zM792 1781h4v4h-4zM836 1781h8v4h-8zM836 1785h4v4h-4zM836 1789h4v4h-4zM780 1793h4v4h-4zM836 1793h4v4h-4zM776 1801h4v4h-4zM832 1805h4v4h-4zM828 1813h4v4h-4zM824 1817h4v4h-4zM776 1821h4v4h-4zM820 1821h4v4h-4zM776 1825h4v4h-4zM812 1825h4v4h-4zM780 1829h8v4h-8zM800 1829h8v4h-8z" fill="#2759b0" fill-opacity="0.626"/><path d="M864 1753h8v4h-8zM856 1757h20v4h-20zM852 1761h4v4h-4zM868 1761h8v4h-8zM848 1765h8v4h-8zM864 1765h8v4h-8zM844 1769h20v4h-20zM844 1773h12v4h-12zM804 1777h4v4h-4zM824 1777h8v4h-8zM832 1781h4v4h-4zM788 1785h4v4h-4zM832 1785h4v4h-4zM784 1789h4v4h-4zM832 1801h4v4h-4zM776 1805h4v4h-4zM776 1809h4v4h-4zM828 1809h4v4h-4zM776 1813h4v4h-4zM776 1817h4v4h-4zM816 1821h4v4h-4zM780 1825h4v4h-4zM788 1829h12v4h-12z" fill="#2761b4" fill-opacity="0.653"/><path d="M856 1761h12v4h-12zM856 1765h8v4h-8zM808 1777h16v4h-16zM796 1781h4v4h-4zM828 1781h4v4h-4zM832 1789h4v4h-4zM832 1793h4v4h-4zM780 1797h4v4h-4zM832 1797h4v4h-4zM824 1813h4v4h-4zM780 1817h4v4h-4zM820 1817h4v4h-4zM780 1821h4v4h-4zM784 1825h8v4h-8zM804 1825h8v4h-8z" fill="#2668ba" fill-opacity="0.681"/><path d="M800 1781h4v4h-4zM824 1781h4v4h-4zM792 1785h4v4h-4zM828 1785h4v4h-4zM788 1789h4v4h-4zM784 1793h4v4h-4zM780 1801h4v4h-4zM780 1805h4v4h-4zM828 1805h4v4h-4zM780 1813h4v4h-4zM784 1821h4v4h-4zM812 1821h4v4h-4zM792 1825h12v4h-12z" fill="#2570be" fill-opacity="0.708"/><path d="M820 1781h4v4h-4zM828 1789h4v4h-4zM828 1801h4v4h-4zM780 1809h4v4h-4zM824 1809h4v4h-4zM784 1817h4v4h-4zM788 1821h4v4h-4z" fill="#2477c4" fill-opacity="0.735"/><path d="M804 1781h16v4h-16zM796 1785h4v4h-4zM824 1785h4v4h-4zM828 1793h4v4h-4zM784 1797h4v4h-4zM828 1797h4v4h-4zM820 1813h4v4h-4zM816 1817h4v4h-4zM792 1821h4v4h-4zM808 1821h4v4h-4z" fill="#2380c4" fill-opacity="0.767"/><path d="M792 1789h4v4h-4zM788 1793h4v4h-4zM784 1801h4v4h-4zM824 1805h4v4h-4zM784 1813h4v4h-4zM796 1821h12v4h-12z" fill="#2288c4" fill-opacity="0.815"/><path d="M800 1785h4v4h-4zM820 1785h4v4h-4zM824 1789h4v4h-4zM784 1805h4v4h-4zM784 1809h4v4h-4zM788 1817h4v4h-4zM812 1817h4v4h-4z" fill="#2090c4" fill-opacity="0.831"/><path d="M816 1785h4v4h-4zM824 1793h4v4h-4zM824 1797h4v4h-4zM824 1801h4v4h-4zM820 1809h4v4h-4zM816 1813h4v4h-4zM792 1817h4v4h-4z" fill="#1f98c4" fill-opacity="0.831"/><path d="M804 1785h4v4h-4zM812 1785h4v4h-4zM796 1789h4v4h-4zM820 1789h4v4h-4zM788 1797h4v4h-4zM788 1813h4v4h-4zM808 1817h4v4h-4z" fill="#1fa0c3" fill-opacity="0.831"/><path d="M808 1785h4v4h-4zM792 1793h4v4h-4zM788 1801h4v4h-4zM820 1805h4v4h-4zM788 1809h4v4h-4zM796 1817h12v4h-12z" fill="#28a5b5" fill-opacity="0.831"/><path d="M820 1793h4v4h-4zM788 1805h4v4h-4zM792 1813h4v4h-4zM812 1813h4v4h-4z" fill="#30aaa8" fill-opacity="0.831"/><path d="M800 1789h4v4h-4zM816 1789h4v4h-4zM820 1797h4v4h-4zM820 1801h4v4h-4zM816 1809h4v4h-4z" fill="#39ae9b" fill-opacity="0.831"/><path d="M796 1793h4v4h-4zM792 1797h4v4h-4zM796 1813h4v4h-4zM808 1813h4v4h-4z" fill="#42b38d" fill-opacity="0.831"/><path d="M804 1789h12v4h-12zM792 1801h4v4h-4zM792 1809h4v4h-4z" fill="#4db781" fill-opacity="0.831"/><path d="M816 1793h4v4h-4zM792 1805h4v4h-4zM816 1805h4v4h-4zM812 1809h4v4h-4zM800 1813h8v4h-8z" fill="#5dbc77" fill-opacity="0.831"/><path d="M800 1793h4v4h-4zM816 1797h4v4h-4zM816 1801h4v4h-4zM796 1809h4v4h-4z" fill="#6dc16d" fill-opacity="0.831"/><path d="M812 1793h4v4h-4zM796 1797h4v4h-4z" fill="#7ec563" fill-opacity="0.831"/><path d="M804 1793h8v4h-8zM796 1801h4v4h-4zM796 1805h4v4h-4zM812 1805h4v4h-4zM800 1809h4v4h-4zM808 1809h4v4h-4z" fill="#8eca59" fill-opacity="0.831"/><path d="M812 1797h4v4h-4zM804 1809h4v4h-4z" fill="#9ecb51" fill-opacity="0.831"/><path d="M800 1797h4v4h-4zM812 1801h4v4h-4z" fill="#aeca4c" fill-opacity="0.831"/><path d="M804 1797h8v4h-8zM800 1801h4v4h-4zM800 1805h4v4h-4zM808 1805h4v4h-4z" fill="#bec848" fill-opacity="0.831"/><path d="M808 1801h4v4h-4zM804 1805h4v4h-4z" fill="#cdc642" fill-opacity="0.831"/><path d="M804 1801h4v4h-4z" fill="#ddc43d" fill-opacity="0.831"/>
</g>
<rect x="691.35" y="1644.5500000000002" width="267.09999999999997" height="266.8999999999998" fill="none" stroke="#000" stroke-width="4.3"/>
<line x1="799.7" y1="1642.4" x2="799.7" y2="1913.6" stroke="#000" stroke-width="4.2"/>
<line x1="689.2" y1="1755.0" x2="960.6" y2="1755.0" stroke="#000" stroke-width="4.2"/>
<rect x="683.7" y="1667.2" width="5.5" height="3.8" fill="#000"/><rect x="683.7" y="1727.5" width="5.5" height="3.8" fill="#000"/><rect x="683.7" y="1791.9" width="5.5" height="3.8" fill="#000"/><rect x="686.2" y="1710.047891261462" width="3" height="2.4" fill="#000"/><rect x="686.2" y="1699.4295883404045" width="3" height="2.4" fill="#000"/><rect x="686.2" y="1691.895782522924" width="3" height="2.4" fill="#000"/><rect x="686.2" y="1686.0521087385382" width="3" height="2.4" fill="#000"/><rect x="686.2" y="1681.2774796018664" width="3" height="2.4" fill="#000"/><rect x="686.2" y="1677.2405881871405" width="3" height="2.4" fill="#000"/><rect x="686.2" y="1673.743673784386" width="3" height="2.4" fill="#000"/><rect x="686.2" y="1670.6591766808087" width="3" height="2.4" fill="#000"/><rect x="686.2" y="1773.2136682792398" width="3" height="2.4" fill="#000"/><rect x="686.2" y="1761.8733911960537" width="3" height="2.4" fill="#000"/><rect x="686.2" y="1753.8273365584794" width="3" height="2.4" fill="#000"/><rect x="686.2" y="1747.5863317207604" width="3" height="2.4" fill="#000"/><rect x="686.2" y="1742.4870594752933" width="3" height="2.4" fill="#000"/><rect x="686.2" y="1738.1756862230818" width="3" height="2.4" fill="#000"/><rect x="686.2" y="1734.441004837719" width="3" height="2.4" fill="#000"/><rect x="686.2" y="1731.1467823921075" width="3" height="2.4" fill="#000"/><rect x="686.2" y="1837.6136682792398" width="3" height="2.4" fill="#000"/><rect x="686.2" y="1826.2733911960538" width="3" height="2.4" fill="#000"/><rect x="686.2" y="1818.2273365584795" width="3" height="2.4" fill="#000"/><rect x="686.2" y="1811.9863317207605" width="3" height="2.4" fill="#000"/><rect x="686.2" y="1806.8870594752934" width="3" height="2.4" fill="#000"/><rect x="686.2" y="1802.575686223082" width="3" height="2.4" fill="#000"/><rect x="686.2" y="1798.841004837719" width="3" height="2.4" fill="#000"/><rect x="686.2" y="1795.5467823921076" width="3" height="2.4" fill="#000"/><rect x="683.7" y="1852.5" width="5.5" height="3.8" fill="#000"/><rect x="683.7" y="1871.5" width="5.5" height="3.8" fill="#000"/><rect x="683.7" y="1889.0" width="5.5" height="3.8" fill="#000"/><rect x="686.2" y="1847.2" width="3" height="2.4" fill="#000"/><rect x="686.2" y="1859.2" width="3" height="2.4" fill="#000"/><rect x="686.2" y="1865.2" width="3" height="2.4" fill="#000"/><rect x="686.2" y="1878.2" width="3" height="2.4" fill="#000"/><rect x="686.2" y="1883.2" width="3" height="2.4" fill="#000"/><rect x="686.2" y="1895.2" width="3" height="2.4" fill="#000"/><rect x="686.2" y="1901.2" width="3" height="2.4" fill="#000"/><rect x="812.3000000000001" y="1913.6" width="3.8" height="5.5" fill="#000"/><rect x="873.5000000000001" y="1913.6" width="3.8" height="5.5" fill="#000"/><rect x="931.6" y="1913.6" width="3.8" height="5.5" fill="#000"/><rect x="770.2230357346356" y="1913.6" width="2.4" height="3" fill="#000"/><rect x="780.9998207888433" y="1913.6" width="2.4" height="3" fill="#000"/><rect x="788.6460714692713" y="1913.6" width="2.4" height="3" fill="#000"/><rect x="794.5769642653644" y="1913.6" width="2.4" height="3" fill="#000"/><rect x="799.422856523479" y="1913.6" width="2.4" height="3" fill="#000"/><rect x="803.5200000488725" y="1913.6" width="2.4" height="3" fill="#000"/><rect x="807.0691072039069" y="1913.6" width="2.4" height="3" fill="#000"/><rect x="810.1996415776866" y="1913.6" width="2.4" height="3" fill="#000"/><rect x="831.4230357346356" y="1913.6" width="2.4" height="3" fill="#000"/><rect x="842.1998207888433" y="1913.6" width="2.4" height="3" fill="#000"/><rect x="849.8460714692714" y="1913.6" width="2.4" height="3" fill="#000"/><rect x="855.7769642653644" y="1913.6" width="2.4" height="3" fill="#000"/><rect x="860.6228565234791" y="1913.6" width="2.4" height="3" fill="#000"/><rect x="864.7200000488725" y="1913.6" width="2.4" height="3" fill="#000"/><rect x="868.269107203907" y="1913.6" width="2.4" height="3" fill="#000"/><rect x="871.3996415776867" y="1913.6" width="2.4" height="3" fill="#000"/><rect x="891.6898427480774" y="1913.6" width="2.4" height="3" fill="#000"/><rect x="901.9207448992124" y="1913.6" width="2.4" height="3" fill="#000"/><rect x="909.1796854961547" y="1913.6" width="2.4" height="3" fill="#000"/><rect x="914.8101572519226" y="1913.6" width="2.4" height="3" fill="#000"/><rect x="919.4105876472896" y="1913.6" width="2.4" height="3" fill="#000"/><rect x="923.3001961248283" y="1913.6" width="2.4" height="3" fill="#000"/><rect x="926.6695282442319" y="1913.6" width="2.4" height="3" fill="#000"/><rect x="929.6414897984247" y="1913.6" width="2.4" height="3" fill="#000"/><rect x="949.7898427480773" y="1913.6" width="2.4" height="3" fill="#000"/><rect x="717.6" y="1913.6" width="3.8" height="5.5" fill="#000"/><rect x="734.6" y="1913.6" width="3.8" height="5.5" fill="#000"/><rect x="751.6" y="1913.6" width="3.8" height="5.5" fill="#000"/><rect x="724.3" y="1913.6" width="2.4" height="3" fill="#000"/><rect x="729.3" y="1913.6" width="2.4" height="3" fill="#000"/><rect x="741.3" y="1913.6" width="2.4" height="3" fill="#000"/><rect x="746.3" y="1913.6" width="2.4" height="3" fill="#000"/><rect x="746.3" y="1913.6" width="2.4" height="3" fill="#000"/><rect x="758.3" y="1913.6" width="2.4" height="3" fill="#000"/>
<path d="M1166.5,1274.3 V1664.9 H1548" fill="none" stroke="#000" stroke-width="4.6"/>
<rect x="1155.6" y="1643.75" width="10" height="4" fill="#000"/>
<rect x="1155.6" y="1570.1" width="10" height="4" fill="#000"/>
<rect x="1155.6" y="1496.45" width="10" height="4" fill="#000"/>
<rect x="1155.6" y="1422.8" width="10" height="4" fill="#000"/>
<rect x="1155.6" y="1349.15" width="10" height="4" fill="#000"/>
<rect x="1155.6" y="1275.5" width="10" height="4" fill="#000"/>
<rect x="1239.4" y="1665" width="4.2" height="17.5" fill="#000"/>
<rect x="1353.2" y="1665" width="4.2" height="17.5" fill="#000"/>
<rect x="1466.0" y="1665" width="4.2" height="17.5" fill="#000"/>
<path d="M1214.4,1664 V1333 H1269 V1664" fill="#fff" stroke="#231f20" stroke-width="3.6"/>
<circle cx="1241.9" cy="1332.9" r="9.6" fill="#231f20"/>
<path d="M1328.2,1664 V1640 H1382.7 V1664" fill="none" stroke="#231f20" stroke-width="4"/>
<rect x="1335" y="1635.5" width="41.3" height="9.9" fill="#231f20"/>
<circle cx="1325.3" cy="1630" r="7.3" fill="#f09476" stroke="#3a1f1a" stroke-width="1.3"/>
<circle cx="1325.3" cy="1645.4" r="7.3" fill="#f09476" stroke="#3a1f1a" stroke-width="1.3"/>
<circle cx="1345.4" cy="1637.5" r="7.3" fill="#f09476" stroke="#3a1f1a" stroke-width="1.3"/>
<circle cx="1365.4" cy="1645.4" r="7.3" fill="#f09476" stroke="#3a1f1a" stroke-width="1.3"/>
<circle cx="1385.8" cy="1644.7" r="7.3" fill="#f09476" stroke="#3a1f1a" stroke-width="1.3"/>
<path d="M1441.6,1664 V1642 H1496 V1664" fill="none" stroke="#231f20" stroke-width="4"/>
<rect x="1447" y="1639.5" width="15" height="6" fill="#231f20"/>
<circle cx="1438.4" cy="1644.1" r="7.3" fill="#0b72bd" stroke="#0a2a50" stroke-width="1.3"/>
<circle cx="1453.7" cy="1631.6" r="7.3" fill="#0b72bd" stroke="#0a2a50" stroke-width="1.3"/>
<circle cx="1469" cy="1642.8" r="7.3" fill="#0b72bd" stroke="#0a2a50" stroke-width="1.3"/>
<circle cx="1484" cy="1641" r="7.3" fill="#0b72bd" stroke="#0a2a50" stroke-width="1.3"/>
<circle cx="1499.3" cy="1644.7" r="7.3" fill="#0b72bd" stroke="#0a2a50" stroke-width="1.3"/>
<path d="M1716.1,1271.3 V1662 H2097.4" fill="none" stroke="#000" stroke-width="4.4"/>
<rect x="1703.1" y="1625.6" width="11" height="3.8" fill="#000"/>
<rect x="1703.1" y="1555.0" width="11" height="3.8" fill="#000"/>
<rect x="1703.1" y="1484.3999999999999" width="11" height="3.8" fill="#000"/>
<rect x="1703.1" y="1413.8" width="11" height="3.8" fill="#000"/>
<rect x="1703.1" y="1343.1999999999998" width="11" height="3.8" fill="#000"/>
<rect x="1703.1" y="1272.6" width="11" height="3.8" fill="#000"/>
<rect x="1788.8000000000002" y="1662" width="4.2" height="17.6" fill="#000"/>
<rect x="1902.9" y="1662" width="4.2" height="17.6" fill="#000"/>
<rect x="2015.6000000000001" y="1662" width="4.2" height="17.6" fill="#000"/>
<path d="M1764.2,1662 V1327.5 H1819.7 V1662" fill="#fff" stroke="#231f20" stroke-width="3.7"/>
<circle cx="1790.9" cy="1327.6" r="9.4" fill="#231f20"/>
<path d="M1877.8,1662 V1623.7 H1932.1 V1662" fill="none" stroke="#231f20" stroke-width="4"/>
<rect x="1884" y="1617.3" width="31" height="2.9" fill="#231f20" rx="1.4"/>
<rect x="1884" y="1627.6" width="41.8" height="3.2" fill="#231f20" rx="1.5"/>
<circle cx="1889.8" cy="1607.6" r="7.5" fill="#f09476" stroke="#3a1f1a" stroke-width="1.3"/>
<circle cx="1920" cy="1615" r="7.5" fill="#f09476" stroke="#3a1f1a" stroke-width="1.3"/>
<circle cx="1874.4" cy="1632.4" r="7.5" fill="#f09476" stroke="#3a1f1a" stroke-width="1.3"/>
<circle cx="1904.9" cy="1631.8" r="7.5" fill="#f09476" stroke="#3a1f1a" stroke-width="1.3"/>
<circle cx="1934.8" cy="1631.8" r="7.5" fill="#f09476" stroke="#3a1f1a" stroke-width="1.3"/>
<path d="M1990.9,1662 V1624 H2045.7 V1662" fill="none" stroke="#231f20" stroke-width="4"/>
<circle cx="1987.8" cy="1623.7" r="7.5" fill="#0b72bd" stroke="#0a2a50" stroke-width="1.3"/>
<circle cx="2003" cy="1614.4" r="7.5" fill="#0b72bd" stroke="#0a2a50" stroke-width="1.3"/>
<circle cx="2017.7" cy="1623" r="7.5" fill="#0b72bd" stroke="#0a2a50" stroke-width="1.3"/>
<circle cx="2033.5" cy="1618.8" r="7.5" fill="#0b72bd" stroke="#0a2a50" stroke-width="1.3"/>
<circle cx="2048.6" cy="1626.5" r="7.5" fill="#0b72bd" stroke="#0a2a50" stroke-width="1.3"/>
<g transform="translate(-0.74,42.85) scale(0.9407,1)"><text x="0" y="0" font-family="Liberation Sans, Arial, sans-serif" font-size="49.85" font-style="normal" font-weight="bold" fill="#141414">a</text></g>
<g transform="translate(180.59,53.85) scale(0.9065,1)"><text x="0" y="0" font-family="Liberation Sans, Arial, sans-serif" font-size="45.77" font-style="italic" font-weight="normal" fill="#141414">CTLA4</text></g>
<g transform="translate(545.27,54.00) scale(0.9148,1)"><text x="0" y="0" font-family="Liberation Sans, Arial, sans-serif" font-size="45.53" font-style="italic" font-weight="normal" fill="#141414">IL2RA</text></g>
<g transform="translate(906.84,52.45) scale(0.9560,1)"><text x="0" y="0" font-family="Liberation Sans, Arial, sans-serif" font-size="43.38" font-style="italic" font-weight="normal" fill="#141414">FOXP3</text></g>
<g transform="translate(1266.96,54.00) scale(0.9215,1)"><text x="0" y="0" font-family="Liberation Sans, Arial, sans-serif" font-size="45.53" font-style="italic" font-weight="normal" fill="#141414">IKZF2</text></g>
<g transform="translate(116.00,474.00) scale(0.8000,1)"><text x="0" y="0" font-family="Liberation Sans, Arial, sans-serif" font-size="40.89" font-style="normal" font-weight="normal" fill="#141414" stroke="#141414" stroke-width="0.3">WNN UMAP 1</text></g>
<g transform="translate(43.85,357.30) rotate(-90) scale(0.8427,1)"><text x="0" y="0" font-family="Liberation Sans, Arial, sans-serif" font-size="38.88" font-style="normal" font-weight="normal" fill="#141414" stroke="#141414" stroke-width="0.3">WNN UMAP 2</text></g>
<g transform="translate(121.03,81.10) scale(0.9714,1)"><text x="0" y="0" font-family="Liberation Sans, Arial, sans-serif" font-size="25.35" font-style="normal" font-weight="normal" fill="#141414">C11</text></g>
<g transform="translate(228.84,127.10) scale(0.9600,1)"><text x="0" y="0" font-family="Liberation Sans, Arial, sans-serif" font-size="25.35" font-style="normal" font-weight="normal" fill="#141414">C8</text></g>
<g transform="translate(158.99,198.35) scale(1.0103,1)"><text x="0" y="0" font-family="Liberation Sans, Arial, sans-serif" font-size="24.51" font-style="normal" font-weight="normal" fill="#141414">C7</text></g>
<g transform="translate(223.22,205.95) scale(0.9800,1)"><text x="0" y="0" font-family="Liberation Sans, Arial, sans-serif" font-size="24.51" font-style="normal" font-weight="normal" fill="#141414">C0</text></g>
<g transform="translate(317.10,222.90) scale(0.9000,1)"><text x="0" y="0" font-family="Liberation Sans, Arial, sans-serif" font-size="25.08" font-style="normal" font-weight="normal" fill="#141414">C1</text></g>
<g transform="translate(86.64,257.05) scale(0.9556,1)"><text x="0" y="0" font-family="Liberation Sans, Arial, sans-serif" font-size="25.37" font-style="normal" font-weight="normal" fill="#141414">C10</text></g>
<g transform="translate(261.21,264.70) scale(0.9867,1)"><text x="0" y="0" font-family="Liberation Sans, Arial, sans-serif" font-size="25.08" font-style="normal" font-weight="normal" fill="#141414">C9</text></g>
<g transform="translate(299.94,292.75) scale(0.9600,1)"><text x="0" y="0" font-family="Liberation Sans, Arial, sans-serif" font-size="25.37" font-style="normal" font-weight="normal" fill="#141414">C6</text></g>
<g transform="translate(145.01,307.15) scale(0.9867,1)"><text x="0" y="0" font-family="Liberation Sans, Arial, sans-serif" font-size="25.37" font-style="normal" font-weight="normal" fill="#141414">C3</text></g>
<g transform="translate(235.06,323.80) scale(0.9419,1)"><text x="0" y="0" font-family="Liberation Sans, Arial, sans-serif" font-size="25.66" font-style="normal" font-weight="normal" fill="#141414">C5</text></g>
<g transform="translate(327.24,339.75) scale(0.9600,1)"><text x="0" y="0" font-family="Liberation Sans, Arial, sans-serif" font-size="25.37" font-style="normal" font-weight="normal" fill="#141414">C2</text></g>
<g transform="translate(221.46,377.75) scale(0.9419,1)"><text x="0" y="0" font-family="Liberation Sans, Arial, sans-serif" font-size="25.37" font-style="normal" font-weight="normal" fill="#141414">C4</text></g>
<g transform="translate(1580.00,141.65) scale(1.0000,1)"><text x="0" y="0" font-family="Liberation Sans, Arial, sans-serif" font-size="32.68" font-style="normal" font-weight="normal" fill="#141414">8</text></g>
<g transform="translate(1578.87,195.65) scale(1.0667,1)"><text x="0" y="0" font-family="Liberation Sans, Arial, sans-serif" font-size="32.68" font-style="normal" font-weight="normal" fill="#141414">6</text></g>
<g transform="translate(1579.94,246.35) scale(1.0625,1)"><text x="0" y="0" font-family="Liberation Sans, Arial, sans-serif" font-size="32.29" font-style="normal" font-weight="normal" fill="#141414">4</text></g>
<g transform="translate(1579.93,299.00) scale(1.0667,1)"><text x="0" y="0" font-family="Liberation Sans, Arial, sans-serif" font-size="31.43" font-style="normal" font-weight="normal" fill="#141414">2</text></g>
<g transform="translate(1579.93,350.25) scale(1.0667,1)"><text x="0" y="0" font-family="Liberation Sans, Arial, sans-serif" font-size="30.76" font-style="normal" font-weight="normal" fill="#141414">0</text></g>
<g transform="translate(-0.13,556.25) scale(1.0440,1)"><text x="0" y="0" font-family="Liberation Sans, Arial, sans-serif" font-size="49.46" font-style="normal" font-weight="bold" fill="#141414">b</text></g>
<g transform="translate(24.77,638.00) scale(0.9159,1)"><text x="0" y="0" font-family="Liberation Sans, Arial, sans-serif" font-size="45.48" font-style="italic" font-weight="normal" fill="#141414">CTLA4</text></g>
<g transform="translate(36.64,762.50) scale(0.9311,1)"><text x="0" y="0" font-family="Liberation Sans, Arial, sans-serif" font-size="44.33" font-style="italic" font-weight="normal" fill="#141414">IL2RA</text></g>
<g transform="translate(20.41,887.40) scale(0.8899,1)"><text x="0" y="0" font-family="Liberation Sans, Arial, sans-serif" font-size="45.48" font-style="italic" font-weight="normal" fill="#141414">FOXP3</text></g>
<g transform="translate(38.39,1010.50) scale(0.9539,1)"><text x="0" y="0" font-family="Liberation Sans, Arial, sans-serif" font-size="43.15" font-style="italic" font-weight="normal" fill="#141414">IKZF2</text></g>
<g transform="translate(201.06,1133.90) scale(0.8200,1)"><text x="0" y="0" font-family="Liberation Sans, Arial, sans-serif" font-size="50.17" font-style="normal" font-weight="normal" fill="#141414" stroke="#141414" stroke-width="0.4">C0</text></g>
<g transform="translate(294.48,1133.90) scale(0.7583,1)"><text x="0" y="0" font-family="Liberation Sans, Arial, sans-serif" font-size="50.17" font-style="normal" font-weight="normal" fill="#141414" stroke="#141414" stroke-width="0.4">C1</text></g>
<g transform="translate(388.37,1133.90) scale(0.8167,1)"><text x="0" y="0" font-family="Liberation Sans, Arial, sans-serif" font-size="50.17" font-style="normal" font-weight="normal" fill="#141414" stroke="#141414" stroke-width="0.4">C2</text></g>
<g transform="translate(482.65,1133.90) scale(0.8250,1)"><text x="0" y="0" font-family="Liberation Sans, Arial, sans-serif" font-size="50.17" font-style="normal" font-weight="normal" fill="#141414" stroke="#141414" stroke-width="0.4">C3</text></g>
<g transform="translate(574.97,1133.90) scale(0.8164,1)"><text x="0" y="0" font-family="Liberation Sans, Arial, sans-serif" font-size="50.17" font-style="normal" font-weight="normal" fill="#141414" stroke="#141414" stroke-width="0.4">C4</text></g>
<g transform="translate(668.63,1133.90) scale(0.8333,1)"><text x="0" y="0" font-family="Liberation Sans, Arial, sans-serif" font-size="50.17" font-style="normal" font-weight="normal" fill="#141414" stroke="#141414" stroke-width="0.4">C5</text></g>
<g transform="translate(762.35,1133.90) scale(0.8267,1)"><text x="0" y="0" font-family="Liberation Sans, Arial, sans-serif" font-size="50.17" font-style="normal" font-weight="normal" fill="#141414" stroke="#141414" stroke-width="0.4">C6</text></g>
<g transform="translate(854.98,1133.90) scale(0.8083,1)"><text x="0" y="0" font-family="Liberation Sans, Arial, sans-serif" font-size="50.17" font-style="normal" font-weight="normal" fill="#141414" stroke="#141414" stroke-width="0.4">C7</text></g>
<g transform="translate(948.55,1133.90) scale(0.8267,1)"><text x="0" y="0" font-family="Liberation Sans, Arial, sans-serif" font-size="50.17" font-style="normal" font-weight="normal" fill="#141414" stroke="#141414" stroke-width="0.4">C8</text></g>
<g transform="translate(1039.63,1133.90) scale(0.8333,1)"><text x="0" y="0" font-family="Liberation Sans, Arial, sans-serif" font-size="50.17" font-style="normal" font-weight="normal" fill="#141414" stroke="#141414" stroke-width="0.4">C9</text></g>
<g transform="translate(1125.14,1133.90) scale(0.8295,1)"><text x="0" y="0" font-family="Liberation Sans, Arial, sans-serif" font-size="50.17" font-style="normal" font-weight="normal" fill="#141414" stroke="#141414" stroke-width="0.4">C10</text></g>
<g transform="translate(1224.39,1133.90) scale(0.8071,1)"><text x="0" y="0" font-family="Liberation Sans, Arial, sans-serif" font-size="50.17" font-style="normal" font-weight="normal" fill="#141414" stroke="#141414" stroke-width="0.4">C11</text></g>
<g transform="translate(1353.00,575.25) scale(1.0169,1)"><text x="0" y="0" font-family="Liberation Sans, Arial, sans-serif" font-size="32.23" font-style="normal" font-weight="normal" fill="#141414">Average</text></g>
<g transform="translate(1328.82,615.25) scale(1.0588,1)"><text x="0" y="0" font-family="Liberation Sans, Arial, sans-serif" font-size="31.92" font-style="normal" font-weight="normal" fill="#141414">Expression</text></g>
<g transform="translate(1556.97,616.80) scale(1.0304,1)"><text x="0" y="0" font-family="Liberation Sans, Arial, sans-serif" font-size="31.71" font-style="normal" font-weight="normal" fill="#141414">% Expressed</text></g>
<g transform="translate(1429.93,684.50) scale(1.0667,1)"><text x="0" y="0" font-family="Liberation Sans, Arial, sans-serif" font-size="31.50" font-style="normal" font-weight="normal" fill="#141414">2</text></g>
<g transform="translate(1430.70,739.00) scale(0.9000,1)"><text x="0" y="0" font-family="Liberation Sans, Arial, sans-serif" font-size="33.33" font-style="normal" font-weight="normal" fill="#141414">1</text></g>
<g transform="translate(1430.00,796.65) scale(1.0000,1)"><text x="0" y="0" font-family="Liberation Sans, Arial, sans-serif" font-size="32.68" font-style="normal" font-weight="normal" fill="#141414">0</text></g>
<g transform="translate(1425.05,855.00) scale(0.9464,1)"><text x="0" y="0" font-family="Liberation Sans, Arial, sans-serif" font-size="34.78" font-style="normal" font-weight="normal" fill="#141414">-1</text></g>
<g transform="translate(1663.59,669.85) scale(1.0057,1)"><text x="0" y="0" font-family="Liberation Sans, Arial, sans-serif" font-size="34.40" font-style="normal" font-weight="normal" fill="#141414">20</text></g>
<g transform="translate(1664.65,717.00) scale(0.9514,1)"><text x="0" y="0" font-family="Liberation Sans, Arial, sans-serif" font-size="35.27" font-style="normal" font-weight="normal" fill="#141414">40</text></g>
<g transform="translate(1663.47,765.55) scale(1.0667,1)"><text x="0" y="0" font-family="Liberation Sans, Arial, sans-serif" font-size="32.68" font-style="normal" font-weight="normal" fill="#141414">60</text></g>
<g transform="translate(0.27,1236.65) scale(1.0125,1)"><text x="0" y="0" font-family="Liberation Sans, Arial, sans-serif" font-size="49.11" font-style="normal" font-weight="bold" fill="#141414">c</text></g>
<g transform="translate(198.75,1257.30) scale(0.8536,1)"><text x="0" y="0" font-family="Liberation Sans, Arial, sans-serif" font-size="50.03" font-style="normal" font-weight="normal" fill="#141414" stroke="#141414" stroke-width="0.7">Treg</text></g>
<g transform="translate(495.13,1257.20) scale(0.8667,1)"><text x="0" y="0" font-family="Liberation Sans, Arial, sans-serif" font-size="51.15" font-style="normal" font-weight="normal" fill="#141414" stroke="#141414" stroke-width="0.7">Tcm</text></g>
<g transform="translate(748.13,1257.20) scale(0.8728,1)"><text x="0" y="0" font-family="Liberation Sans, Arial, sans-serif" font-size="48.38" font-style="normal" font-weight="normal" fill="#141414" stroke="#141414" stroke-width="0.7">Tn/mem</text></g>
<g transform="translate(477.25,1618.00) scale(0.9167,1)"><text x="0" y="0" font-family="Liberation Sans, Arial, sans-serif" font-size="36.62" font-style="normal" font-weight="normal" fill="#141414" stroke="#141414" stroke-width="0.4">Iso-APC</text></g>
<g transform="translate(461.74,1986.25) scale(0.8784,1)"><text x="0" y="0" font-family="Liberation Sans, Arial, sans-serif" font-size="38.04" font-style="normal" font-weight="normal" fill="#141414" stroke="#141414" stroke-width="0.4">CD25-APC</text></g>
<g transform="translate(47.85,1460.25) rotate(-90) scale(0.8120,1)"><text x="0" y="0" font-family="Liberation Sans, Arial, sans-serif" font-size="40.86" font-style="normal" font-weight="normal" fill="#141414" stroke="#141414" stroke-width="0.4">Iso-PE</text></g>
<g transform="translate(47.85,1861.51) rotate(-90) scale(0.8359,1)"><text x="0" y="0" font-family="Liberation Sans, Arial, sans-serif" font-size="40.29" font-style="normal" font-weight="normal" fill="#141414" stroke="#141414" stroke-width="0.4">FOXP3-PE</text></g>
<g transform="translate(1053.58,1240.35) scale(1.1125,1)"><text x="0" y="0" font-family="Liberation Sans, Arial, sans-serif" font-size="46.83" font-style="normal" font-weight="bold" fill="#141414">d</text></g>
<g transform="translate(1206.51,1265.00) scale(1.0432,1)"><text x="0" y="0" font-family="Liberation Sans, Arial, sans-serif" font-size="40.03" font-style="normal" font-weight="normal" fill="#141414" stroke="#141414" stroke-width="0.6">CD25/FOXP3+</text></g>
<g transform="translate(1101.60,1558.97) rotate(-90) scale(0.8743,1)"><text x="0" y="0" font-family="Liberation Sans, Arial, sans-serif" font-size="37.45" font-style="normal" font-weight="normal" fill="#141414" stroke="#141414" stroke-width="0.4">% Expression</text></g>
<g transform="translate(1622.50,1536.30) rotate(-90) scale(0.8340,1)"><text x="0" y="0" font-family="Liberation Sans, Arial, sans-serif" font-size="40.32" font-style="normal" font-weight="normal" fill="#141414" stroke="#141414" stroke-width="0.4">FOXP3 MFI</text></g>
<g transform="translate(1132.30,1656.25) scale(1.0000,1)"><text x="0" y="0" font-family="Liberation Sans, Arial, sans-serif" font-size="30.18" font-style="normal" font-weight="normal" fill="#141414">0</text></g>
<g transform="translate(1117.33,1582.60) scale(0.9677,1)"><text x="0" y="0" font-family="Liberation Sans, Arial, sans-serif" font-size="30.18" font-style="normal" font-weight="normal" fill="#141414">20</text></g>
<g transform="translate(1117.33,1508.95) scale(0.9677,1)"><text x="0" y="0" font-family="Liberation Sans, Arial, sans-serif" font-size="30.18" font-style="normal" font-weight="normal" fill="#141414">40</text></g>
<g transform="translate(1117.33,1435.30) scale(0.9677,1)"><text x="0" y="0" font-family="Liberation Sans, Arial, sans-serif" font-size="30.18" font-style="normal" font-weight="normal" fill="#141414">60</text></g>
<g transform="translate(1117.33,1361.65) scale(0.9677,1)"><text x="0" y="0" font-family="Liberation Sans, Arial, sans-serif" font-size="30.18" font-style="normal" font-weight="normal" fill="#141414">80</text></g>
<g transform="translate(1102.22,1288.00) scale(0.9404,1)"><text x="0" y="0" font-family="Liberation Sans, Arial, sans-serif" font-size="30.18" font-style="normal" font-weight="normal" fill="#141414">100</text></g>
<g transform="translate(1679.70,1638.50) scale(1.0000,1)"><text x="0" y="0" font-family="Liberation Sans, Arial, sans-serif" font-size="30.18" font-style="normal" font-weight="normal" fill="#141414">0</text></g>
<g transform="translate(1635.89,1567.90) scale(0.9062,1)"><text x="0" y="0" font-family="Liberation Sans, Arial, sans-serif" font-size="30.18" font-style="normal" font-weight="normal" fill="#141414">1000</text></g>
<g transform="translate(1632.75,1497.30) scale(0.9538,1)"><text x="0" y="0" font-family="Liberation Sans, Arial, sans-serif" font-size="30.18" font-style="normal" font-weight="normal" fill="#141414">2000</text></g>
<g transform="translate(1632.75,1426.70) scale(0.9538,1)"><text x="0" y="0" font-family="Liberation Sans, Arial, sans-serif" font-size="30.18" font-style="normal" font-weight="normal" fill="#141414">3000</text></g>
<g transform="translate(1631.73,1356.10) scale(0.9692,1)"><text x="0" y="0" font-family="Liberation Sans, Arial, sans-serif" font-size="30.18" font-style="normal" font-weight="normal" fill="#141414">4000</text></g>
<g transform="translate(1632.75,1285.50) scale(0.9538,1)"><text x="0" y="0" font-family="Liberation Sans, Arial, sans-serif" font-size="30.18" font-style="normal" font-weight="normal" fill="#141414">5000</text></g>
<g transform="translate(1202.94,1726.20) scale(0.8557,1)"><text x="0" y="0" font-family="Liberation Sans, Arial, sans-serif" font-size="50.03" font-style="normal" font-weight="normal" fill="#141414" stroke="#141414" stroke-width="0.5">Treg</text></g>
<g transform="translate(1319.70,1726.65) scale(0.8954,1)"><text x="0" y="0" font-family="Liberation Sans, Arial, sans-serif" font-size="49.71" font-style="normal" font-weight="normal" fill="#141414" stroke="#141414" stroke-width="0.5">Tcm</text></g>
<g transform="translate(1414.84,1726.75) scale(0.8609,1)"><text x="0" y="0" font-family="Liberation Sans, Arial, sans-serif" font-size="48.66" font-style="normal" font-weight="normal" fill="#141414" stroke="#141414" stroke-width="0.5">Tn/mem</text></g>
<g transform="translate(1739.52,1725.70) scale(0.8787,1)"><text x="0" y="0" font-family="Liberation Sans, Arial, sans-serif" font-size="48.68" font-style="normal" font-weight="normal" fill="#141414" stroke="#141414" stroke-width="0.5">Treg</text></g>
<g transform="translate(1856.11,1727.00) scale(0.8931,1)"><text x="0" y="0" font-family="Liberation Sans, Arial, sans-serif" font-size="50.00" font-style="normal" font-weight="normal" fill="#141414" stroke="#141414" stroke-width="0.5">Tcm</text></g>
<g transform="translate(1951.33,1727.00) scale(0.8653,1)"><text x="0" y="0" font-family="Liberation Sans, Arial, sans-serif" font-size="48.38" font-style="normal" font-weight="normal" fill="#141414" stroke="#141414" stroke-width="0.5">Tn/mem</text></g>
<g transform="translate(120.09,1311.65) scale(1.0083,1)"><text x="0" y="0" font-family="Liberation Sans, Arial, sans-serif" font-size="25.07" font-style="normal" font-weight="normal" fill="#141414">0</text></g>
<g transform="translate(345.89,1311.65) scale(1.0083,1)"><text x="0" y="0" font-family="Liberation Sans, Arial, sans-serif" font-size="25.07" font-style="normal" font-weight="normal" fill="#141414">0</text></g>
<g transform="translate(344.39,1528.05) scale(1.0083,1)"><text x="0" y="0" font-family="Liberation Sans, Arial, sans-serif" font-size="25.07" font-style="normal" font-weight="normal" fill="#141414">0</text></g>
<g transform="translate(139.90,1579.90) scale(1.1000,1)"><text x="0" y="0" font-family="Liberation Sans, Arial, sans-serif" font-size="23.38" font-style="normal" font-weight="normal" fill="#141414">0</text></g>
<g transform="translate(209.20,1579.65) scale(1.0486,1)"><text x="0" y="0" font-family="Liberation Sans, Arial, sans-serif" font-size="24.82" font-style="normal" font-weight="normal" fill="#141414">10<tspan font-size="19.12" dy="-6.95">3</tspan></text></g>
<g transform="translate(272.56,1579.65) scale(1.0194,1)"><text x="0" y="0" font-family="Liberation Sans, Arial, sans-serif" font-size="24.82" font-style="normal" font-weight="normal" fill="#141414">10<tspan font-size="19.12" dy="-6.95">4</tspan></text></g>
<g transform="translate(333.70,1579.65) scale(1.0486,1)"><text x="0" y="0" font-family="Liberation Sans, Arial, sans-serif" font-size="24.82" font-style="normal" font-weight="normal" fill="#141414">10<tspan font-size="19.12" dy="-6.95">5</tspan></text></g>
<g transform="translate(56.72,1311.50) scale(1.0400,1)"><text x="0" y="0" font-family="Liberation Sans, Arial, sans-serif" font-size="24.82" font-style="normal" font-weight="normal" fill="#141414">10<tspan font-size="19.11" dy="-6.95">5</tspan></text></g>
<g transform="translate(56.78,1374.00) scale(1.0111,1)"><text x="0" y="0" font-family="Liberation Sans, Arial, sans-serif" font-size="24.82" font-style="normal" font-weight="normal" fill="#141414">10<tspan font-size="19.11" dy="-6.95">4</tspan></text></g>
<g transform="translate(56.72,1436.50) scale(1.0400,1)"><text x="0" y="0" font-family="Liberation Sans, Arial, sans-serif" font-size="24.82" font-style="normal" font-weight="normal" fill="#141414">10<tspan font-size="19.11" dy="-6.95">3</tspan></text></g>
<g transform="translate(79.02,1518.80) scale(1.0818,1)"><text x="0" y="0" font-family="Liberation Sans, Arial, sans-serif" font-size="22.85" font-style="normal" font-weight="normal" fill="#141414">0</text></g>
<g transform="translate(411.39,1311.25) scale(1.0083,1)"><text x="0" y="0" font-family="Liberation Sans, Arial, sans-serif" font-size="25.07" font-style="normal" font-weight="normal" fill="#141414">0</text></g>
<g transform="translate(638.09,1311.25) scale(1.0083,1)"><text x="0" y="0" font-family="Liberation Sans, Arial, sans-serif" font-size="25.07" font-style="normal" font-weight="normal" fill="#141414">0</text></g>
<g transform="translate(636.39,1527.85) scale(1.0083,1)"><text x="0" y="0" font-family="Liberation Sans, Arial, sans-serif" font-size="25.07" font-style="normal" font-weight="normal" fill="#141414">0</text></g>
<g transform="translate(428.00,1579.70) scale(1.1000,1)"><text x="0" y="0" font-family="Liberation Sans, Arial, sans-serif" font-size="23.38" font-style="normal" font-weight="normal" fill="#141414">0</text></g>
<g transform="translate(496.90,1579.45) scale(1.0486,1)"><text x="0" y="0" font-family="Liberation Sans, Arial, sans-serif" font-size="24.82" font-style="normal" font-weight="normal" fill="#141414">10<tspan font-size="19.12" dy="-6.95">3</tspan></text></g>
<g transform="translate(560.46,1579.45) scale(1.0194,1)"><text x="0" y="0" font-family="Liberation Sans, Arial, sans-serif" font-size="24.82" font-style="normal" font-weight="normal" fill="#141414">10<tspan font-size="19.12" dy="-6.95">4</tspan></text></g>
<g transform="translate(621.80,1579.45) scale(1.0486,1)"><text x="0" y="0" font-family="Liberation Sans, Arial, sans-serif" font-size="24.82" font-style="normal" font-weight="normal" fill="#141414">10<tspan font-size="19.12" dy="-6.95">5</tspan></text></g>
<g transform="translate(697.69,1311.85) scale(1.0083,1)"><text x="0" y="0" font-family="Liberation Sans, Arial, sans-serif" font-size="25.07" font-style="normal" font-weight="normal" fill="#141414">0</text></g>
<g transform="translate(928.39,1311.85) scale(1.0083,1)"><text x="0" y="0" font-family="Liberation Sans, Arial, sans-serif" font-size="25.07" font-style="normal" font-weight="normal" fill="#141414">0</text></g>
<g transform="translate(926.69,1528.45) scale(1.0083,1)"><text x="0" y="0" font-family="Liberation Sans, Arial, sans-serif" font-size="25.07" font-style="normal" font-weight="normal" fill="#141414">0</text></g>
<g transform="translate(724.30,1579.10) scale(1.1000,1)"><text x="0" y="0" font-family="Liberation Sans, Arial, sans-serif" font-size="23.38" font-style="normal" font-weight="normal" fill="#141414">0</text></g>
<g transform="translate(793.80,1578.85) scale(1.0486,1)"><text x="0" y="0" font-family="Liberation Sans, Arial, sans-serif" font-size="24.82" font-style="normal" font-weight="normal" fill="#141414">10<tspan font-size="19.12" dy="-6.95">3</tspan></text></g>
<g transform="translate(857.66,1578.85) scale(1.0194,1)"><text x="0" y="0" font-family="Liberation Sans, Arial, sans-serif" font-size="24.82" font-style="normal" font-weight="normal" fill="#141414">10<tspan font-size="19.12" dy="-6.95">4</tspan></text></g>
<g transform="translate(918.60,1578.85) scale(1.0486,1)"><text x="0" y="0" font-family="Liberation Sans, Arial, sans-serif" font-size="24.82" font-style="normal" font-weight="normal" fill="#141414">10<tspan font-size="19.12" dy="-6.95">5</tspan></text></g>
<g transform="translate(119.99,1676.05) scale(1.0083,1)"><text x="0" y="0" font-family="Liberation Sans, Arial, sans-serif" font-size="25.07" font-style="normal" font-weight="normal" fill="#141414">0</text></g>
<g transform="translate(333.85,1675.85) scale(1.0462,1)"><text x="0" y="0" font-family="Liberation Sans, Arial, sans-serif" font-size="25.07" font-style="normal" font-weight="normal" fill="#141414">85</text></g>
<g transform="translate(332.52,1892.85) scale(1.0400,1)"><text x="0" y="0" font-family="Liberation Sans, Arial, sans-serif" font-size="25.43" font-style="normal" font-weight="normal" fill="#141414">15</text></g>
<g transform="translate(136.90,1946.50) scale(1.1000,1)"><text x="0" y="0" font-family="Liberation Sans, Arial, sans-serif" font-size="23.38" font-style="normal" font-weight="normal" fill="#141414">0</text></g>
<g transform="translate(204.90,1946.25) scale(1.0486,1)"><text x="0" y="0" font-family="Liberation Sans, Arial, sans-serif" font-size="24.82" font-style="normal" font-weight="normal" fill="#141414">10<tspan font-size="19.12" dy="-6.95">3</tspan></text></g>
<g transform="translate(268.66,1946.25) scale(1.0194,1)"><text x="0" y="0" font-family="Liberation Sans, Arial, sans-serif" font-size="24.82" font-style="normal" font-weight="normal" fill="#141414">10<tspan font-size="19.12" dy="-6.95">4</tspan></text></g>
<g transform="translate(329.90,1946.25) scale(1.0486,1)"><text x="0" y="0" font-family="Liberation Sans, Arial, sans-serif" font-size="24.82" font-style="normal" font-weight="normal" fill="#141414">10<tspan font-size="19.12" dy="-6.95">5</tspan></text></g>
<g transform="translate(56.72,1676.20) scale(1.0400,1)"><text x="0" y="0" font-family="Liberation Sans, Arial, sans-serif" font-size="24.82" font-style="normal" font-weight="normal" fill="#141414">10<tspan font-size="19.11" dy="-6.95">5</tspan></text></g>
<g transform="translate(56.78,1738.70) scale(1.0111,1)"><text x="0" y="0" font-family="Liberation Sans, Arial, sans-serif" font-size="24.82" font-style="normal" font-weight="normal" fill="#141414">10<tspan font-size="19.11" dy="-6.95">4</tspan></text></g>
<g transform="translate(56.72,1801.20) scale(1.0400,1)"><text x="0" y="0" font-family="Liberation Sans, Arial, sans-serif" font-size="24.82" font-style="normal" font-weight="normal" fill="#141414">10<tspan font-size="19.11" dy="-6.95">3</tspan></text></g>
<g transform="translate(79.02,1883.50) scale(1.0818,1)"><text x="0" y="0" font-family="Liberation Sans, Arial, sans-serif" font-size="22.85" font-style="normal" font-weight="normal" fill="#141414">0</text></g>
<g transform="translate(410.89,1676.05) scale(1.0083,1)"><text x="0" y="0" font-family="Liberation Sans, Arial, sans-serif" font-size="25.07" font-style="normal" font-weight="normal" fill="#141414">0</text></g>
<g transform="translate(637.89,1676.05) scale(1.0083,1)"><text x="0" y="0" font-family="Liberation Sans, Arial, sans-serif" font-size="25.43" font-style="normal" font-weight="normal" fill="#141414">5</text></g>
<g transform="translate(623.53,1893.05) scale(1.0692,1)"><text x="0" y="0" font-family="Liberation Sans, Arial, sans-serif" font-size="25.07" font-style="normal" font-weight="normal" fill="#141414">69</text></g>
<g transform="translate(427.50,1946.30) scale(1.1000,1)"><text x="0" y="0" font-family="Liberation Sans, Arial, sans-serif" font-size="23.38" font-style="normal" font-weight="normal" fill="#141414">0</text></g>
<g transform="translate(496.20,1946.05) scale(1.0486,1)"><text x="0" y="0" font-family="Liberation Sans, Arial, sans-serif" font-size="24.82" font-style="normal" font-weight="normal" fill="#141414">10<tspan font-size="19.12" dy="-6.95">3</tspan></text></g>
<g transform="translate(559.96,1946.05) scale(1.0194,1)"><text x="0" y="0" font-family="Liberation Sans, Arial, sans-serif" font-size="24.82" font-style="normal" font-weight="normal" fill="#141414">10<tspan font-size="19.12" dy="-6.95">4</tspan></text></g>
<g transform="translate(621.40,1946.05) scale(1.0486,1)"><text x="0" y="0" font-family="Liberation Sans, Arial, sans-serif" font-size="24.82" font-style="normal" font-weight="normal" fill="#141414">10<tspan font-size="19.12" dy="-6.95">5</tspan></text></g>
<g transform="translate(700.99,1676.05) scale(1.0083,1)"><text x="0" y="0" font-family="Liberation Sans, Arial, sans-serif" font-size="25.07" font-style="normal" font-weight="normal" fill="#141414">0</text></g>
<g transform="translate(928.00,1676.05) scale(0.9286,1)"><text x="0" y="0" font-family="Liberation Sans, Arial, sans-serif" font-size="25.43" font-style="normal" font-weight="normal" fill="#141414">4</text></g>
<g transform="translate(917.13,1893.05) scale(1.0692,1)"><text x="0" y="0" font-family="Liberation Sans, Arial, sans-serif" font-size="25.07" font-style="normal" font-weight="normal" fill="#141414">68</text></g>
<g transform="translate(727.50,1946.30) scale(1.1000,1)"><text x="0" y="0" font-family="Liberation Sans, Arial, sans-serif" font-size="23.38" font-style="normal" font-weight="normal" fill="#141414">0</text></g>
<g transform="translate(796.40,1946.05) scale(1.0486,1)"><text x="0" y="0" font-family="Liberation Sans, Arial, sans-serif" font-size="24.82" font-style="normal" font-weight="normal" fill="#141414">10<tspan font-size="19.12" dy="-6.95">3</tspan></text></g>
<g transform="translate(859.96,1946.05) scale(1.0194,1)"><text x="0" y="0" font-family="Liberation Sans, Arial, sans-serif" font-size="24.82" font-style="normal" font-weight="normal" fill="#141414">10<tspan font-size="19.12" dy="-6.95">4</tspan></text></g>
<g transform="translate(920.90,1946.05) scale(1.0486,1)"><text x="0" y="0" font-family="Liberation Sans, Arial, sans-serif" font-size="24.82" font-style="normal" font-weight="normal" fill="#141414">10<tspan font-size="19.12" dy="-6.95">5</tspan></text></g>
</svg></body></html>
